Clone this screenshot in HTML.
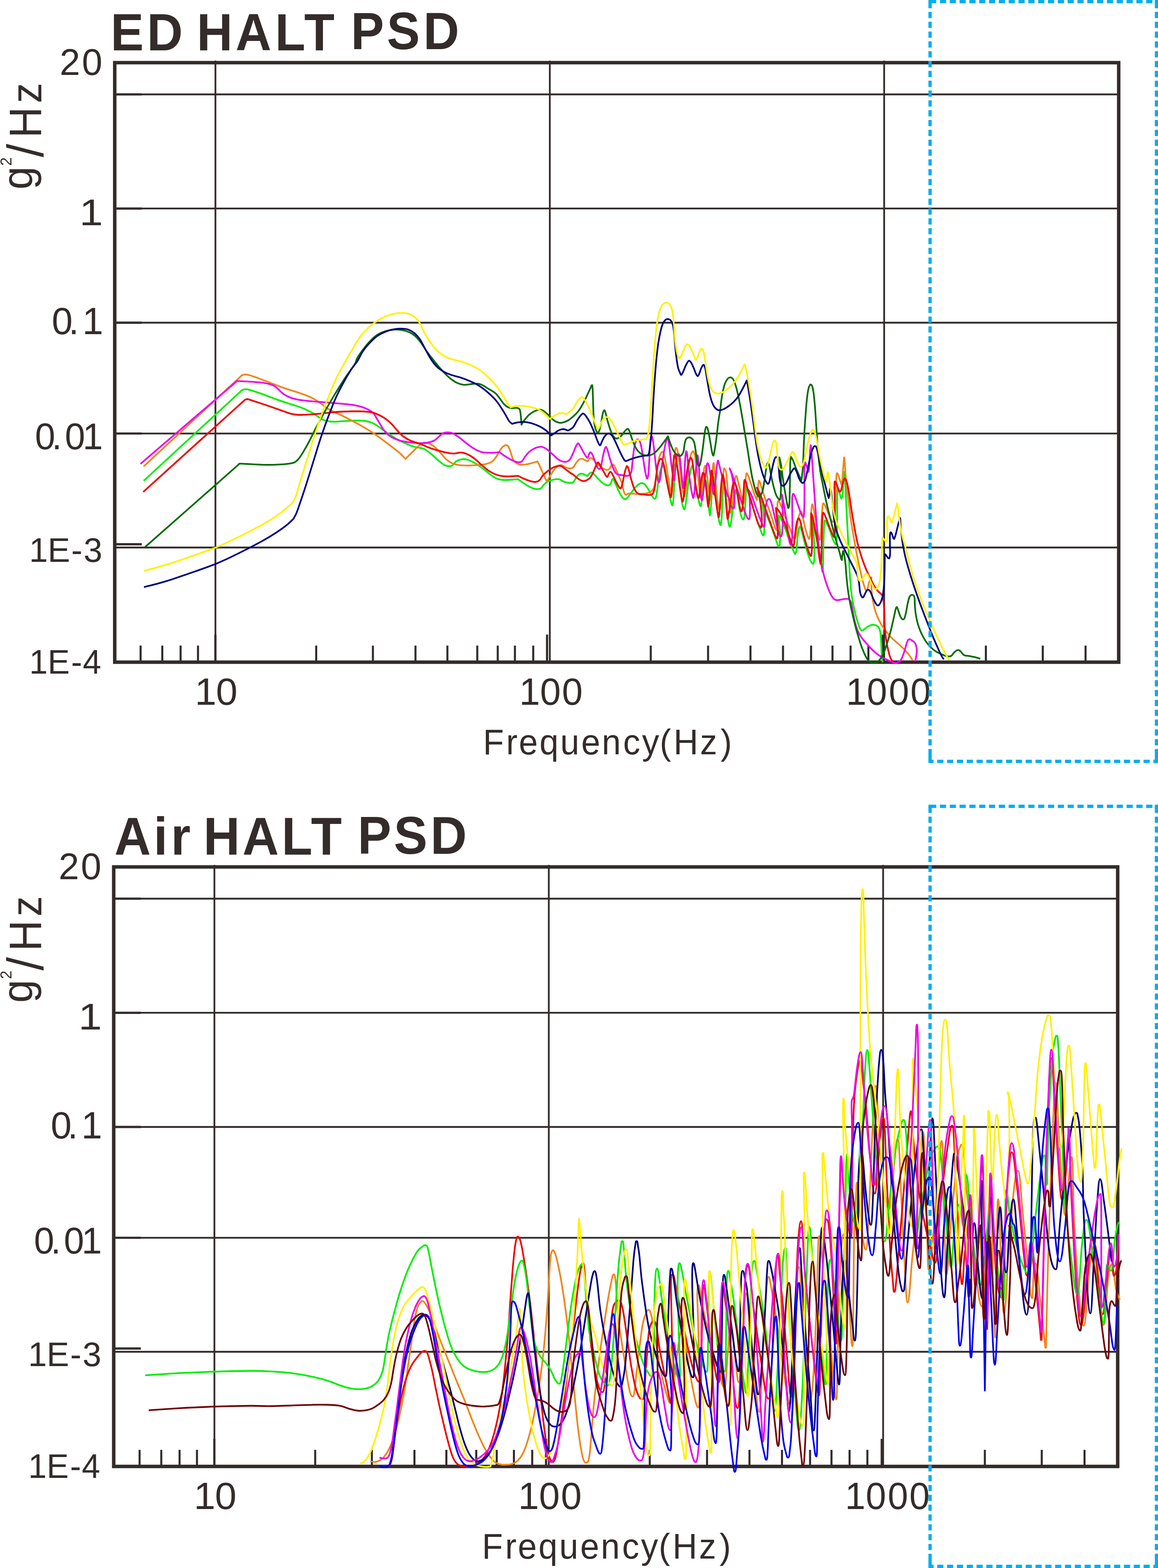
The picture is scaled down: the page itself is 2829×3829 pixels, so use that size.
<!DOCTYPE html>
<html lang="en">
<head>
<meta charset="utf-8">
<title>HALT PSD</title>
<style>
html,body{margin:0;padding:0;background:#fff;}
body{width:2829px;height:3829px;overflow:hidden;}
svg{display:block;}
text{font-family:"Liberation Sans",sans-serif;fill:#332c2b;}
.title{font-weight:bold;font-size:122px;letter-spacing:5px;}
.tk{font-size:86px;letter-spacing:2px;}
.xl{font-size:84px;letter-spacing:5px;}
.yl{font-size:106px;letter-spacing:3px;}
.sup{font-size:38px;}
.c{fill:none;stroke-width:4.1;stroke-linejoin:round;stroke-linecap:butt;}
</style>
</head>
<body>
<svg width="2829" height="3829" viewBox="0 0 2829 3829">
<rect width="2829" height="3829" fill="#fff"/>
<g id="chart-top">
<line x1="280" y1="230.5" x2="2733" y2="230.5" stroke="#332c2b" stroke-width="4.3" />
<line x1="280" y1="509.2" x2="2733" y2="509.2" stroke="#332c2b" stroke-width="4.3" />
<line x1="280" y1="788" x2="2733" y2="788" stroke="#332c2b" stroke-width="4.3" />
<line x1="280" y1="1058.6" x2="2733" y2="1058.6" stroke="#332c2b" stroke-width="4.3" />
<line x1="280" y1="1337" x2="2733" y2="1337" stroke="#332c2b" stroke-width="4.3" />
<line x1="282" y1="230.5" x2="346.5" y2="230.5" stroke="#332c2b" stroke-width="5.4" />
<line x1="282" y1="509.2" x2="346.5" y2="509.2" stroke="#332c2b" stroke-width="5.4" />
<line x1="282" y1="788" x2="346.5" y2="788" stroke="#332c2b" stroke-width="5.4" />
<line x1="282" y1="1058.6" x2="346.5" y2="1058.6" stroke="#332c2b" stroke-width="5.4" />
<line x1="282" y1="1329" x2="346.5" y2="1329" stroke="#332c2b" stroke-width="5.4" />
<line x1="526.3" y1="148" x2="526.3" y2="1617" stroke="#332c2b" stroke-width="4.3" />
<line x1="1343.2" y1="148" x2="1343.2" y2="1617" stroke="#332c2b" stroke-width="4.3" />
<line x1="2160" y1="148" x2="2160" y2="1617" stroke="#332c2b" stroke-width="4.3" />
<line x1="343.5" y1="1576.5" x2="343.5" y2="1617" stroke="#332c2b" stroke-width="5" />
<line x1="396.5" y1="1576.5" x2="396.5" y2="1617" stroke="#332c2b" stroke-width="5" />
<line x1="441.2" y1="1576.5" x2="441.2" y2="1617" stroke="#332c2b" stroke-width="5" />
<line x1="483.7" y1="1576.5" x2="483.7" y2="1617" stroke="#332c2b" stroke-width="5" />
<line x1="772.5" y1="1576.5" x2="772.5" y2="1617" stroke="#332c2b" stroke-width="5" />
<line x1="911" y1="1576.5" x2="911" y2="1617" stroke="#332c2b" stroke-width="5" />
<line x1="1015" y1="1576.5" x2="1015" y2="1617" stroke="#332c2b" stroke-width="5" />
<line x1="1093" y1="1576.5" x2="1093" y2="1617" stroke="#332c2b" stroke-width="5" />
<line x1="1166" y1="1576.5" x2="1166" y2="1617" stroke="#332c2b" stroke-width="5" />
<line x1="1216" y1="1576.5" x2="1216" y2="1617" stroke="#332c2b" stroke-width="5" />
<line x1="1258" y1="1576.5" x2="1258" y2="1617" stroke="#332c2b" stroke-width="5" />
<line x1="1302.7" y1="1576.5" x2="1302.7" y2="1617" stroke="#332c2b" stroke-width="5" />
<line x1="1589.8" y1="1576.5" x2="1589.8" y2="1617" stroke="#332c2b" stroke-width="5" />
<line x1="1729.8" y1="1576.5" x2="1729.8" y2="1617" stroke="#332c2b" stroke-width="5" />
<line x1="1833.4" y1="1576.5" x2="1833.4" y2="1617" stroke="#332c2b" stroke-width="5" />
<line x1="1912.9" y1="1576.5" x2="1912.9" y2="1617" stroke="#332c2b" stroke-width="5" />
<line x1="1981.5" y1="1576.5" x2="1981.5" y2="1617" stroke="#332c2b" stroke-width="5" />
<line x1="2033.8" y1="1576.5" x2="2033.8" y2="1617" stroke="#332c2b" stroke-width="5" />
<line x1="2078" y1="1576.5" x2="2078" y2="1617" stroke="#332c2b" stroke-width="5" />
<line x1="2121.5" y1="1576.5" x2="2121.5" y2="1617" stroke="#332c2b" stroke-width="5" />
<line x1="2408.5" y1="1576.5" x2="2408.5" y2="1617" stroke="#332c2b" stroke-width="5" />
<line x1="2547.5" y1="1576.5" x2="2547.5" y2="1617" stroke="#332c2b" stroke-width="5" />
<line x1="2652" y1="1576.5" x2="2652" y2="1617" stroke="#332c2b" stroke-width="5" />
<line x1="526.2" y1="1549.6" x2="526.2" y2="1617" stroke="#332c2b" stroke-width="5.4" />
<line x1="1336.5" y1="1549.6" x2="1336.5" y2="1617" stroke="#332c2b" stroke-width="5.4" />
<line x1="2156.6" y1="1549.6" x2="2156.6" y2="1617" stroke="#332c2b" stroke-width="5.4" />
<rect x="280.3" y="153" width="2452.7" height="1464" fill="none" stroke="#332c2b" stroke-width="8.5"/>
<g class="c">
<path d="M351.1 1174.0L591.5 952.4C592.7 952.1 596.0 950.7 598.8 950.6C601.5 950.5 601.2 949.9 607.8 951.7C614.5 953.5 627.5 957.6 638.7 961.5C649.9 965.4 662.9 971.0 675.0 975.3C687.1 979.6 700.5 983.7 711.4 987.3C722.3 990.9 731.3 993.3 740.4 997.1C749.5 1000.8 758.6 1005.6 765.8 1009.8C773.1 1014.0 778.6 1019.5 784.0 1022.5C789.4 1025.5 793.1 1026.8 798.5 1028.0C804.0 1029.2 808.8 1029.8 816.7 1029.8C824.6 1029.8 836.1 1028.5 845.7 1028.0C855.4 1027.5 866.3 1026.8 874.8 1026.9C883.3 1027.0 889.9 1027.3 896.6 1028.7C903.3 1030.1 906.8 1030.7 914.8 1035.2C922.7 1039.8 935.9 1050.1 944.4 1055.9C953.0 1061.8 959.0 1066.2 966.2 1070.5C973.5 1074.7 980.8 1078.0 988.0 1081.4C995.3 1084.7 1003.1 1088.3 1009.8 1090.4C1016.5 1092.6 1023.1 1092.9 1028.0 1094.1C1032.8 1095.3 1034.6 1095.3 1038.9 1097.7C1043.1 1100.1 1047.9 1104.1 1053.4 1108.6C1058.8 1113.1 1066.1 1120.4 1071.6 1124.9C1077.0 1129.5 1081.2 1133.6 1086.1 1135.8C1090.9 1138.1 1097.0 1138.7 1100.6 1138.4C1104.2 1138.1 1105.5 1136.1 1107.9 1134.0C1110.3 1132.0 1111.5 1128.2 1115.1 1126.0C1118.8 1123.9 1124.8 1121.8 1129.7 1121.3C1134.5 1120.8 1138.7 1121.3 1144.2 1123.1C1149.6 1124.9 1156.3 1128.6 1162.4 1132.2C1168.4 1135.8 1174.5 1140.4 1180.5 1144.9C1186.6 1149.5 1193.2 1155.5 1198.7 1159.4C1204.1 1163.4 1207.8 1166.4 1213.2 1168.5C1218.6 1170.6 1225.3 1171.7 1231.4 1172.2C1237.4 1172.6 1243.8 1171.7 1249.5 1171.4C1255.3 1171.1 1263.1 1170.5 1265.9 1170.3C1268.0 1171.9 1274.0 1176.4 1278.6 1179.4C1283.1 1182.5 1288.3 1186.1 1293.1 1188.5C1297.9 1190.9 1303.1 1193.2 1307.6 1194.0C1312.2 1194.7 1317.0 1194.7 1320.3 1193.2C1323.7 1191.7 1324.9 1187.7 1327.6 1184.9C1330.3 1182.1 1332.8 1178.8 1336.7 1176.5C1340.6 1174.3 1346.4 1172.5 1351.2 1171.4C1356.1 1170.4 1361.5 1169.6 1365.7 1170.3C1370.0 1171.1 1372.4 1174.3 1376.6 1175.8C1380.9 1177.3 1387.3 1179.1 1391.2 1179.4C1395.1 1179.8 1397.3 1180.0 1400.0 1178.0C1402.7 1175.9 1404.8 1170.3 1407.3 1167.1C1409.7 1163.8 1412.1 1160.3 1414.5 1158.6C1416.9 1156.9 1419.4 1156.5 1421.8 1156.7C1424.2 1156.8 1426.8 1158.3 1429.1 1159.3C1431.3 1160.3 1434.1 1162.1 1435.1 1162.7C1435.9 1161.6 1438.3 1157.7 1440.0 1156.2C1441.6 1154.7 1443.0 1153.6 1444.8 1153.8C1446.6 1154.0 1448.2 1155.0 1450.8 1157.4C1453.5 1159.8 1457.3 1164.9 1460.5 1168.3C1463.8 1171.7 1467.0 1175.3 1470.2 1178.0C1473.4 1180.6 1477.1 1182.8 1479.9 1184.0C1482.7 1185.2 1485.1 1185.8 1487.2 1185.2C1489.2 1184.6 1490.6 1182.8 1492.0 1180.4C1493.4 1178.0 1494.6 1172.4 1495.6 1170.7C1496.7 1169.0 1497.1 1169.2 1498.1 1170.2C1499.1 1171.2 1499.9 1172.8 1501.7 1176.8C1503.5 1180.7 1506.5 1188.5 1509.0 1193.7C1511.4 1199.0 1514.0 1204.4 1516.2 1208.2C1518.4 1212.1 1520.5 1214.9 1522.3 1216.7C1524.1 1218.5 1525.5 1219.2 1527.1 1219.1C1528.7 1219.0 1529.7 1218.4 1532.0 1216.2C1534.2 1214.0 1537.4 1209.8 1540.4 1205.8C1543.5 1201.9 1546.9 1196.3 1550.1 1192.5C1553.3 1188.7 1557.0 1184.9 1559.8 1182.8C1562.6 1180.7 1564.6 1179.8 1567.1 1179.7C1569.5 1179.5 1571.9 1180.1 1574.3 1182.1C1576.8 1184.0 1579.2 1187.7 1581.6 1191.3C1584.0 1194.8 1586.6 1199.6 1588.9 1203.4C1591.1 1207.2 1593.1 1211.9 1594.9 1214.3C1596.7 1216.7 1598.3 1218.5 1599.8 1217.9C1601.2 1217.3 1602.2 1215.9 1603.4 1210.7C1604.6 1205.4 1605.6 1195.7 1607.0 1186.4C1608.4 1177.2 1610.3 1162.8 1611.9 1155.0C1613.5 1147.1 1615.5 1142.1 1616.7 1139.2C1617.9 1136.4 1618.1 1137.0 1619.1 1138.0C1620.1 1139.0 1621.1 1139.2 1622.8 1145.3C1624.4 1151.3 1626.6 1163.4 1628.8 1174.3C1631.0 1185.2 1634.3 1201.8 1636.1 1210.7C1637.9 1219.5 1638.6 1223.8 1639.7 1227.6C1640.8 1231.4 1641.9 1235.3 1642.9 1233.7C1643.8 1232.0 1644.5 1227.8 1645.3 1217.9C1646.0 1208.0 1646.7 1187.7 1647.5 1174.3C1648.2 1161.0 1649.2 1145.3 1649.9 1138.0C1650.6 1130.8 1651.0 1130.3 1651.8 1130.8C1652.6 1131.2 1653.3 1132.4 1654.7 1140.4C1656.1 1148.5 1658.4 1164.6 1660.3 1179.2C1662.2 1193.7 1664.7 1217.3 1666.3 1227.6C1668.0 1237.9 1669.0 1238.3 1670.0 1240.9C1671.0 1243.5 1671.6 1244.8 1672.4 1243.3C1673.2 1241.9 1673.8 1238.7 1674.8 1232.4C1675.8 1226.2 1677.0 1216.3 1678.5 1205.8C1679.9 1195.3 1681.7 1179.6 1683.3 1169.5C1684.9 1159.4 1686.9 1150.5 1688.1 1145.3C1689.3 1140.0 1689.7 1138.0 1690.6 1138.0C1691.4 1138.0 1692.1 1138.0 1693.5 1145.3C1694.9 1152.5 1697.1 1170.3 1699.0 1181.6C1701.0 1192.9 1703.3 1204.6 1705.1 1213.1C1706.8 1221.5 1708.2 1228.8 1709.4 1232.4C1710.7 1236.1 1711.5 1237.3 1712.3 1234.9C1713.2 1232.4 1713.8 1226.4 1714.8 1217.9C1715.8 1209.4 1717.4 1191.5 1718.4 1184.0C1719.4 1176.6 1719.8 1174.7 1720.8 1173.1C1721.8 1171.5 1723.4 1171.7 1724.5 1174.3C1725.5 1177.0 1725.9 1179.6 1726.9 1188.9C1727.9 1198.1 1729.4 1219.1 1730.5 1230.0C1731.6 1240.9 1732.9 1249.9 1733.7 1254.2C1734.4 1258.6 1734.3 1260.2 1734.9 1256.2C1735.5 1252.1 1736.4 1242.5 1737.3 1230.0C1738.2 1217.6 1739.3 1192.1 1740.2 1181.6C1741.1 1171.1 1742.0 1169.1 1742.6 1167.1C1743.2 1165.1 1743.0 1163.0 1743.8 1169.5C1744.6 1175.9 1745.8 1191.7 1747.5 1205.8C1749.1 1219.9 1751.7 1242.1 1753.5 1254.2C1755.3 1266.3 1757.1 1274.0 1758.4 1278.5C1759.6 1282.9 1760.0 1283.7 1760.8 1280.9C1761.6 1278.0 1762.4 1273.6 1763.2 1261.5C1764.0 1249.4 1764.8 1221.8 1765.6 1208.2C1766.4 1194.7 1767.2 1184.4 1768.0 1180.4C1768.8 1176.4 1769.5 1177.8 1770.5 1184.0C1771.5 1190.3 1772.7 1203.4 1774.1 1217.9C1775.5 1232.4 1777.5 1259.8 1778.9 1271.2C1780.3 1282.6 1781.4 1286.0 1782.6 1286.4C1783.8 1286.8 1784.8 1281.8 1786.2 1273.6C1787.6 1265.4 1789.4 1248.6 1791.0 1237.3C1792.7 1226.0 1794.9 1212.6 1795.9 1205.8C1796.9 1199.1 1796.2 1196.7 1796.9 1196.9C1797.7 1197.0 1799.2 1200.1 1800.6 1206.5C1802.0 1213.0 1803.6 1226.3 1805.4 1235.6C1807.2 1244.9 1809.8 1256.8 1811.5 1262.2C1813.2 1267.7 1814.4 1268.7 1815.6 1268.3C1816.8 1267.9 1817.8 1266.9 1818.7 1259.8C1819.7 1252.7 1820.4 1237.6 1821.2 1225.9C1821.9 1214.2 1822.3 1194.7 1823.1 1189.8C1823.9 1185.0 1824.5 1192.5 1826.0 1196.9C1827.5 1201.3 1829.6 1208.6 1832.1 1216.2C1834.5 1223.9 1837.5 1233.6 1840.5 1242.9C1843.6 1252.1 1847.2 1263.0 1850.2 1271.9C1853.2 1280.8 1856.5 1290.3 1858.7 1296.1C1860.9 1302.0 1862.2 1305.8 1863.5 1307.0C1864.8 1308.2 1865.8 1307.2 1866.4 1303.4C1867.0 1299.6 1867.4 1293.7 1867.2 1284.0C1866.9 1274.3 1866.0 1256.6 1864.7 1245.3C1863.5 1234.0 1861.3 1222.7 1859.9 1216.2C1858.5 1209.8 1856.9 1208.2 1856.3 1206.5C1857.3 1209.8 1859.7 1217.8 1862.3 1225.9C1864.9 1234.0 1868.8 1246.1 1872.0 1255.0C1875.2 1263.8 1878.5 1270.7 1881.7 1279.2C1884.9 1287.7 1888.4 1297.3 1891.4 1305.8C1894.4 1314.3 1897.8 1325.3 1899.9 1330.0C1901.9 1334.8 1902.6 1335.2 1903.5 1334.4C1904.4 1333.6 1905.1 1332.0 1905.4 1325.2C1905.7 1318.4 1905.9 1303.8 1905.4 1293.7C1904.9 1283.6 1903.0 1270.5 1902.3 1264.6C1901.5 1258.8 1901.3 1259.6 1901.1 1258.6C1901.9 1259.2 1903.5 1258.0 1905.9 1262.2C1908.3 1266.5 1912.4 1275.9 1915.6 1284.0C1918.8 1292.1 1922.1 1301.8 1925.3 1310.7C1928.5 1319.5 1932.3 1330.6 1935.0 1337.3C1937.6 1343.9 1939.6 1348.2 1941.0 1350.6C1942.4 1353.0 1942.6 1353.2 1943.4 1351.8C1944.2 1350.4 1945.1 1348.6 1945.9 1342.1C1946.7 1335.7 1947.3 1321.5 1948.3 1313.1C1949.3 1304.6 1950.9 1295.8 1951.9 1291.3C1952.9 1286.8 1953.3 1285.6 1954.3 1286.0C1955.3 1286.4 1956.4 1288.4 1958.0 1293.7C1959.6 1299.0 1961.8 1309.4 1964.0 1317.9C1966.2 1326.4 1968.9 1336.5 1971.3 1344.6C1973.7 1352.6 1976.3 1361.1 1978.5 1366.3C1980.8 1371.6 1983.2 1374.4 1984.6 1376.0C1986.0 1377.6 1986.2 1378.0 1987.0 1376.0C1987.8 1374.0 1989.2 1373.6 1989.4 1363.9C1989.7 1354.2 1989.3 1332.0 1988.7 1317.9C1988.1 1303.8 1986.5 1287.2 1985.8 1279.2C1985.1 1271.1 1984.8 1271.1 1984.6 1269.5C1986.0 1275.5 1990.5 1293.7 1993.1 1305.8C1995.7 1317.9 1998.1 1330.0 2000.3 1342.1C2002.6 1354.2 2005.0 1369.6 2006.4 1378.5C2007.8 1387.3 2008.1 1394.2 2008.8 1395.4C2009.5 1396.6 2010.0 1398.6 2010.5 1385.7C2011.0 1372.8 2011.4 1336.1 2012.0 1317.9C2012.5 1299.8 2013.0 1284.5 2013.7 1276.8C2014.3 1269.0 2015.1 1271.2 2016.1 1271.2C2017.1 1271.2 2017.9 1273.0 2019.7 1276.8C2021.5 1280.5 2024.6 1287.2 2027.0 1293.7C2029.4 1300.2 2032.0 1309.8 2034.2 1315.5C2036.5 1321.1 2038.7 1326.4 2040.3 1327.6C2041.9 1328.8 2043.1 1332.4 2043.9 1322.8C2044.7 1313.1 2044.9 1286.4 2045.1 1269.5C2045.3 1252.5 2044.9 1233.2 2045.1 1221.1C2045.3 1209.0 2045.7 1201.3 2046.3 1196.9C2046.9 1192.5 2047.8 1192.7 2048.8 1194.7C2049.8 1196.7 2051.3 1205.2 2052.4 1209.0C2053.5 1212.8 2054.5 1217.8 2055.5 1217.4C2056.6 1217.0 2057.6 1214.8 2058.5 1206.5C2059.3 1198.3 2059.8 1177.1 2060.4 1168.0C2061.0 1159.0 2061.5 1153.6 2062.1 1152.3C2062.6 1151.0 2063.2 1153.1 2063.8 1160.5C2064.4 1168.0 2065.0 1182.7 2065.7 1196.9C2066.4 1211.0 2067.3 1229.1 2068.1 1245.3C2068.9 1261.4 2069.7 1277.6 2070.6 1293.7C2071.4 1309.8 2072.2 1326.0 2073.0 1342.1C2073.8 1358.3 2074.4 1374.4 2075.4 1390.6C2076.4 1406.7 2078.0 1427.4 2079.0 1439.0C2080.1 1450.6 2080.3 1451.3 2081.7 1460.0C2083.2 1468.8 2085.6 1481.8 2087.8 1491.5C2090.0 1501.2 2092.8 1510.9 2095.1 1518.1C2097.3 1525.4 2099.3 1531.5 2101.1 1535.1C2102.9 1538.7 2104.1 1539.7 2106.0 1539.9C2107.8 1540.1 2109.4 1538.1 2112.0 1536.3C2114.6 1534.5 2118.5 1530.8 2121.7 1529.0C2124.9 1527.3 2128.2 1526.2 2131.4 1525.9C2134.6 1525.6 2138.4 1526.2 2141.1 1527.3C2143.7 1528.5 2145.5 1529.8 2147.1 1532.7C2148.7 1535.6 2149.8 1538.7 2150.8 1544.8C2151.7 1550.8 2152.2 1560.9 2152.7 1569.0C2153.2 1577.1 2153.3 1585.9 2153.7 1593.2C2154.1 1600.5 2154.6 1608.5 2155.1 1612.6C2155.6 1616.6 2156.5 1616.6 2156.8 1617.4" stroke="#00ee00"/>
<path d="M351.1 1138.7L591.5 916.1C592.4 915.9 594.5 914.8 597.0 914.6C599.4 914.5 602.1 914.5 606.0 915.4C610.0 916.2 612.1 916.7 620.6 919.7C629.0 922.8 644.8 928.9 656.9 933.5C669.0 938.1 681.1 943.1 693.2 947.3C705.3 951.6 718.6 955.2 729.5 959.0C740.4 962.7 750.1 965.9 758.6 969.9C767.1 973.8 773.1 977.7 780.4 982.6C787.6 987.4 792.5 993.3 802.2 998.9C811.8 1004.5 826.4 1010.3 838.5 1016.3C850.6 1022.4 862.7 1028.5 874.8 1035.2C886.9 1042.0 900.7 1050.2 911.1 1057.0C921.5 1063.8 929.2 1070.0 937.2 1075.9C945.1 1081.8 952.3 1087.1 959.0 1092.3C965.6 1097.4 971.9 1102.1 977.1 1106.8C982.4 1111.5 988.3 1118.3 990.6 1120.6C993.2 1118.0 1000.5 1110.5 1006.2 1105.0C1011.8 1099.5 1019.5 1091.5 1024.3 1087.5C1029.2 1083.6 1031.3 1082.1 1035.2 1081.4C1039.2 1080.6 1043.7 1081.7 1047.9 1083.2C1052.2 1084.7 1056.1 1086.8 1060.7 1090.4C1065.2 1094.1 1070.3 1099.8 1075.2 1105.0C1080.0 1110.1 1084.9 1117.0 1089.7 1121.3C1094.6 1125.7 1098.8 1128.7 1104.2 1131.1C1109.7 1133.5 1115.7 1134.9 1122.4 1135.8C1129.1 1136.8 1136.9 1136.9 1144.2 1136.9C1151.5 1136.9 1158.7 1136.5 1166.0 1135.8C1173.2 1135.2 1181.7 1134.4 1187.8 1132.9C1193.8 1131.4 1198.1 1129.9 1202.3 1126.8C1206.5 1123.6 1209.6 1119.2 1213.2 1114.0C1216.8 1108.9 1220.8 1100.2 1224.1 1095.9C1227.4 1091.5 1230.5 1089.1 1233.2 1087.9C1235.9 1086.7 1238.3 1086.7 1240.4 1088.6C1242.6 1090.6 1243.8 1094.1 1245.9 1099.5C1248.0 1105.0 1250.7 1116.2 1253.2 1121.3C1255.6 1126.5 1257.4 1128.2 1260.4 1130.4C1263.4 1132.6 1267.1 1134.1 1271.3 1134.8C1275.5 1135.4 1281.0 1134.8 1285.8 1134.0C1290.7 1133.3 1295.8 1131.6 1300.4 1130.4C1304.9 1129.2 1311.0 1127.4 1313.1 1126.8C1314.0 1128.6 1316.4 1133.1 1318.5 1137.7C1320.6 1142.2 1323.4 1148.6 1325.8 1154.0C1328.2 1159.4 1331.2 1167.0 1333.1 1170.3C1334.9 1173.7 1335.2 1174.9 1336.7 1174.0C1338.2 1173.1 1339.7 1168.8 1342.1 1164.9C1344.6 1161.0 1347.9 1154.8 1351.2 1150.4C1354.5 1145.9 1358.8 1140.8 1362.1 1138.4C1365.4 1136.0 1368.2 1135.5 1371.2 1135.8C1374.2 1136.2 1376.9 1139.2 1380.3 1140.6C1383.6 1141.9 1387.9 1143.7 1391.2 1143.8C1394.5 1144.0 1397.3 1143.8 1400.0 1141.6C1402.7 1139.5 1404.8 1134.0 1407.3 1130.8C1409.7 1127.5 1412.1 1124.0 1414.5 1122.3C1416.9 1120.5 1419.4 1120.1 1421.8 1120.3C1424.2 1120.5 1426.8 1122.4 1429.1 1123.5C1431.3 1124.6 1434.1 1126.5 1435.1 1127.1C1435.9 1126.0 1438.3 1121.8 1440.0 1120.3C1441.6 1118.9 1443.0 1118.1 1444.8 1118.6C1446.6 1119.2 1448.6 1121.3 1450.8 1123.5C1453.1 1125.7 1455.3 1129.1 1458.1 1132.0C1460.9 1134.8 1464.6 1138.1 1467.8 1140.4C1471.0 1142.8 1474.7 1144.8 1477.5 1146.0C1480.3 1147.2 1482.7 1148.0 1484.7 1147.7C1486.8 1147.4 1488.2 1145.9 1489.6 1144.1C1491.0 1142.3 1492.0 1138.5 1493.2 1136.8C1494.4 1135.1 1495.6 1133.9 1496.9 1133.9C1498.1 1133.9 1498.9 1134.1 1500.5 1136.8C1502.1 1139.5 1504.3 1145.1 1506.5 1150.1C1508.8 1155.2 1511.6 1161.8 1513.8 1167.1C1516.0 1172.3 1518.2 1176.4 1519.9 1181.6C1521.5 1186.8 1522.3 1194.3 1523.5 1198.5C1524.7 1202.8 1525.9 1205.4 1527.1 1207.0C1528.3 1208.6 1529.3 1208.5 1530.8 1208.2C1532.2 1207.9 1533.2 1205.7 1535.6 1205.3C1538.0 1204.9 1541.6 1205.6 1545.3 1205.8C1548.9 1206.0 1553.3 1206.5 1557.4 1206.5C1561.4 1206.5 1565.5 1206.3 1569.5 1205.8C1573.5 1205.4 1578.0 1204.9 1581.6 1203.9C1585.2 1202.9 1588.7 1201.9 1591.3 1199.8C1593.9 1197.7 1595.5 1196.3 1597.3 1191.3C1599.2 1186.2 1600.8 1178.0 1602.2 1169.5C1603.6 1161.0 1604.4 1149.3 1605.8 1140.4C1607.2 1131.6 1609.0 1122.1 1610.7 1116.2C1612.3 1110.4 1614.1 1107.4 1615.5 1105.3C1616.9 1103.2 1617.9 1102.6 1619.1 1103.6C1620.3 1104.6 1621.3 1106.1 1622.8 1111.4C1624.2 1116.7 1625.8 1125.1 1627.6 1135.6C1629.4 1146.1 1631.8 1163.4 1633.7 1174.3C1635.5 1185.2 1637.3 1195.7 1638.5 1201.0C1639.7 1206.2 1640.2 1208.6 1640.9 1205.8C1641.6 1203.0 1642.1 1195.7 1642.9 1184.0C1643.7 1172.3 1644.7 1149.7 1645.8 1135.6C1646.9 1121.5 1648.3 1106.2 1649.4 1099.3C1650.5 1092.3 1651.3 1093.5 1652.3 1093.9C1653.3 1094.4 1654.1 1094.8 1655.4 1101.7C1656.8 1108.6 1658.7 1122.7 1660.3 1135.6C1661.9 1148.5 1663.5 1167.1 1665.1 1179.2C1666.7 1191.3 1668.8 1202.8 1670.0 1208.2C1671.2 1213.7 1671.4 1214.7 1672.4 1211.9C1673.4 1209.0 1674.6 1201.6 1676.0 1191.3C1677.4 1181.0 1679.1 1163.0 1680.9 1150.1C1682.7 1137.2 1685.1 1121.7 1686.9 1113.8C1688.7 1105.9 1690.6 1104.7 1691.8 1102.9C1693.0 1101.1 1693.2 1101.1 1694.2 1102.9C1695.2 1104.7 1696.4 1106.7 1697.8 1113.8C1699.2 1120.9 1701.0 1133.6 1702.7 1145.3C1704.3 1157.0 1706.1 1173.1 1707.5 1184.0C1708.9 1194.9 1710.3 1205.8 1711.1 1210.7C1711.9 1215.5 1711.7 1215.9 1712.3 1213.1C1713.0 1210.3 1713.8 1203.0 1714.8 1193.7C1715.8 1184.4 1717.3 1166.5 1718.4 1157.4C1719.5 1148.3 1720.5 1142.1 1721.5 1139.2C1722.6 1136.4 1723.4 1136.2 1724.5 1140.4C1725.5 1144.7 1726.7 1153.8 1728.1 1164.6C1729.5 1175.5 1731.7 1196.5 1732.9 1205.8C1734.1 1215.1 1734.5 1221.5 1735.4 1220.3C1736.2 1219.1 1737.0 1209.4 1737.8 1198.5C1738.6 1187.7 1739.4 1165.9 1740.2 1155.0C1741.0 1144.0 1741.9 1135.9 1742.6 1132.7C1743.3 1129.5 1743.5 1129.5 1744.3 1135.6C1745.1 1141.7 1746.1 1155.8 1747.5 1169.5C1748.8 1183.2 1750.7 1205.4 1752.3 1217.9C1753.9 1230.4 1755.7 1242.1 1757.1 1244.6C1758.6 1247.0 1759.6 1242.5 1760.8 1232.4C1762.0 1222.4 1763.2 1198.1 1764.4 1184.0C1765.6 1169.9 1767.0 1154.2 1768.0 1147.7C1769.0 1141.2 1769.5 1144.1 1770.5 1145.3C1771.5 1146.5 1772.9 1146.9 1774.1 1155.0C1775.3 1163.0 1776.3 1179.2 1777.7 1193.7C1779.1 1208.2 1781.4 1232.4 1782.6 1242.1C1783.8 1251.8 1784.0 1253.8 1785.0 1251.8C1786.0 1249.8 1787.2 1241.3 1788.6 1230.0C1790.0 1218.7 1791.8 1195.3 1793.5 1184.0C1795.1 1172.7 1796.5 1162.9 1798.3 1162.2C1800.1 1161.5 1802.0 1171.7 1804.2 1179.9C1806.4 1188.1 1809.5 1202.9 1811.5 1211.4C1813.5 1219.9 1815.5 1227.5 1816.3 1230.8C1816.7 1227.9 1818.0 1222.3 1818.7 1213.8C1819.5 1205.3 1820.1 1188.4 1820.7 1179.9C1821.3 1171.4 1821.8 1167.1 1822.4 1163.0C1823.0 1158.8 1823.3 1155.2 1824.3 1155.2C1825.3 1155.2 1826.5 1158.0 1828.4 1163.0C1830.3 1167.9 1833.3 1177.5 1835.7 1184.7C1838.1 1192.0 1840.7 1200.5 1843.0 1206.5C1845.2 1212.6 1848.0 1218.6 1849.0 1221.1C1849.4 1217.0 1850.6 1204.7 1851.4 1196.9C1852.2 1189.0 1852.6 1175.9 1853.8 1173.8C1855.1 1171.8 1856.9 1179.7 1858.7 1184.7C1860.5 1189.8 1862.5 1197.3 1864.7 1204.1C1867.0 1211.0 1869.6 1219.0 1872.0 1225.9C1874.4 1232.8 1876.9 1238.4 1879.3 1245.3C1881.7 1252.1 1884.1 1259.8 1886.5 1267.1C1889.0 1274.3 1892.0 1284.4 1893.8 1288.9C1895.6 1293.3 1896.6 1296.9 1897.4 1293.7C1898.2 1290.5 1898.4 1279.2 1898.6 1269.5C1898.9 1259.8 1898.8 1243.1 1899.1 1235.6C1899.4 1228.1 1899.6 1226.5 1900.3 1224.7C1901.1 1222.9 1902.2 1222.9 1903.5 1224.7C1904.8 1226.5 1906.3 1230.5 1908.3 1235.6C1910.3 1240.6 1913.2 1248.5 1915.6 1255.0C1918.0 1261.4 1920.4 1268.3 1922.9 1274.3C1925.3 1280.4 1927.7 1285.2 1930.1 1291.3C1932.5 1297.3 1935.4 1306.6 1937.4 1310.7C1939.4 1314.7 1940.8 1317.5 1942.2 1315.5C1943.6 1313.5 1944.6 1306.2 1945.9 1298.5C1947.1 1290.9 1948.1 1277.2 1949.5 1269.5C1950.9 1261.8 1952.9 1255.8 1954.3 1252.5C1955.7 1249.3 1956.8 1248.1 1958.0 1250.1C1959.2 1252.1 1960.0 1257.8 1961.6 1264.6C1963.2 1271.5 1965.6 1283.6 1967.7 1291.3C1969.7 1299.0 1972.1 1306.6 1973.7 1310.7C1975.3 1314.7 1976.3 1317.5 1977.3 1315.5C1978.3 1313.5 1979.1 1308.6 1979.8 1298.5C1980.4 1288.5 1980.8 1265.7 1981.5 1255.0C1982.1 1244.3 1982.7 1238.1 1983.4 1234.4C1984.0 1230.7 1984.5 1230.9 1985.3 1232.7C1986.1 1234.5 1986.9 1238.3 1988.2 1245.3C1989.5 1252.2 1991.3 1263.8 1993.1 1274.3C1994.9 1284.8 1997.5 1301.0 1999.1 1308.2C2000.7 1315.5 2001.8 1318.3 2002.8 1317.9C2003.8 1317.5 2004.4 1315.9 2005.2 1305.8C2006.0 1295.7 2006.8 1269.5 2007.6 1257.4C2008.4 1245.3 2009.3 1237.8 2010.0 1233.2C2010.8 1228.5 2011.0 1229.1 2012.0 1229.5C2013.0 1229.9 2014.4 1232.2 2016.1 1235.6C2017.8 1239.0 2019.9 1244.9 2022.1 1250.1C2024.4 1255.4 2027.2 1263.0 2029.4 1267.1C2031.6 1271.1 2033.8 1274.3 2035.4 1274.3C2037.1 1274.3 2038.2 1275.9 2039.1 1267.1C2040.0 1258.2 2040.4 1236.8 2041.0 1221.1C2041.6 1205.3 2042.2 1183.1 2042.7 1172.6C2043.2 1162.1 2043.4 1160.9 2043.9 1158.1C2044.4 1155.3 2044.8 1155.1 2045.6 1155.9C2046.4 1156.7 2047.4 1159.3 2048.8 1163.0C2050.1 1166.6 2052.4 1174.7 2053.6 1177.7C2054.8 1180.8 2055.2 1183.8 2056.0 1181.4C2056.8 1178.9 2057.6 1171.9 2058.5 1163.2C2059.3 1154.5 2060.2 1137.0 2060.9 1129.3C2061.5 1121.5 2061.8 1116.7 2062.3 1116.7C2062.8 1116.7 2063.2 1122.4 2063.8 1129.3C2064.3 1136.2 2064.8 1147.1 2065.7 1158.4C2066.6 1169.6 2067.9 1184.0 2069.3 1196.9C2070.8 1209.7 2072.4 1221.9 2074.2 1235.6C2076.0 1249.3 2078.0 1264.6 2080.2 1279.2C2082.5 1293.7 2085.1 1309.0 2087.5 1322.8C2089.9 1336.5 2092.3 1349.4 2094.8 1361.5C2097.2 1373.6 2099.6 1384.9 2102.0 1395.4C2104.5 1405.9 2107.1 1416.8 2109.3 1424.5C2111.5 1432.1 2113.7 1439.0 2115.4 1441.4C2117.0 1443.8 2117.8 1441.8 2119.0 1439.0C2120.2 1436.2 2121.4 1428.9 2122.6 1424.5C2123.8 1420.0 2125.2 1414.8 2126.2 1412.3C2127.3 1409.9 2128.3 1410.3 2128.7 1409.9C2128.7 1414.8 2128.7 1430.9 2129.2 1439.0C2129.6 1447.1 2129.9 1450.8 2131.1 1458.4C2132.3 1465.9 2134.2 1476.3 2136.2 1484.2C2138.3 1492.2 2140.7 1499.2 2143.5 1506.0C2146.3 1512.9 2149.5 1519.3 2153.2 1525.4C2156.8 1531.5 2161.2 1537.1 2165.3 1542.3C2169.3 1547.6 2173.3 1552.6 2177.4 1556.9C2181.4 1561.1 2185.5 1564.1 2189.5 1567.8C2193.5 1571.4 2197.6 1574.8 2201.6 1578.7C2205.6 1582.5 2210.1 1586.7 2213.7 1590.8C2217.3 1594.8 2220.8 1599.2 2223.4 1602.9C2226.0 1606.5 2228.4 1611.0 2229.4 1612.6" stroke="#f08519"/>
<path d="M343.4 1132.6L578.8 930.6C583.3 930.8 596.0 931.1 606.0 931.7C616.0 932.3 629.0 932.9 638.7 934.3C648.4 935.6 658.1 937.7 664.1 939.7C670.2 941.7 670.2 942.4 675.0 946.2C679.9 950.1 687.1 958.4 693.2 962.6C699.3 966.8 703.5 969.1 711.4 971.7C719.2 974.2 728.3 976.2 740.4 977.8C752.5 979.5 767.7 980.4 784.0 981.8C800.3 983.2 824.6 984.9 838.5 986.2C852.4 987.5 858.5 988.0 867.5 989.8C876.6 991.6 885.7 994.1 893.0 997.1C900.2 1000.1 906.8 1004.2 911.1 1008.0C915.5 1011.7 915.9 1014.7 919.0 1019.6C922.1 1024.6 926.3 1032.0 929.9 1037.8C933.5 1043.5 936.6 1049.3 940.8 1054.1C945.0 1059.0 949.9 1063.4 955.3 1066.8C960.8 1070.3 966.8 1072.7 973.5 1074.8C980.1 1076.9 987.4 1078.3 995.3 1079.5C1003.1 1080.8 1012.8 1081.8 1020.7 1082.1C1028.6 1082.4 1035.8 1082.4 1042.5 1081.4C1049.2 1080.3 1055.8 1078.3 1060.7 1075.9C1065.5 1073.5 1067.9 1069.9 1071.6 1066.8C1075.2 1063.8 1078.5 1059.6 1082.4 1057.8C1086.4 1055.9 1090.9 1055.8 1095.2 1055.9C1099.4 1056.1 1103.3 1056.7 1107.9 1058.8C1112.4 1061.0 1117.0 1064.6 1122.4 1068.6C1127.8 1072.7 1134.5 1078.6 1140.6 1083.2C1146.6 1087.7 1152.7 1092.4 1158.7 1095.9C1164.8 1099.3 1170.2 1102.2 1176.9 1103.9C1183.5 1105.5 1191.4 1105.6 1198.7 1105.7C1205.9 1105.8 1216.8 1104.5 1220.5 1104.2C1222.3 1105.6 1226.5 1109.1 1231.4 1112.2C1236.2 1115.4 1244.1 1120.4 1249.5 1123.1C1255.0 1125.9 1259.8 1128.0 1264.0 1128.6C1268.3 1129.2 1271.9 1128.9 1274.9 1126.8C1278.0 1124.6 1279.2 1119.8 1282.2 1115.9C1285.2 1111.9 1288.9 1106.8 1293.1 1103.2C1297.3 1099.5 1302.5 1096.1 1307.6 1094.1C1312.8 1092.1 1319.1 1090.6 1324.0 1091.2C1328.8 1091.8 1332.1 1094.5 1336.7 1097.7C1341.2 1100.9 1346.4 1106.2 1351.2 1110.4C1356.1 1114.7 1360.9 1120.2 1365.7 1123.1C1370.6 1126.0 1376.0 1127.9 1380.3 1127.9C1384.5 1127.9 1387.9 1126.7 1391.2 1123.1C1394.5 1119.6 1397.5 1111.7 1400.0 1106.5C1402.5 1101.4 1404.2 1095.8 1406.1 1092.0C1407.9 1088.2 1409.7 1085.0 1410.9 1083.5C1412.1 1082.0 1412.1 1081.8 1413.3 1083.1C1414.5 1084.3 1415.9 1086.9 1418.2 1090.8C1420.4 1094.7 1424.0 1102.1 1426.6 1106.5C1429.3 1111.0 1432.3 1115.8 1433.9 1117.4C1435.5 1119.0 1435.3 1118.0 1436.3 1116.2C1437.3 1114.4 1438.8 1108.5 1440.0 1106.5C1441.1 1104.6 1441.9 1104.0 1443.1 1104.6C1444.3 1105.2 1445.5 1106.6 1447.2 1110.2C1448.9 1113.7 1451.3 1120.9 1453.3 1125.9C1455.3 1131.0 1457.5 1137.2 1459.3 1140.4C1461.1 1143.7 1462.8 1145.3 1464.2 1145.3C1465.6 1145.3 1466.4 1145.3 1467.8 1140.4C1469.2 1135.6 1471.0 1123.7 1472.6 1116.2C1474.3 1108.8 1476.2 1099.8 1477.5 1095.6C1478.8 1091.5 1479.6 1091.3 1480.6 1091.5C1481.6 1091.7 1482.0 1092.3 1483.5 1096.9C1485.0 1101.4 1487.4 1111.4 1489.6 1118.6C1491.8 1125.9 1494.4 1134.4 1496.9 1140.4C1499.3 1146.5 1501.7 1151.8 1504.1 1155.0C1506.5 1158.1 1508.6 1158.4 1511.4 1159.3C1514.2 1160.3 1517.8 1160.0 1521.1 1160.5C1524.3 1161.0 1527.9 1162.3 1530.8 1162.2C1533.6 1162.1 1536.0 1161.8 1538.0 1159.8C1540.0 1157.8 1541.6 1155.8 1542.9 1150.1C1544.1 1144.5 1544.3 1134.8 1545.3 1125.9C1546.3 1117.0 1547.5 1104.9 1548.9 1096.9C1550.3 1088.8 1552.1 1081.4 1553.8 1077.5C1555.4 1073.5 1556.8 1072.3 1558.6 1073.1C1560.4 1073.9 1562.8 1076.8 1564.6 1082.3C1566.5 1087.9 1567.9 1096.9 1569.5 1106.5C1571.1 1116.2 1572.7 1130.8 1574.3 1140.4C1575.9 1150.1 1578.0 1160.1 1579.2 1164.6C1580.4 1169.2 1580.8 1169.0 1581.6 1167.8C1582.4 1166.6 1583.2 1165.2 1584.0 1157.4C1584.8 1149.6 1585.7 1134.0 1586.4 1121.1C1587.2 1108.2 1587.7 1089.2 1588.4 1079.9C1589.1 1070.6 1589.9 1067.2 1590.8 1065.4C1591.7 1063.6 1592.6 1064.6 1593.7 1069.0C1594.8 1073.4 1595.9 1080.9 1597.3 1092.0C1598.7 1103.1 1600.6 1122.3 1602.2 1135.6C1603.8 1148.9 1605.8 1164.9 1607.0 1171.9C1608.3 1179.0 1608.7 1178.8 1609.7 1178.0C1610.7 1177.2 1611.7 1174.9 1613.1 1167.1C1614.4 1159.2 1616.1 1143.3 1617.9 1130.8C1619.7 1118.2 1622.2 1101.7 1624.0 1092.0C1625.8 1082.3 1627.6 1076.4 1628.8 1072.6C1630.0 1068.9 1630.4 1068.5 1631.2 1069.7C1632.0 1070.9 1632.6 1073.4 1633.7 1079.9C1634.7 1086.4 1635.9 1097.3 1637.3 1109.0C1638.7 1120.7 1640.7 1140.0 1642.1 1150.1C1643.5 1160.2 1644.9 1166.1 1645.8 1169.5C1646.7 1172.9 1646.9 1173.9 1647.5 1170.7C1648.1 1167.5 1648.5 1159.2 1649.4 1150.1C1650.3 1141.0 1651.8 1123.1 1653.0 1116.2C1654.2 1109.4 1655.4 1109.4 1656.7 1109.0C1657.9 1108.6 1659.1 1107.7 1660.3 1113.8C1661.5 1119.9 1662.7 1133.6 1663.9 1145.3C1665.1 1157.0 1666.7 1176.4 1667.6 1184.0C1668.4 1191.7 1668.6 1192.9 1669.2 1191.3C1669.9 1189.7 1670.5 1185.2 1671.2 1174.3C1671.9 1163.4 1672.8 1137.8 1673.6 1125.9C1674.4 1114.0 1675.2 1105.7 1676.0 1102.9C1676.8 1100.1 1677.4 1101.9 1678.5 1109.0C1679.5 1116.0 1680.7 1132.8 1682.1 1145.3C1683.5 1157.8 1685.3 1173.1 1686.9 1184.0C1688.5 1194.9 1690.6 1205.5 1691.8 1210.7C1693.0 1215.8 1693.4 1217.0 1694.2 1215.0C1695.0 1213.0 1695.6 1210.2 1696.6 1198.5C1697.6 1186.9 1699.2 1159.2 1700.2 1145.3C1701.3 1131.4 1702.3 1119.9 1703.1 1115.0C1704.0 1110.2 1704.3 1111.2 1705.1 1116.2C1705.9 1121.3 1707.0 1132.4 1708.0 1145.3C1709.0 1158.2 1710.1 1181.1 1711.1 1193.7C1712.1 1206.3 1713.0 1218.0 1714.0 1220.8C1715.1 1223.6 1715.9 1219.2 1717.2 1210.7C1718.5 1202.1 1720.4 1182.0 1722.0 1169.5C1723.6 1157.0 1725.6 1141.8 1726.9 1135.6C1728.2 1129.3 1728.8 1130.8 1729.8 1132.0C1730.8 1133.2 1731.6 1135.8 1732.9 1142.9C1734.3 1149.9 1736.2 1164.2 1737.8 1174.3C1739.4 1184.4 1741.4 1198.1 1742.6 1203.4C1743.8 1208.6 1744.2 1209.0 1745.0 1205.8C1745.8 1202.6 1746.4 1194.9 1747.5 1184.0C1748.5 1173.1 1750.0 1150.3 1751.1 1140.4C1752.2 1130.5 1753.0 1125.5 1754.0 1124.7C1755.0 1123.9 1755.6 1129.7 1757.1 1135.6C1758.7 1141.4 1761.0 1151.3 1763.2 1159.8C1765.4 1168.3 1768.0 1178.0 1770.5 1186.4C1772.9 1194.9 1776.1 1206.1 1777.7 1210.7C1779.3 1215.2 1778.6 1209.6 1780.0 1213.8C1781.4 1218.0 1784.2 1231.1 1786.1 1235.6C1787.9 1240.1 1789.6 1240.5 1790.9 1240.9C1792.2 1241.3 1793.2 1242.1 1793.8 1238.0C1794.4 1233.9 1794.8 1225.1 1794.5 1216.2C1794.2 1207.3 1793.3 1194.4 1792.1 1184.7C1790.9 1175.1 1788.9 1165.0 1787.3 1158.1C1785.6 1151.3 1783.2 1146.0 1782.4 1143.6C1783.2 1145.4 1784.8 1148.0 1787.3 1154.5C1789.7 1160.9 1793.7 1172.8 1796.9 1182.3C1800.2 1191.8 1803.4 1201.7 1806.6 1211.4C1809.9 1221.1 1813.5 1232.4 1816.3 1240.4C1819.1 1248.5 1821.6 1255.3 1823.6 1259.8C1825.6 1264.3 1827.1 1266.7 1828.4 1267.6C1829.7 1268.4 1830.7 1268.4 1831.3 1264.6C1832.0 1260.9 1832.3 1253.3 1832.3 1245.3C1832.3 1237.2 1832.0 1223.9 1831.3 1216.2C1830.7 1208.6 1829.2 1203.0 1828.4 1199.3C1827.7 1195.6 1827.0 1194.8 1826.7 1193.9C1828.2 1196.4 1832.6 1202.0 1835.7 1209.0C1838.8 1215.9 1842.1 1226.7 1845.4 1235.6C1848.6 1244.5 1852.2 1254.8 1855.1 1262.2C1857.9 1269.7 1860.5 1276.4 1862.3 1280.4C1864.1 1284.4 1864.9 1286.6 1866.0 1286.4C1867.0 1286.2 1867.9 1284.4 1868.4 1279.2C1868.9 1273.9 1868.7 1262.2 1869.1 1255.0C1869.5 1247.7 1869.9 1241.0 1870.8 1235.6C1871.7 1230.1 1873.0 1225.1 1874.4 1222.3C1875.8 1219.5 1877.9 1218.4 1879.3 1218.6C1880.7 1218.8 1881.7 1220.7 1882.9 1223.5C1884.1 1226.3 1884.7 1228.3 1886.5 1235.6C1888.4 1242.9 1891.4 1257.0 1893.8 1267.1C1896.2 1277.2 1899.0 1289.1 1901.1 1296.1C1903.1 1303.2 1904.5 1307.4 1905.9 1309.4C1907.3 1311.5 1908.6 1310.9 1909.5 1308.2C1910.5 1305.6 1911.0 1302.2 1911.5 1293.7C1911.9 1285.2 1912.2 1269.5 1912.2 1257.4C1912.2 1245.3 1911.6 1229.3 1911.2 1221.1C1910.9 1212.8 1910.4 1210.0 1910.3 1207.7C1911.2 1212.4 1913.5 1223.3 1915.6 1235.6C1917.7 1247.9 1920.8 1267.9 1922.9 1281.6C1924.9 1295.3 1926.3 1309.8 1927.7 1317.9C1929.1 1326.0 1930.2 1329.2 1931.3 1330.0C1932.5 1330.8 1933.8 1328.8 1934.5 1322.8C1935.2 1316.7 1935.5 1306.6 1935.7 1293.7C1935.9 1280.8 1935.5 1258.2 1935.4 1245.3C1935.4 1232.4 1935.1 1222.8 1935.4 1216.2C1935.8 1209.6 1936.3 1206.4 1937.4 1205.8C1938.5 1205.2 1940.2 1208.0 1942.2 1212.6C1944.2 1217.2 1947.1 1226.3 1949.5 1233.2C1951.9 1240.0 1954.7 1248.9 1956.8 1253.8C1958.8 1258.6 1960.4 1261.6 1961.6 1262.2C1962.8 1262.8 1963.4 1264.2 1964.0 1257.4C1964.6 1250.5 1965.0 1235.2 1965.2 1221.1C1965.4 1206.9 1965.2 1186.4 1965.2 1172.6C1965.3 1158.9 1965.2 1146.0 1965.5 1138.7C1965.8 1131.5 1966.2 1129.5 1966.9 1129.1C1967.7 1128.7 1968.9 1133.1 1970.1 1136.3C1971.2 1139.5 1972.8 1145.9 1973.7 1148.4C1974.6 1150.9 1975.0 1153.8 1975.6 1151.3C1976.2 1148.9 1976.8 1142.1 1977.3 1133.9C1977.9 1125.7 1978.5 1110.3 1979.0 1102.4C1979.6 1094.6 1980.0 1087.3 1980.5 1086.9C1981.0 1086.5 1981.5 1092.1 1982.2 1100.0C1982.9 1107.9 1983.8 1122.8 1984.6 1134.1C1985.4 1145.5 1986.0 1153.6 1987.0 1168.0C1988.0 1182.5 1989.4 1204.2 1990.7 1221.1C1991.9 1238.0 1993.1 1254.2 1994.3 1269.5C1995.5 1284.8 1996.7 1300.2 1997.9 1313.1C1999.1 1326.0 2000.3 1337.3 2001.5 1347.0C2002.8 1356.7 2003.8 1363.5 2005.2 1371.2C2006.6 1378.9 2008.4 1386.1 2010.0 1393.0C2011.6 1399.8 2012.8 1405.5 2014.9 1412.3C2016.9 1419.2 2019.7 1427.7 2022.1 1434.1C2024.6 1440.6 2027.0 1446.4 2029.4 1451.1C2031.8 1455.7 2034.2 1459.6 2036.7 1462.0C2039.1 1464.4 2041.1 1465.2 2043.9 1465.6C2046.7 1466.0 2050.4 1464.9 2053.6 1464.4C2056.8 1463.9 2059.9 1462.9 2063.3 1462.7C2066.7 1462.5 2071.5 1461.6 2074.2 1463.2C2076.9 1464.8 2077.9 1467.4 2079.3 1472.1C2080.8 1476.8 2081.5 1484.2 2083.0 1491.5C2084.4 1498.8 2085.8 1507.6 2087.8 1515.7C2089.8 1523.8 2092.2 1533.1 2095.1 1539.9C2097.9 1546.8 2101.1 1551.6 2104.7 1556.9C2108.4 1562.1 2112.8 1566.8 2116.9 1571.4C2120.9 1576.0 2124.9 1580.7 2129.0 1584.7C2133.0 1588.8 2137.0 1592.4 2141.1 1595.6C2145.1 1598.8 2149.1 1601.7 2153.2 1604.1C2157.2 1606.5 2161.6 1608.3 2165.3 1610.1C2168.9 1612.0 2171.3 1613.6 2175.0 1615.0C2178.6 1616.4 2183.2 1618.6 2187.1 1618.6C2190.9 1618.6 2195.1 1617.2 2198.0 1615.0C2200.8 1612.8 2202.0 1609.7 2204.0 1605.3C2206.0 1600.9 2208.3 1594.0 2210.1 1588.4C2211.9 1582.7 2213.5 1575.6 2214.9 1571.4C2216.3 1567.2 2217.3 1564.7 2218.5 1562.9C2219.8 1561.2 2220.6 1560.8 2222.2 1561.0C2223.8 1561.2 2226.2 1562.8 2228.2 1564.1C2230.3 1565.5 2232.7 1567.0 2234.3 1569.0C2235.9 1571.0 2237.0 1573.0 2237.9 1576.2C2238.8 1579.5 2239.9 1583.5 2239.9 1588.4C2239.9 1593.2 2238.6 1600.9 2237.9 1605.3C2237.2 1609.7 2235.9 1613.4 2235.5 1615.0" stroke="#ee00ee"/>
<path d="M350.0 1201.2L598.8 976.0C599.5 975.8 601.3 974.9 603.1 974.9C604.9 974.9 600.7 973.2 609.7 976.0C618.6 978.8 643.0 986.9 656.9 991.6C670.8 996.4 684.1 1001.2 693.2 1004.4C702.3 1007.5 705.3 1009.1 711.4 1010.5C717.4 1012.0 720.4 1012.9 729.5 1013.1C738.6 1013.3 753.7 1012.5 765.8 1011.6C777.9 1010.8 790.1 1009.1 802.2 1008.0C814.3 1006.9 826.4 1005.7 838.5 1005.1C850.6 1004.5 865.1 1004.3 874.8 1004.4C884.5 1004.4 889.9 1004.7 896.6 1005.4C903.3 1006.2 908.0 1006.4 914.8 1008.7C921.5 1011.1 930.4 1015.4 937.2 1019.6C943.9 1023.9 949.9 1029.0 955.3 1034.1C960.8 1039.3 965.0 1045.3 969.9 1050.5C974.7 1055.6 978.9 1060.8 984.4 1065.0C989.8 1069.3 995.9 1072.9 1002.5 1075.9C1009.2 1078.9 1017.1 1080.5 1024.3 1083.2C1031.6 1085.9 1038.9 1089.5 1046.1 1092.3C1053.4 1095.0 1061.3 1097.5 1067.9 1099.5C1074.6 1101.5 1079.4 1102.9 1086.1 1104.2C1092.7 1105.6 1101.2 1107.4 1107.9 1107.5C1114.5 1107.6 1120.6 1104.8 1126.0 1105.0C1131.5 1105.2 1135.1 1106.2 1140.6 1108.6C1146.0 1111.0 1152.7 1115.0 1158.7 1119.5C1164.8 1124.0 1170.8 1130.7 1176.9 1135.8C1182.9 1141.0 1189.0 1146.4 1195.0 1150.4C1201.1 1154.3 1207.1 1157.3 1213.2 1159.4C1219.3 1161.6 1225.3 1162.5 1231.4 1163.1C1237.4 1163.7 1243.8 1163.3 1249.5 1163.1C1255.3 1162.9 1263.1 1162.2 1265.9 1162.0C1268.0 1163.1 1274.0 1166.5 1278.6 1168.5C1283.1 1170.5 1288.3 1172.6 1293.1 1174.0C1297.9 1175.4 1303.4 1177.2 1307.6 1176.9C1311.9 1176.6 1315.5 1174.8 1318.5 1172.2C1321.6 1169.6 1322.2 1165.2 1325.8 1161.3C1329.4 1157.3 1335.5 1152.1 1340.3 1148.6C1345.2 1145.0 1350.0 1142.0 1354.8 1140.2C1359.7 1138.4 1365.1 1136.9 1369.4 1137.7C1373.6 1138.4 1376.0 1141.9 1380.3 1144.9C1384.5 1147.9 1391.5 1153.5 1394.8 1155.8C1398.1 1158.1 1397.5 1156.7 1400.0 1158.6C1402.5 1160.5 1406.5 1164.6 1409.7 1167.1C1412.9 1169.5 1416.5 1171.8 1419.4 1173.1C1422.2 1174.4 1424.2 1174.9 1426.6 1174.8C1429.1 1174.7 1431.5 1173.7 1433.9 1172.4C1436.3 1171.1 1438.7 1170.0 1441.2 1167.1C1443.6 1164.2 1446.2 1159.4 1448.4 1155.0C1450.6 1150.5 1452.7 1144.5 1454.5 1140.4C1456.3 1136.4 1458.1 1132.6 1459.3 1130.8C1460.5 1128.9 1460.5 1128.5 1461.7 1129.5C1463.0 1130.5 1464.6 1133.4 1466.6 1136.8C1468.6 1140.2 1471.4 1145.8 1473.8 1150.1C1476.3 1154.4 1479.4 1160.4 1481.1 1162.7C1482.8 1165.1 1483.0 1165.1 1484.0 1164.2C1485.0 1163.3 1486.0 1159.4 1487.2 1157.4C1488.3 1155.4 1489.6 1152.5 1490.8 1152.1C1492.0 1151.7 1492.8 1152.5 1494.4 1155.0C1496.0 1157.5 1498.1 1162.2 1500.5 1167.1C1502.9 1171.9 1506.5 1179.8 1509.0 1184.0C1511.4 1188.3 1513.6 1191.3 1515.0 1192.5C1516.4 1193.7 1516.4 1193.5 1517.4 1191.3C1518.4 1189.1 1519.7 1185.2 1521.1 1179.2C1522.5 1173.1 1524.4 1161.4 1525.9 1155.0C1527.4 1148.5 1529.2 1143.2 1530.3 1140.4C1531.4 1137.7 1531.6 1137.7 1532.4 1138.5C1533.3 1139.3 1534.3 1140.9 1535.6 1145.3C1536.9 1149.6 1538.4 1157.4 1540.4 1164.6C1542.5 1171.9 1545.3 1182.6 1547.7 1188.9C1550.1 1195.1 1552.5 1199.2 1555.0 1202.2C1557.4 1205.1 1559.0 1205.6 1562.2 1206.5C1565.5 1207.5 1570.7 1207.4 1574.3 1207.7C1578.0 1208.1 1581.2 1208.6 1584.0 1208.7C1586.8 1208.8 1589.3 1209.1 1591.3 1208.2C1593.3 1207.3 1594.7 1206.6 1596.1 1203.4C1597.5 1200.2 1598.5 1196.1 1599.8 1188.9C1601.0 1181.6 1602.2 1168.7 1603.4 1159.8C1604.6 1150.9 1605.6 1141.8 1607.0 1135.6C1608.4 1129.3 1610.5 1124.8 1611.9 1122.3C1613.3 1119.8 1614.3 1120.0 1615.5 1120.6C1616.7 1121.2 1617.7 1121.8 1619.1 1125.9C1620.5 1130.0 1622.2 1136.4 1624.0 1145.3C1625.8 1154.2 1628.0 1168.7 1630.0 1179.2C1632.0 1189.7 1634.6 1202.4 1636.1 1208.2C1637.6 1214.1 1638.2 1215.5 1639.0 1214.3C1639.8 1213.1 1640.2 1210.5 1640.9 1201.0C1641.6 1191.5 1642.5 1170.7 1643.3 1157.4C1644.1 1144.1 1645.1 1128.7 1645.8 1121.1C1646.4 1113.4 1646.7 1112.2 1647.5 1111.4C1648.3 1110.6 1649.3 1110.6 1650.6 1116.2C1651.9 1121.9 1653.6 1132.4 1655.4 1145.3C1657.3 1158.2 1659.7 1181.0 1661.5 1193.7C1663.3 1206.4 1665.2 1216.5 1666.3 1221.5C1667.5 1226.6 1667.6 1225.8 1668.3 1224.0C1669.0 1222.2 1669.6 1218.9 1670.7 1210.7C1671.8 1202.4 1673.1 1186.8 1674.8 1174.3C1676.5 1161.8 1679.1 1144.7 1680.9 1135.6C1682.7 1126.5 1684.4 1122.7 1685.7 1119.9C1687.0 1117.0 1687.6 1117.2 1688.6 1118.6C1689.6 1120.1 1690.4 1120.7 1691.8 1128.3C1693.1 1136.0 1694.8 1151.7 1696.6 1164.6C1698.4 1177.6 1701.0 1197.2 1702.7 1205.8C1704.3 1214.4 1705.3 1215.8 1706.3 1216.2C1707.3 1216.6 1707.7 1214.4 1708.7 1208.2C1709.7 1202.1 1711.1 1187.7 1712.3 1179.2C1713.6 1170.7 1714.9 1161.3 1716.0 1157.4C1717.1 1153.5 1718.1 1154.1 1719.1 1155.7C1720.1 1157.3 1720.9 1159.9 1722.0 1167.1C1723.1 1174.2 1724.5 1187.7 1725.7 1198.5C1726.9 1209.4 1728.4 1226.2 1729.3 1232.4C1730.2 1238.7 1730.4 1238.5 1731.0 1236.1C1731.6 1233.7 1732.1 1229.0 1732.9 1217.9C1733.7 1206.8 1734.9 1180.8 1735.8 1169.5C1736.7 1158.2 1737.5 1152.5 1738.3 1150.1C1739.0 1147.7 1739.3 1149.3 1740.2 1155.0C1741.1 1160.6 1742.2 1171.5 1743.8 1184.0C1745.4 1196.5 1748.1 1217.5 1749.9 1230.0C1751.7 1242.5 1753.6 1253.8 1754.7 1259.1C1755.8 1264.3 1755.8 1264.3 1756.4 1261.5C1757.0 1258.7 1757.5 1253.8 1758.4 1242.1C1759.2 1230.4 1760.3 1204.6 1761.3 1191.3C1762.3 1178.0 1763.5 1167.2 1764.4 1162.2C1765.3 1157.3 1766.0 1159.7 1766.8 1161.7C1767.6 1163.8 1768.2 1165.0 1769.2 1174.3C1770.3 1183.7 1771.7 1203.4 1772.9 1217.9C1774.1 1232.4 1775.6 1253.4 1776.5 1261.5C1777.4 1269.6 1777.5 1268.0 1778.2 1266.3C1778.9 1264.7 1779.7 1256.9 1780.6 1251.8C1781.5 1246.7 1782.5 1243.9 1783.6 1235.6C1784.7 1227.2 1786.1 1210.6 1787.3 1201.7C1788.5 1192.8 1789.7 1186.2 1790.9 1182.3C1792.1 1178.5 1793.3 1177.9 1794.5 1178.7C1795.7 1179.5 1796.7 1181.7 1798.2 1187.2C1799.6 1192.6 1801.4 1202.5 1803.0 1211.4C1804.6 1220.3 1806.5 1234.2 1807.8 1240.4C1809.2 1246.7 1810.0 1248.9 1811.0 1248.9C1812.0 1248.9 1813.0 1247.5 1813.9 1240.4C1814.8 1233.4 1815.6 1217.0 1816.3 1206.5C1817.0 1196.0 1817.5 1183.3 1818.0 1177.5C1818.5 1171.7 1818.7 1171.9 1819.5 1171.9C1820.2 1171.9 1821.1 1173.3 1822.4 1177.5C1823.7 1181.6 1825.2 1189.6 1827.2 1196.9C1829.2 1204.1 1831.9 1212.2 1834.5 1221.1C1837.1 1229.9 1840.1 1240.8 1843.0 1250.1C1845.8 1259.4 1849.0 1270.5 1851.4 1276.8C1853.8 1283.0 1856.1 1286.0 1857.5 1287.7C1858.9 1289.3 1859.3 1289.5 1859.9 1286.4C1860.5 1283.4 1861.3 1278.0 1861.1 1269.5C1860.9 1261.0 1860.1 1246.9 1858.7 1235.6C1857.3 1224.3 1854.3 1209.2 1852.6 1201.7C1851.0 1194.2 1849.6 1192.6 1849.0 1190.8C1849.6 1191.8 1850.8 1193.0 1852.6 1196.9C1854.5 1200.7 1857.3 1206.9 1859.9 1213.8C1862.5 1220.7 1865.6 1229.9 1868.4 1238.0C1871.2 1246.1 1873.8 1253.8 1876.9 1262.2C1879.9 1270.7 1883.7 1281.2 1886.5 1288.9C1889.4 1296.5 1891.9 1303.9 1893.8 1308.2C1895.7 1312.6 1896.9 1315.0 1897.9 1315.0C1898.9 1315.0 1899.5 1314.2 1899.9 1308.2C1900.2 1302.3 1900.5 1288.9 1899.9 1279.2C1899.2 1269.5 1896.9 1256.6 1896.2 1250.1C1895.5 1243.7 1895.8 1242.1 1895.7 1240.4C1896.6 1241.2 1899.0 1242.5 1901.1 1245.3C1903.2 1248.1 1905.7 1252.1 1908.3 1257.4C1911.0 1262.6 1914.0 1269.5 1916.8 1276.8C1919.6 1284.0 1922.7 1293.3 1925.3 1301.0C1927.9 1308.6 1930.5 1317.3 1932.5 1322.8C1934.6 1328.2 1936.2 1332.8 1937.4 1333.7C1938.6 1334.5 1939.0 1332.2 1939.8 1327.6C1940.6 1323.0 1941.2 1313.9 1942.2 1305.8C1943.2 1297.7 1944.6 1285.6 1945.9 1279.2C1947.1 1272.7 1948.5 1269.3 1949.5 1267.1C1950.5 1264.9 1950.9 1264.6 1951.9 1265.9C1952.9 1267.1 1954.1 1269.3 1955.5 1274.3C1957.0 1279.4 1958.6 1288.9 1960.4 1296.1C1962.2 1303.4 1964.2 1310.3 1966.4 1317.9C1968.7 1325.6 1971.7 1336.1 1973.7 1342.1C1975.7 1348.2 1977.3 1351.7 1978.5 1354.2C1979.8 1356.7 1980.6 1359.2 1981.5 1357.1C1982.3 1355.1 1983.1 1352.7 1983.4 1342.1C1983.7 1331.6 1983.7 1307.8 1983.4 1293.7C1983.1 1279.6 1981.7 1264.0 1981.5 1257.4C1981.3 1250.7 1982.1 1254.4 1982.2 1253.8C1982.8 1255.6 1984.4 1258.8 1985.8 1264.6C1987.2 1270.5 1988.8 1279.2 1990.7 1288.9C1992.5 1298.5 1994.9 1310.7 1996.7 1322.8C1998.5 1334.9 2000.2 1352.4 2001.5 1361.5C2002.9 1370.6 2003.9 1376.4 2004.7 1377.2C2005.5 1378.0 2005.9 1376.2 2006.4 1366.3C2006.9 1356.5 2007.2 1334.1 2007.6 1317.9C2008.0 1301.8 2008.3 1280.3 2008.8 1269.5C2009.3 1258.7 2009.7 1255.4 2010.5 1253.0C2011.3 1250.6 2012.1 1252.2 2013.7 1255.0C2015.2 1257.7 2017.5 1263.8 2019.7 1269.5C2021.9 1275.1 2024.6 1282.8 2027.0 1288.9C2029.4 1294.9 2032.4 1302.2 2034.2 1305.8C2036.1 1309.4 2037.0 1312.7 2037.9 1310.7C2038.8 1308.6 2039.4 1308.6 2039.6 1293.7C2039.8 1278.8 2039.2 1239.6 2039.1 1221.1C2038.9 1202.5 2038.4 1189.9 2038.6 1182.3C2038.8 1174.7 2039.4 1175.5 2040.3 1175.5C2041.2 1175.5 2042.5 1178.8 2043.9 1182.3C2045.3 1185.9 2047.4 1193.7 2048.8 1196.9C2050.1 1200.0 2050.9 1201.2 2051.9 1201.2C2052.9 1201.2 2053.7 1200.0 2054.8 1196.9C2055.9 1193.7 2057.2 1186.7 2058.5 1182.3C2059.7 1178.0 2061.0 1172.9 2062.1 1170.7C2063.2 1168.5 2063.8 1167.5 2065.0 1169.0C2066.2 1170.5 2067.8 1174.1 2069.3 1179.9C2070.9 1185.8 2072.4 1193.2 2074.2 1204.1C2076.0 1215.0 2078.0 1231.2 2080.2 1245.3C2082.5 1259.4 2085.1 1275.5 2087.5 1288.9C2089.9 1302.2 2091.9 1313.5 2094.8 1325.2C2097.6 1336.9 2101.2 1349.0 2104.5 1359.1C2107.7 1369.2 2110.9 1377.6 2114.1 1385.7C2117.4 1393.8 2120.6 1400.6 2123.8 1407.5C2127.1 1414.4 2130.3 1421.2 2133.5 1426.9C2136.7 1432.5 2140.4 1437.8 2143.2 1441.4C2146.0 1445.0 2148.4 1446.7 2150.5 1448.7C2152.5 1450.7 2154.5 1452.7 2155.3 1453.5C2155.7 1455.1 2156.9 1457.5 2157.7 1463.2C2158.5 1468.8 2159.5 1475.8 2160.1 1487.4C2160.8 1499.0 2160.8 1519.9 2161.6 1532.7C2162.5 1545.5 2163.9 1554.9 2165.3 1564.1C2166.7 1573.4 2168.5 1581.5 2170.1 1588.4C2171.7 1595.2 2173.3 1600.9 2175.0 1605.3C2176.6 1609.7 2179.0 1613.4 2179.8 1615.0" stroke="#f00000"/>
<path d="M354.7 1335.6L584.2 1133.3C584.8 1133.1 581.8 1132.1 587.9 1132.2C593.9 1132.3 609.1 1133.5 620.6 1134.0C632.1 1134.5 644.8 1135.2 656.9 1135.1C669.0 1135.1 684.1 1134.3 693.2 1133.7C702.3 1133.1 706.8 1132.3 711.4 1131.5C715.9 1130.6 717.4 1130.4 720.4 1128.6C723.5 1126.8 726.2 1124.6 729.5 1120.6C732.8 1116.5 736.2 1111.2 740.4 1104.2C744.7 1097.3 749.5 1089.1 754.9 1078.8C760.4 1068.5 766.4 1055.2 773.1 1042.5C779.8 1029.8 787.0 1016.5 794.9 1002.5C802.8 988.6 811.8 972.9 820.3 959.0C828.8 945.0 837.9 930.8 845.7 919.0C853.6 907.2 863.2 895.3 867.5 888.1C871.9 881.0 868.7 881.8 871.8 876.2C874.9 870.5 880.9 861.6 886.3 854.4C891.8 847.1 898.4 838.8 904.5 832.6C910.5 826.3 916.0 821.1 922.6 817.0C929.3 812.8 937.2 809.9 944.4 807.9C951.7 805.8 959.6 804.8 966.2 804.6C972.9 804.4 978.9 805.4 984.4 806.4C989.8 807.4 994.1 808.5 998.9 810.8C1003.8 813.0 1008.6 815.6 1013.4 819.9C1018.3 824.1 1023.1 829.8 1028.0 836.2C1032.8 842.6 1037.0 850.4 1042.5 858.0C1047.9 865.6 1054.6 874.0 1060.7 881.6C1066.7 889.2 1072.8 896.7 1078.8 903.4C1084.9 910.1 1090.9 916.4 1097.0 921.6C1103.0 926.7 1109.1 931.2 1115.1 934.3C1121.2 937.3 1127.2 939.1 1133.3 939.7C1139.3 940.3 1146.0 938.4 1151.5 937.9C1156.9 937.4 1161.7 936.5 1166.0 936.8C1170.2 937.1 1172.0 937.4 1176.9 939.7C1181.7 942.0 1189.6 947.3 1195.0 950.6C1200.5 953.9 1205.3 956.1 1209.6 959.7C1213.8 963.3 1216.8 967.9 1220.5 972.4C1224.1 976.9 1228.0 983.3 1231.4 986.9C1234.7 990.6 1237.4 992.6 1240.4 994.2C1243.5 995.8 1245.9 996.4 1249.5 996.7C1253.2 997.0 1258.9 995.5 1262.2 996.0C1265.6 996.5 1267.8 996.3 1269.5 999.6C1271.2 1003.0 1271.7 1009.7 1272.4 1016.0C1273.1 1022.2 1273.6 1033.5 1273.9 1037.1C1274.9 1035.4 1277.2 1031.0 1280.4 1026.9C1283.6 1022.8 1288.6 1016.3 1293.1 1012.4C1297.6 1008.4 1302.8 1005.2 1307.6 1003.3C1312.5 1001.3 1317.3 999.5 1322.2 1000.7C1327.0 1001.9 1331.8 1006.5 1336.7 1010.5C1341.5 1014.6 1347.0 1021.6 1351.2 1025.1C1355.5 1028.5 1358.5 1030.0 1362.1 1031.2C1365.7 1032.4 1368.8 1033.1 1373.0 1032.3C1377.2 1031.6 1383.0 1029.4 1387.5 1026.9C1392.0 1024.4 1395.9 1020.8 1400.0 1017.2C1404.1 1013.6 1408.1 1010.3 1412.1 1005.1C1416.1 999.8 1420.6 992.2 1424.2 985.7C1427.8 979.3 1431.1 972.2 1433.9 966.3C1436.7 960.5 1439.3 954.7 1441.2 950.6C1443.0 946.5 1443.9 943.3 1444.8 941.6C1445.7 940.0 1446.4 940.6 1446.7 940.4C1446.9 942.3 1447.5 943.5 1447.9 951.8C1448.3 960.2 1448.7 978.5 1449.2 990.6C1449.6 1002.7 1450.0 1015.2 1450.8 1024.5C1451.7 1033.7 1453.1 1041.0 1454.5 1046.2C1455.9 1051.5 1457.9 1054.6 1459.3 1055.9C1460.7 1057.2 1461.5 1057.2 1463.0 1054.0C1464.4 1050.8 1466.2 1043.9 1467.8 1036.6C1469.4 1029.2 1471.2 1015.8 1472.6 1009.9C1474.1 1004.1 1475.1 1001.5 1476.3 1001.5C1477.5 1001.5 1478.5 1005.3 1479.9 1009.9C1481.3 1014.6 1482.9 1022.8 1484.7 1029.3C1486.6 1035.8 1488.8 1043.0 1490.8 1048.7C1492.8 1054.3 1494.6 1059.6 1496.9 1063.2C1499.1 1066.8 1501.7 1069.5 1504.1 1070.5C1506.5 1071.5 1509.0 1070.5 1511.4 1069.2C1513.8 1068.0 1516.2 1065.8 1518.6 1063.2C1521.1 1060.6 1523.7 1056.1 1525.9 1053.5C1528.1 1050.9 1530.3 1048.3 1532.0 1047.5C1533.6 1046.7 1534.4 1047.1 1535.6 1048.7C1536.8 1050.3 1537.6 1052.7 1539.2 1057.1C1540.8 1061.6 1543.1 1069.5 1545.3 1075.3C1547.5 1081.2 1550.1 1087.7 1552.5 1092.3C1555.0 1096.9 1557.0 1099.9 1559.8 1102.9C1562.6 1105.9 1566.3 1108.6 1569.5 1110.2C1572.7 1111.8 1575.9 1112.4 1579.2 1112.6C1582.4 1112.8 1585.6 1112.4 1588.9 1111.4C1592.1 1110.4 1595.3 1109.0 1598.5 1106.5C1601.8 1104.1 1605.0 1100.5 1608.2 1096.9C1611.5 1093.2 1614.7 1089.0 1617.9 1084.7C1621.1 1080.5 1625.3 1074.7 1627.6 1071.4C1629.9 1068.2 1631.2 1066.4 1632.0 1065.4C1632.4 1067.0 1633.6 1071.2 1634.9 1075.1C1636.2 1078.9 1638.1 1084.3 1639.7 1088.4C1641.3 1092.4 1642.5 1095.8 1644.6 1099.3C1646.6 1102.7 1649.4 1106.6 1651.8 1109.0C1654.2 1111.3 1656.9 1112.9 1659.1 1113.3C1661.3 1113.7 1663.3 1113.3 1665.1 1111.4C1666.9 1109.4 1668.8 1106.1 1670.0 1101.7C1671.2 1097.3 1671.4 1089.6 1672.4 1084.7C1673.4 1079.9 1674.4 1075.4 1676.0 1072.6C1677.6 1069.9 1679.9 1068.7 1682.1 1068.3C1684.3 1067.9 1687.1 1068.5 1689.3 1070.2C1691.6 1072.0 1693.8 1074.3 1695.4 1078.7C1697.0 1083.1 1697.8 1089.0 1699.0 1096.9C1700.2 1104.7 1701.3 1119.0 1702.7 1125.9C1704.0 1132.8 1705.6 1137.2 1707.0 1138.0C1708.4 1138.8 1709.6 1136.8 1711.1 1130.8C1712.6 1124.7 1714.4 1113.0 1716.0 1101.7C1717.6 1090.4 1719.5 1072.2 1720.8 1063.0C1722.1 1053.7 1722.8 1049.4 1723.7 1046.0C1724.6 1042.6 1725.2 1042.0 1726.2 1042.4C1727.1 1042.8 1728.0 1043.4 1729.3 1048.4C1730.6 1053.5 1732.5 1063.8 1734.1 1072.6C1735.8 1081.5 1737.7 1095.0 1739.0 1101.7C1740.3 1108.4 1741.1 1112.2 1742.1 1112.6C1743.1 1113.0 1743.7 1110.8 1745.0 1104.1C1746.3 1097.5 1748.3 1084.7 1749.9 1072.6C1751.5 1060.5 1753.1 1043.6 1754.7 1031.5C1756.3 1019.4 1758.2 1010.0 1759.6 1000.0C1761.0 990.0 1761.6 980.8 1763.2 971.2C1764.8 961.5 1767.0 949.6 1769.2 942.1C1771.5 934.7 1774.1 929.8 1776.5 926.4C1778.9 923.0 1781.4 921.6 1783.8 921.5C1786.2 921.5 1788.7 922.8 1790.9 925.9C1793.1 929.1 1794.7 933.2 1796.9 940.4C1799.2 947.7 1801.8 958.2 1804.2 969.5C1806.6 980.8 1809.1 994.5 1811.5 1008.2C1813.9 1022.0 1816.3 1037.3 1818.7 1051.8C1821.2 1066.3 1823.8 1081.7 1826.0 1095.4C1828.2 1109.1 1830.0 1122.0 1832.1 1134.1C1834.1 1146.2 1836.1 1158.4 1838.1 1168.0C1840.1 1177.7 1842.3 1185.8 1844.2 1192.3C1846.0 1198.7 1847.4 1203.1 1849.0 1206.5C1850.6 1209.9 1852.2 1212.2 1853.8 1212.6C1855.5 1213.0 1857.1 1211.6 1858.7 1209.0C1860.3 1206.3 1861.9 1203.7 1863.5 1196.9C1865.1 1190.0 1866.8 1177.9 1868.4 1167.8C1870.0 1157.7 1871.8 1142.6 1873.2 1136.3C1874.6 1130.1 1875.8 1129.9 1876.9 1130.3C1877.9 1130.7 1878.5 1133.3 1879.8 1138.7C1881.0 1144.2 1882.4 1154.5 1884.1 1163.0C1885.9 1171.4 1888.2 1181.9 1890.2 1189.6C1892.2 1197.3 1894.2 1204.1 1896.2 1209.0C1898.2 1213.8 1900.7 1216.8 1902.3 1218.6C1903.8 1220.5 1904.6 1221.9 1905.4 1219.9C1906.3 1217.8 1907.0 1214.4 1907.4 1206.5C1907.8 1198.7 1908.0 1184.3 1907.8 1172.6C1907.7 1160.9 1907.0 1145.6 1906.4 1136.3C1905.8 1127.0 1904.6 1120.2 1904.2 1116.9C1904.9 1120.2 1906.8 1127.0 1908.3 1136.3C1909.8 1145.6 1911.4 1160.5 1913.2 1172.6C1915.0 1184.7 1917.4 1198.5 1919.2 1209.0C1921.0 1219.5 1922.9 1230.4 1924.1 1235.6C1925.3 1240.8 1925.7 1241.6 1926.5 1240.0C1927.3 1238.3 1928.1 1237.1 1928.7 1225.9C1929.2 1214.7 1929.6 1188.8 1929.9 1172.6C1930.2 1156.5 1930.2 1138.5 1930.6 1129.1C1931.0 1119.6 1932.2 1118.0 1932.5 1115.7C1933.3 1117.2 1935.4 1119.6 1937.4 1124.2C1939.4 1128.9 1942.2 1137.5 1944.6 1143.6C1947.1 1149.6 1949.7 1155.7 1951.9 1160.5C1954.1 1165.4 1957.0 1170.6 1958.0 1172.6C1958.6 1167.0 1960.6 1154.7 1961.6 1139.0C1962.6 1123.3 1963.0 1098.6 1964.0 1078.5C1965.0 1058.3 1966.4 1035.3 1967.7 1017.9C1968.9 1000.6 1970.1 985.6 1971.3 974.3C1972.5 963.0 1973.7 955.8 1974.9 950.1C1976.1 944.5 1977.5 942.3 1978.5 940.4C1979.6 938.6 1980.0 938.6 1981.0 939.2C1982.0 939.8 1983.4 939.8 1984.6 944.1C1985.8 948.3 1987.0 954.4 1988.2 964.6C1989.4 974.9 1990.7 989.7 1991.9 1005.8C1993.1 1022.0 1994.3 1044.1 1995.5 1061.5C1996.7 1078.9 1997.7 1095.0 1999.1 1109.9C2000.5 1124.9 2002.2 1139.0 2004.0 1151.1C2005.8 1163.2 2008.0 1172.1 2010.0 1182.6C2012.0 1193.0 2014.1 1204.2 2016.1 1213.8C2018.1 1223.4 2019.9 1231.2 2022.1 1240.4C2024.4 1249.7 2027.0 1259.8 2029.4 1269.5C2031.8 1279.2 2034.2 1289.3 2036.7 1298.5C2039.1 1307.8 2041.5 1316.7 2043.9 1325.2C2046.3 1333.7 2049.4 1342.9 2051.2 1349.4C2053.0 1355.9 2053.9 1360.9 2054.8 1363.9C2055.7 1366.9 2056.4 1366.9 2056.8 1367.6C2057.0 1364.9 2057.9 1355.4 2058.5 1351.8C2059.0 1348.2 2059.4 1345.0 2060.1 1345.8C2060.9 1346.6 2061.9 1351.2 2062.8 1356.7C2063.7 1362.1 2065.0 1371.3 2065.7 1378.5C2066.4 1385.6 2066.4 1389.9 2067.2 1399.5C2068.1 1409.1 2069.4 1424.5 2070.8 1435.8C2072.3 1447.1 2073.7 1456.4 2075.7 1467.3C2077.7 1478.2 2080.1 1489.1 2083.0 1501.2C2085.8 1513.3 2089.0 1527.0 2092.6 1539.9C2096.3 1552.8 2100.7 1567.6 2104.7 1578.7C2108.8 1589.8 2113.6 1600.4 2116.9 1606.5C2120.1 1612.6 2121.7 1613.4 2124.1 1615.5C2126.5 1617.5 2129.0 1618.4 2131.4 1618.9C2133.8 1619.3 2136.2 1619.1 2138.6 1618.4C2141.1 1617.7 2143.5 1616.7 2145.9 1614.5C2148.3 1612.3 2150.8 1609.3 2153.2 1605.3C2155.6 1601.3 2157.6 1598.0 2160.4 1590.8C2163.3 1583.5 2167.3 1571.0 2170.1 1561.7C2172.9 1552.4 2175.0 1544.8 2177.4 1535.1C2179.8 1525.4 2182.8 1511.7 2184.6 1503.6C2186.5 1495.5 2187.3 1490.2 2188.3 1486.7C2189.3 1483.1 2189.9 1482.3 2190.7 1482.3C2191.5 1482.3 2191.9 1483.5 2193.1 1486.7C2194.3 1489.8 2196.4 1497.2 2198.0 1501.2C2199.6 1505.2 2201.4 1509.0 2202.8 1510.9C2204.2 1512.8 2205.2 1513.0 2206.4 1512.6C2207.7 1512.2 2208.9 1511.6 2210.1 1508.5C2211.3 1505.3 2212.5 1499.6 2213.7 1493.9C2214.9 1488.3 2216.1 1480.2 2217.3 1474.6C2218.5 1468.9 2219.8 1463.5 2221.0 1460.0C2222.2 1456.6 2223.4 1455.2 2224.6 1454.0C2225.8 1452.8 2227.0 1452.8 2228.2 1452.8C2229.4 1452.8 2230.9 1452.8 2231.9 1454.0C2232.9 1455.2 2233.8 1456.2 2234.3 1460.0C2234.8 1463.9 2234.6 1470.9 2235.0 1477.0C2235.4 1483.0 2235.8 1489.9 2236.7 1496.3C2237.6 1502.8 2238.9 1509.7 2240.3 1515.7C2241.8 1521.8 2243.2 1527.0 2245.2 1532.7C2247.2 1538.3 2249.6 1544.0 2252.4 1549.6C2255.3 1555.3 2258.5 1561.3 2262.1 1566.6C2265.8 1571.8 2270.2 1577.1 2274.2 1581.1C2278.3 1585.1 2282.3 1588.2 2286.3 1590.8C2290.4 1593.4 2294.4 1595.0 2298.5 1596.8C2302.5 1598.6 2306.9 1600.7 2310.6 1601.7C2314.2 1602.7 2317.8 1603.1 2320.2 1602.9C2322.7 1602.7 2323.3 1602.1 2325.1 1600.5C2326.9 1598.8 2329.1 1595.2 2331.1 1593.2C2333.2 1591.2 2335.4 1589.3 2337.2 1588.4C2339.0 1587.4 2340.4 1587.2 2342.0 1587.6C2343.6 1588.0 2345.1 1589.0 2346.9 1590.8C2348.7 1592.5 2351.1 1596.3 2352.9 1598.0C2354.7 1599.7 2355.6 1600.3 2357.8 1600.9C2360.0 1601.5 2362.8 1601.1 2366.2 1601.7C2369.7 1602.2 2374.7 1603.3 2378.4 1604.1C2382.0 1604.9 2385.3 1605.7 2388.0 1606.5C2390.8 1607.3 2393.7 1608.5 2394.8 1608.9" stroke="#006c00"/>
<path d="M351.8 1433.7C360.3 1431.4 385.1 1425.5 402.6 1420.2C420.2 1415.0 436.2 1409.3 457.1 1402.1C478.0 1394.8 506.8 1385.2 527.9 1376.6C549.1 1368.0 565.8 1359.6 584.2 1350.5C602.7 1341.4 623.6 1330.5 638.7 1322.2C653.9 1313.8 664.7 1307.0 675.0 1300.4C685.3 1293.7 693.5 1287.8 700.5 1282.2C707.4 1276.6 714.1 1269.5 716.8 1267.0C718.0 1264.7 721.3 1259.7 724.1 1253.2C726.8 1246.6 729.2 1239.2 733.2 1227.7C737.1 1216.2 742.2 1201.1 747.7 1184.1C753.1 1167.2 759.8 1145.4 765.8 1126.0C771.9 1106.7 777.9 1086.1 784.0 1067.9C790.1 1049.8 796.1 1033.1 802.2 1017.1C808.2 1001.0 814.3 985.3 820.3 971.7C826.4 958.1 832.4 946.6 838.5 935.4C844.5 924.2 850.6 913.9 856.6 904.5C862.7 895.1 869.9 886.8 874.8 879.1C879.7 871.3 881.4 865.1 886.3 858.0C891.3 850.8 898.4 842.6 904.5 836.2C910.5 829.8 916.0 824.4 922.6 819.9C929.3 815.3 937.2 811.7 944.4 809.0C951.7 806.2 959.6 804.5 966.2 803.5C972.9 802.5 978.9 802.5 984.4 802.8C989.8 803.1 994.1 803.4 998.9 805.3C1003.8 807.3 1008.9 810.5 1013.4 814.4C1018.0 818.3 1021.9 822.6 1026.2 828.9C1030.4 835.3 1034.3 844.4 1038.9 852.5C1043.4 860.7 1048.5 870.7 1053.4 878.0C1058.2 885.2 1062.5 891.0 1067.9 896.1C1073.4 901.3 1080.0 905.5 1086.1 908.8C1092.1 912.2 1097.6 913.9 1104.2 916.1C1110.9 918.3 1118.8 919.9 1126.0 922.3C1133.3 924.7 1140.6 927.4 1147.8 930.6C1155.1 933.8 1162.4 937.0 1169.6 941.5C1176.9 946.1 1184.1 951.5 1191.4 957.9C1198.7 964.2 1206.5 971.5 1213.2 979.7C1219.9 987.8 1226.2 998.7 1231.4 1006.9C1236.5 1015.1 1240.7 1024.0 1244.1 1028.7C1247.4 1033.4 1250.1 1033.8 1251.3 1034.9C1253.5 1034.3 1258.9 1032.3 1264.0 1031.6C1269.2 1030.9 1276.2 1030.1 1282.2 1030.5C1288.3 1030.9 1294.3 1032.3 1300.4 1034.1C1306.4 1036.0 1313.1 1038.7 1318.5 1041.4C1324.0 1044.1 1328.4 1046.9 1333.1 1050.5C1337.7 1054.1 1344.3 1061.1 1346.5 1063.2C1347.9 1062.3 1351.6 1059.9 1354.8 1057.8C1358.1 1055.6 1362.1 1052.1 1365.7 1050.5C1369.4 1048.9 1373.0 1047.8 1376.6 1047.9C1380.3 1048.1 1385.7 1051.0 1387.5 1051.6C1389.6 1050.2 1396.3 1047.5 1400.0 1043.3C1403.7 1039.2 1406.5 1031.8 1409.7 1026.9C1412.9 1021.9 1416.7 1016.4 1419.4 1013.6C1422.0 1010.7 1423.4 1009.5 1425.4 1009.9C1427.4 1010.3 1428.9 1012.3 1431.5 1016.0C1434.1 1019.6 1437.9 1025.5 1441.2 1031.7C1444.4 1038.0 1448.0 1046.7 1450.8 1053.5C1453.7 1060.4 1456.0 1067.6 1458.1 1072.9C1460.2 1078.1 1462.0 1082.6 1463.4 1085.0C1464.9 1087.3 1465.5 1087.9 1466.6 1086.9C1467.7 1085.9 1468.6 1082.3 1470.2 1078.9C1471.8 1075.6 1474.1 1070.1 1476.3 1066.8C1478.5 1063.6 1481.3 1060.9 1483.5 1059.6C1485.8 1058.3 1487.6 1058.3 1489.6 1059.1C1491.6 1059.9 1493.2 1060.9 1495.6 1064.4C1498.1 1067.9 1501.1 1073.9 1504.1 1080.1C1507.1 1086.4 1511.0 1095.7 1513.8 1101.7C1516.6 1107.7 1519.0 1112.5 1521.1 1116.2C1523.1 1120.0 1524.5 1122.6 1525.9 1124.2C1527.3 1125.8 1527.5 1126.2 1529.5 1125.9C1531.6 1125.6 1534.6 1123.6 1538.0 1122.3C1541.4 1121.0 1545.7 1119.5 1550.1 1118.2C1554.6 1116.9 1559.8 1115.5 1564.6 1114.5C1569.5 1113.5 1576.0 1112.6 1579.2 1112.1C1582.3 1111.6 1582.8 1111.5 1583.5 1111.4C1584.0 1109.8 1585.4 1108.2 1586.4 1101.7C1587.5 1095.2 1588.9 1085.6 1590.1 1072.6C1591.3 1059.7 1592.7 1039.9 1593.7 1024.2C1594.7 1008.5 1595.1 995.4 1596.1 978.5C1597.1 961.5 1598.5 939.3 1599.8 922.8C1601.0 906.2 1602.0 893.3 1603.4 879.2C1604.8 865.1 1606.4 850.1 1608.2 838.0C1610.0 825.9 1612.3 814.8 1614.3 806.5C1616.3 798.3 1618.3 792.7 1620.3 788.4C1622.4 784.1 1624.4 782.2 1626.4 780.6C1628.4 779.1 1630.4 778.9 1632.4 779.2C1634.5 779.5 1636.7 780.2 1638.5 782.3C1640.3 784.5 1641.9 786.8 1643.3 792.0C1644.8 797.3 1646.0 804.9 1647.0 813.8C1648.0 822.7 1648.4 834.8 1649.4 845.3C1650.4 855.8 1651.8 867.9 1653.0 876.8C1654.2 885.6 1655.2 892.9 1656.7 898.5C1658.1 904.2 1660.2 907.8 1661.5 910.7C1662.8 913.5 1663.2 915.9 1664.4 915.5C1665.6 915.1 1667.0 911.9 1668.8 908.2C1670.5 904.6 1672.8 897.9 1674.8 893.7C1676.8 889.5 1679.3 884.9 1680.9 882.8C1682.4 880.7 1682.8 880.5 1684.0 880.9C1685.2 881.3 1686.4 882.5 1688.1 885.2C1689.8 888.0 1692.2 892.8 1694.2 897.3C1696.2 901.9 1698.5 909.0 1700.2 912.6C1701.9 916.1 1703.1 918.6 1704.4 918.6C1705.6 918.7 1706.6 916.2 1708.0 913.1C1709.4 909.9 1711.3 903.3 1712.8 899.8C1714.4 896.2 1716.0 893.3 1717.2 892.0C1718.4 890.7 1719.1 890.3 1720.1 891.8C1721.1 893.3 1722.2 896.2 1723.2 901.0C1724.3 905.7 1725.2 913.1 1726.4 920.3C1727.6 927.6 1729.0 936.5 1730.5 944.6C1732.0 952.6 1733.5 961.7 1735.4 968.8C1737.2 975.8 1739.2 982.1 1741.4 986.9C1743.6 991.8 1746.0 995.3 1748.7 997.8C1751.3 1000.3 1753.9 1001.7 1757.1 1001.9C1760.4 1002.1 1764.4 1000.6 1768.0 999.0C1771.7 997.5 1774.9 995.4 1778.9 992.5C1782.9 989.6 1787.9 985.8 1792.1 981.6C1796.3 977.4 1800.2 973.1 1804.2 967.1C1808.2 961.0 1813.0 951.6 1816.3 945.3C1819.7 938.9 1823.0 931.8 1824.3 929.1C1825.0 932.6 1826.7 940.2 1828.4 950.1C1830.1 960.1 1832.5 975.1 1834.5 988.9C1836.5 1002.6 1838.5 1017.5 1840.5 1032.4C1842.6 1047.4 1844.6 1064.7 1846.6 1078.5C1848.6 1092.2 1850.4 1103.5 1852.6 1114.8C1854.9 1126.1 1857.5 1137.4 1859.9 1146.2C1862.3 1155.1 1864.9 1162.6 1867.2 1168.0C1869.4 1173.5 1871.6 1176.7 1873.2 1178.9C1874.8 1181.2 1875.6 1182.4 1876.9 1181.4C1878.1 1180.3 1878.9 1179.1 1880.5 1172.9C1882.1 1166.6 1884.6 1152.3 1886.5 1143.8C1888.4 1135.4 1890.3 1126.7 1891.9 1122.0C1893.5 1117.4 1894.9 1116.4 1896.2 1116.0C1897.6 1115.6 1898.8 1115.8 1899.9 1119.6C1900.9 1123.4 1901.5 1130.9 1902.3 1139.0C1903.1 1147.1 1903.7 1160.8 1904.7 1168.0C1905.7 1175.3 1906.7 1179.5 1908.3 1182.6C1909.9 1185.6 1912.2 1187.0 1914.4 1186.2C1916.6 1185.4 1919.0 1182.4 1921.6 1177.7C1924.3 1173.1 1927.5 1163.6 1930.1 1158.4C1932.7 1153.1 1935.6 1148.7 1937.4 1146.2C1939.2 1143.8 1939.6 1143.0 1941.0 1143.8C1942.4 1144.6 1944.0 1147.1 1945.9 1151.1C1947.7 1155.1 1949.9 1163.6 1951.9 1168.0C1953.9 1172.5 1956.2 1175.9 1958.0 1177.7C1959.8 1179.5 1961.2 1180.1 1962.8 1178.9C1964.4 1177.7 1965.8 1176.3 1967.7 1170.5C1969.5 1164.6 1971.5 1153.9 1973.7 1143.8C1975.9 1133.7 1978.7 1118.4 1981.0 1109.9C1983.2 1101.5 1985.3 1096.4 1987.0 1093.0C1988.7 1089.5 1989.7 1088.9 1991.1 1089.3C1992.6 1089.7 1993.8 1090.0 1995.5 1095.4C1997.2 1100.8 1999.3 1111.9 2001.5 1122.0C2003.8 1132.1 2006.4 1145.4 2008.8 1155.9C2011.2 1166.4 2014.1 1177.0 2016.1 1185.0C2018.1 1193.0 2019.5 1198.9 2020.9 1204.1C2022.3 1209.3 2023.9 1214.2 2024.6 1216.2C2024.9 1214.6 2026.0 1210.4 2026.5 1206.5C2027.0 1202.7 2027.3 1195.4 2027.5 1193.2C2028.0 1194.6 2029.5 1194.6 2030.6 1201.7C2031.7 1208.8 2033.0 1224.3 2034.2 1235.6C2035.4 1246.9 2036.5 1259.8 2037.9 1269.5C2039.3 1279.2 2040.9 1286.8 2042.7 1293.7C2044.5 1300.6 2046.5 1305.0 2048.8 1310.7C2051.0 1316.3 2053.6 1322.4 2056.0 1327.6C2058.5 1332.8 2060.9 1337.3 2063.3 1342.1C2065.7 1347.0 2067.7 1351.0 2070.6 1356.7C2073.4 1362.3 2077.0 1369.6 2080.2 1376.0C2083.5 1382.5 2087.3 1389.7 2089.9 1395.4C2092.6 1401.0 2094.5 1405.2 2096.0 1409.9C2097.4 1414.6 2097.8 1417.8 2098.7 1423.7C2099.5 1429.6 2100.1 1440.0 2101.1 1445.5C2102.1 1450.9 2103.5 1454.2 2104.7 1456.4C2106.0 1458.6 2107.2 1459.4 2108.4 1458.8C2109.6 1458.2 2110.6 1455.4 2112.0 1452.8C2113.4 1450.1 2115.2 1445.2 2116.9 1443.1C2118.5 1441.0 2120.1 1439.8 2121.7 1440.2C2123.3 1440.6 2124.7 1442.2 2126.5 1445.5C2128.4 1448.8 2130.6 1455.6 2132.6 1460.0C2134.6 1464.5 2136.8 1469.1 2138.6 1472.1C2140.5 1475.2 2142.1 1477.3 2143.5 1478.2C2144.9 1479.1 2145.7 1478.9 2147.1 1477.5C2148.5 1476.0 2150.3 1473.8 2152.0 1469.7C2153.6 1465.6 2155.5 1460.4 2156.8 1452.8C2158.1 1445.1 2159.2 1434.6 2160.0 1423.7C2160.7 1412.8 2160.9 1399.1 2161.2 1387.4C2161.4 1375.7 2161.6 1359.1 2161.6 1353.5C2162.1 1353.7 2162.9 1353.3 2164.1 1354.7C2165.3 1356.1 2167.5 1360.5 2168.9 1362.0C2170.3 1363.5 2171.9 1363.4 2172.5 1363.7C2172.9 1362.0 2174.2 1360.4 2174.5 1353.5C2174.7 1346.5 2174.0 1330.5 2174.0 1322.0C2174.0 1313.5 2174.0 1306.3 2174.5 1302.6C2175.0 1299.0 2176.0 1299.6 2176.9 1300.2C2177.8 1300.8 2178.8 1303.8 2179.8 1306.3C2180.8 1308.7 2181.9 1313.1 2182.7 1314.7C2183.5 1316.4 2184.3 1315.8 2184.6 1316.0C2185.1 1314.5 2186.3 1311.7 2187.6 1307.5C2188.8 1303.2 2190.6 1295.8 2191.9 1290.5C2193.2 1285.3 2194.3 1280.2 2195.5 1276.0C2196.8 1271.8 2198.6 1266.9 2199.2 1265.1C2199.4 1268.1 2199.9 1277.0 2200.4 1283.3C2200.9 1289.5 2201.3 1295.4 2202.1 1302.6C2202.9 1309.9 2203.8 1318.0 2205.2 1326.9C2206.7 1335.7 2208.4 1345.4 2210.8 1355.9C2213.2 1366.4 2216.4 1378.1 2219.8 1389.8C2223.1 1401.5 2227.3 1414.4 2231.1 1426.1C2235.0 1437.8 2238.9 1449.1 2242.8 1460.0C2246.6 1470.9 2250.4 1481.0 2254.4 1491.5C2258.3 1502.0 2262.4 1512.5 2266.5 1523.0C2270.6 1533.5 2274.9 1544.4 2279.1 1554.5C2283.3 1564.5 2288.0 1575.4 2291.7 1583.5C2295.3 1591.6 2298.5 1598.4 2300.9 1602.9C2303.2 1607.3 2304.9 1608.9 2305.7 1610.1" stroke="#000080"/>
<path d="M351.8 1393.7C360.3 1391.5 385.1 1385.5 402.6 1380.3C420.2 1375.0 436.2 1369.4 457.1 1362.1C478.0 1354.8 506.8 1345.3 527.9 1336.7C549.1 1328.1 565.8 1319.6 584.2 1310.5C602.7 1301.5 623.6 1290.6 638.7 1282.2C653.9 1273.9 664.7 1267.4 675.0 1260.4C685.3 1253.5 693.8 1245.9 700.5 1240.4C707.1 1235.0 712.6 1229.8 715.0 1227.7C716.2 1225.3 719.2 1221.7 722.3 1213.2C725.3 1204.7 728.9 1190.8 733.2 1176.9C737.4 1163.0 742.2 1147.2 747.7 1129.7C753.1 1112.1 759.8 1090.3 765.8 1071.6C771.9 1052.8 777.9 1034.0 784.0 1017.1C790.1 1000.1 796.1 985.0 802.2 969.9C808.2 954.7 814.3 939.3 820.3 926.3C826.4 913.3 833.0 901.8 838.5 891.8C843.9 881.8 848.9 873.3 853.0 866.3C857.1 859.4 860.7 854.4 863.2 850.0C865.7 845.6 864.3 845.8 868.2 839.8C872.0 833.9 880.3 821.7 886.3 814.4C892.4 807.1 898.4 801.5 904.5 796.2C910.5 791.0 916.0 786.9 922.6 782.8C929.3 778.7 937.2 774.5 944.4 771.6C951.7 768.6 959.6 766.6 966.2 765.4C972.9 764.2 978.9 764.1 984.4 764.3C989.8 764.5 994.1 764.8 998.9 766.5C1003.8 768.2 1009.2 771.0 1013.4 774.5C1017.7 777.9 1020.7 781.4 1024.3 787.2C1028.0 792.9 1031.0 801.1 1035.2 809.0C1039.5 816.8 1044.3 826.5 1049.8 834.4C1055.2 842.3 1061.9 850.2 1067.9 856.2C1074.0 862.1 1080.0 866.5 1086.1 870.0C1092.1 873.5 1097.6 875.1 1104.2 877.2C1110.9 879.4 1118.8 880.5 1126.0 882.7C1133.3 884.9 1140.6 887.5 1147.8 890.7C1155.1 893.8 1162.4 896.7 1169.6 901.6C1176.9 906.4 1184.1 912.8 1191.4 919.7C1198.7 926.7 1206.5 934.9 1213.2 943.3C1219.9 951.8 1226.5 963.0 1231.4 970.6C1236.2 978.2 1239.5 984.7 1242.3 988.7C1245.0 992.8 1246.8 993.9 1247.7 994.9C1249.8 994.4 1255.3 992.3 1260.4 991.7C1265.6 991.0 1271.9 990.7 1278.6 991.3C1285.2 991.8 1293.7 993.2 1300.4 994.9C1307.0 996.6 1313.1 998.6 1318.5 1001.5C1324.0 1004.4 1329.0 1008.7 1333.1 1012.4C1337.1 1016.0 1341.2 1021.4 1342.9 1023.2C1344.6 1022.0 1349.2 1018.3 1353.0 1016.0C1356.8 1013.7 1362.1 1010.7 1365.7 1009.4C1369.4 1008.2 1371.8 1008.4 1374.8 1008.7C1377.9 1009.1 1382.4 1011.1 1383.9 1011.6C1386.6 1009.3 1395.7 1002.9 1400.0 997.8C1404.3 992.7 1406.9 985.1 1409.7 980.9C1412.5 976.6 1414.9 974.3 1416.9 972.4C1419.0 970.5 1420.2 969.3 1421.8 969.5C1423.4 969.7 1424.2 970.1 1426.6 973.6C1429.1 977.1 1433.1 984.1 1436.3 990.6C1439.5 997.0 1443.2 1005.5 1446.0 1012.3C1448.8 1019.2 1451.0 1026.3 1453.3 1031.7C1455.5 1037.2 1457.8 1042.5 1459.3 1045.0C1460.8 1047.5 1461.2 1047.3 1462.2 1046.7C1463.2 1046.1 1464.0 1044.3 1465.4 1041.4C1466.7 1038.5 1468.4 1032.7 1470.2 1029.3C1472.0 1025.9 1474.1 1022.6 1476.3 1020.8C1478.5 1019.0 1481.1 1018.0 1483.5 1018.4C1486.0 1018.8 1488.2 1020.0 1490.8 1023.2C1493.4 1026.5 1496.2 1031.9 1499.3 1037.8C1502.3 1043.6 1505.9 1052.1 1509.0 1058.4C1512.0 1064.6 1515.2 1071.1 1517.4 1075.3C1519.7 1079.5 1520.9 1082.0 1522.3 1083.8C1523.7 1085.6 1523.7 1086.5 1525.9 1086.2C1528.1 1085.9 1531.6 1083.7 1535.6 1082.1C1539.6 1080.5 1544.9 1077.9 1550.1 1076.5C1555.4 1075.1 1562.2 1074.3 1567.1 1073.6C1571.9 1072.9 1577.2 1072.4 1579.2 1072.2C1579.8 1070.7 1581.6 1068.7 1582.8 1063.2C1584.0 1057.7 1585.2 1051.1 1586.4 1039.0C1587.7 1026.9 1588.9 1008.7 1590.1 990.6C1591.3 972.4 1592.5 949.4 1593.7 930.0C1594.9 910.7 1596.1 891.7 1597.3 874.3C1598.5 857.0 1599.6 840.8 1601.0 825.9C1602.4 811.0 1604.0 796.0 1605.8 784.7C1607.6 773.4 1609.8 764.8 1611.9 758.1C1613.9 751.5 1615.9 747.8 1617.9 744.8C1619.9 741.8 1622.0 740.8 1624.0 740.0C1626.0 739.1 1628.0 738.9 1630.0 739.5C1632.0 740.1 1634.3 741.3 1636.1 743.6C1637.9 745.9 1639.5 748.4 1640.9 753.3C1642.3 758.1 1643.5 764.6 1644.6 772.6C1645.6 780.7 1646.2 791.6 1647.0 801.7C1647.8 811.8 1648.4 823.9 1649.4 833.2C1650.4 842.5 1651.8 851.1 1653.0 857.4C1654.2 863.6 1655.5 867.7 1656.7 870.7C1657.8 873.7 1658.6 875.7 1659.8 875.5C1661.0 875.3 1662.2 872.9 1663.9 869.5C1665.6 866.1 1668.0 859.4 1670.0 855.0C1672.0 850.5 1674.4 845.2 1676.0 842.9C1677.6 840.5 1678.2 840.5 1679.7 840.9C1681.1 841.3 1682.7 842.5 1684.5 845.3C1686.3 848.0 1688.5 852.9 1690.6 857.4C1692.6 861.8 1695.0 868.4 1696.6 871.9C1698.2 875.5 1699.0 878.5 1700.2 878.7C1701.5 878.9 1702.5 876.3 1703.9 873.1C1705.3 870.0 1707.3 863.2 1708.7 859.8C1710.1 856.4 1711.3 853.9 1712.3 852.5C1713.4 851.2 1713.8 850.8 1714.8 851.6C1715.8 852.4 1717.2 853.6 1718.4 857.4C1719.6 861.2 1720.8 867.1 1722.0 874.3C1723.2 881.6 1724.3 892.1 1725.7 901.0C1727.1 909.8 1728.9 920.3 1730.5 927.6C1732.1 934.9 1733.5 939.9 1735.4 944.6C1737.2 949.2 1739.2 952.8 1741.4 955.4C1743.6 958.1 1746.2 959.4 1748.7 960.3C1751.1 961.2 1753.1 961.4 1755.9 961.0C1758.8 960.6 1762.0 959.8 1765.6 957.9C1769.2 955.9 1775.3 951.1 1777.7 949.4C1780.1 947.7 1777.6 950.0 1780.0 947.7C1782.4 945.4 1788.1 940.4 1792.1 935.6C1796.1 930.8 1800.6 924.7 1804.2 918.6C1807.8 912.6 1811.4 904.1 1813.9 899.3C1816.4 894.4 1818.3 891.2 1819.2 889.6C1820.0 892.4 1821.6 897.3 1823.6 906.5C1825.5 915.8 1828.4 930.8 1830.8 945.3C1833.3 959.8 1835.9 977.6 1838.1 993.7C1840.3 1009.8 1842.3 1028.0 1844.2 1042.1C1846.0 1056.3 1847.2 1067.6 1849.0 1078.5C1850.8 1089.3 1852.8 1099.0 1855.1 1107.5C1857.3 1116.0 1860.1 1123.8 1862.3 1129.3C1864.5 1134.7 1866.8 1138.1 1868.4 1140.2C1869.9 1142.3 1870.3 1142.9 1871.5 1141.9C1872.7 1140.9 1873.9 1139.5 1875.6 1134.1C1877.3 1128.8 1879.7 1118.4 1881.7 1109.9C1883.7 1101.5 1886.1 1088.9 1887.7 1083.3C1889.4 1077.6 1890.5 1076.4 1891.9 1076.0C1893.2 1075.6 1894.6 1076.0 1895.7 1080.9C1896.9 1085.7 1897.8 1097.0 1898.6 1105.1C1899.5 1113.2 1900.1 1122.8 1901.1 1129.3C1902.1 1135.8 1903.3 1140.9 1904.7 1143.8C1906.1 1146.8 1907.7 1147.4 1909.5 1147.0C1911.4 1146.6 1913.0 1145.6 1915.6 1141.4C1918.2 1137.2 1922.5 1127.7 1925.3 1122.0C1928.1 1116.4 1930.6 1110.6 1932.5 1107.5C1934.4 1104.4 1935.2 1103.0 1936.7 1103.4C1938.1 1103.8 1939.3 1106.0 1941.0 1109.9C1942.8 1113.8 1945.1 1122.2 1947.1 1126.9C1949.1 1131.5 1951.3 1135.8 1953.1 1137.8C1954.9 1139.8 1956.4 1140.0 1958.0 1139.0C1959.6 1138.0 1961.0 1137.4 1962.8 1131.7C1964.6 1126.1 1966.6 1115.2 1968.9 1105.1C1971.1 1095.0 1973.9 1079.9 1976.1 1071.2C1978.3 1062.5 1980.6 1056.7 1982.2 1053.0C1983.8 1049.4 1984.5 1049.2 1985.8 1049.4C1987.1 1049.6 1988.6 1049.8 1990.2 1054.2C1991.8 1058.7 1993.6 1066.7 1995.5 1076.0C1997.4 1085.3 1999.3 1098.6 2001.5 1109.9C2003.8 1121.2 2006.6 1134.1 2008.8 1143.8C2011.0 1153.5 2013.3 1162.6 2014.9 1168.0C2016.5 1173.5 2017.9 1175.1 2018.5 1176.5C2018.8 1175.5 2019.7 1173.9 2020.2 1170.5C2020.7 1167.0 2021.2 1158.8 2021.6 1155.9C2022.1 1153.0 2022.3 1151.8 2022.9 1153.0C2023.4 1154.2 2024.1 1157.5 2025.0 1163.2C2025.9 1168.9 2027.1 1177.8 2028.2 1187.4C2029.3 1197.1 2030.4 1210.6 2031.8 1221.1C2033.2 1231.5 2035.0 1242.1 2036.7 1250.1C2038.3 1258.2 2039.5 1263.4 2041.5 1269.5C2043.5 1275.5 2046.3 1280.8 2048.8 1286.4C2051.2 1292.1 2053.6 1298.1 2056.0 1303.4C2058.5 1308.6 2060.9 1313.1 2063.3 1317.9C2065.7 1322.8 2067.7 1327.2 2070.6 1332.4C2073.4 1337.7 2077.4 1344.1 2080.2 1349.4C2083.1 1354.6 2085.5 1359.9 2087.5 1363.9C2089.5 1368.0 2091.3 1370.9 2092.3 1373.6C2093.4 1376.3 2093.3 1375.0 2093.8 1380.1C2094.4 1385.2 2094.7 1398.3 2095.5 1404.3C2096.4 1410.4 2097.5 1413.9 2098.7 1416.4C2099.9 1419.0 2101.4 1420.0 2102.8 1419.6C2104.2 1419.2 2105.6 1416.6 2107.2 1414.0C2108.7 1411.5 2110.5 1406.6 2112.0 1404.3C2113.5 1402.1 2114.7 1400.7 2116.1 1400.7C2117.5 1400.7 2118.7 1401.3 2120.5 1404.3C2122.2 1407.4 2124.5 1414.4 2126.5 1418.9C2128.6 1423.3 2130.8 1427.7 2132.6 1431.0C2134.4 1434.2 2135.8 1437.2 2137.4 1438.2C2139.0 1439.2 2140.7 1438.6 2142.3 1437.0C2143.9 1435.4 2145.7 1433.2 2147.1 1428.5C2148.5 1423.9 2149.7 1418.1 2150.8 1409.2C2151.8 1400.3 2152.6 1387.0 2153.2 1375.3C2153.8 1363.6 2154.1 1349.2 2154.4 1339.0C2154.7 1328.7 2155.0 1317.8 2155.1 1313.5C2155.6 1313.7 2156.7 1313.4 2158.0 1314.7C2159.3 1316.1 2161.4 1320.1 2162.9 1321.5C2164.3 1322.9 2165.9 1322.9 2166.5 1323.2C2166.7 1321.0 2167.6 1317.4 2167.7 1309.9C2167.8 1302.4 2166.9 1286.3 2167.0 1278.4C2167.1 1270.6 2167.6 1265.6 2168.2 1262.7C2168.8 1259.7 2169.7 1260.1 2170.6 1260.8C2171.5 1261.4 2172.7 1264.0 2173.8 1266.3C2174.8 1268.7 2176.0 1273.2 2176.9 1274.8C2177.8 1276.4 2178.7 1275.8 2179.1 1276.0C2179.5 1274.8 2180.6 1272.8 2181.7 1268.7C2182.9 1264.7 2184.6 1257.0 2185.9 1251.8C2187.2 1246.5 2188.5 1241.1 2189.5 1237.3C2190.5 1233.4 2191.5 1230.2 2191.9 1228.8C2192.2 1230.6 2192.8 1233.4 2193.6 1239.7C2194.4 1245.9 2195.2 1255.8 2196.8 1266.3C2198.3 1276.8 2200.2 1290.5 2202.8 1302.6C2205.4 1314.7 2209.1 1326.0 2212.5 1339.0C2215.8 1351.9 2219.6 1367.6 2222.9 1380.1C2226.3 1392.6 2229.3 1403.5 2232.6 1414.0C2235.9 1424.5 2239.1 1433.0 2242.8 1443.1C2246.4 1453.2 2250.4 1464.5 2254.4 1474.6C2258.3 1484.6 2262.6 1494.3 2266.5 1503.6C2270.4 1512.9 2274.1 1521.8 2277.9 1530.2C2281.7 1538.7 2285.5 1546.4 2289.2 1554.5C2293.0 1562.5 2296.6 1571.0 2300.4 1578.7C2304.1 1586.3 2308.8 1595.1 2311.8 1600.5C2314.8 1605.8 2317.2 1609.1 2318.3 1610.9" stroke="#fff100"/>
</g>
<text font-weight="bold" font-size="128.63" transform="translate(0,122.5) scale(0.9422,1)" x="286.71 381.15 474.05 510.14 610.82 713.15 788.73 867.30 909.82 1002.85 1097.81" y="0.00 0.00 0.00 0.00 0.00 0.00 0.00 0.00 -2.30 -2.30 -2.30">ED HALT PSD</text>
<text font-size="90.70" transform="translate(0,182.7) scale(0.9932,1)" x="146.80 201.32">20</text>
<text font-size="91.57" transform="translate(0,550) scale(1.1295,1)" x="171.81">1</text>
<text font-size="92.15" transform="translate(0,816.3) scale(0.9950,1)" x="127.14 168.41 202.38">0.1</text>
<text font-size="91.57" transform="translate(0,1097.2) scale(0.9707,1)" x="88.01 130.27 163.22 208.07">0.01</text>
<text font-size="83.72" transform="translate(0,1372) scale(0.9825,1)" x="72.54 118.64 177.21 207.86">1E-3</text>
<text font-size="83.72" transform="translate(0,1645) scale(0.9665,1)" x="74.04 120.57 179.85 209.32">1E-4</text>
<text font-size="92.30" transform="translate(0,1721.1) scale(1.0284,1)" x="462.86 512.99">10</text>
<text font-size="92.30" transform="translate(0,1721.1) scale(0.9898,1)" x="1281.55 1332.93 1386.99">100</text>
<text font-size="92.30" transform="translate(0,1721.1) scale(0.9700,1)" x="2131.06 2182.94 2238.36 2292.89">1000</text>
<text font-size="86.63" transform="translate(0,1841.9) scale(0.9639,1)" x="1224.18 1282.83 1314.88 1367.25 1420.00 1473.19 1525.28 1579.36 1627.25 1672.11 1707.10 1774.42 1826.06">Frequency(Hz)</text>
<text font-size="111.0" transform="translate(101,0) rotate(-90) scale(0.95,1)"><tspan x="-487.13" y="-21.6" font-size="106.6">g</tspan><tspan x="-426.35" y="-73" font-size="39.5">2</tspan><tspan x="-404.33" y="3.5" font-size="124">/</tspan><tspan x="-354.63" y="0">H</tspan><tspan x="-265.39" y="0" font-size="105.0">z</tspan></text>
</g>
<g id="chart-bottom" transform="translate(-2.5,1964)">
<line x1="280" y1="230.5" x2="2733" y2="230.5" stroke="#332c2b" stroke-width="4.3" />
<line x1="280" y1="509.2" x2="2733" y2="509.2" stroke="#332c2b" stroke-width="4.3" />
<line x1="280" y1="788" x2="2733" y2="788" stroke="#332c2b" stroke-width="4.3" />
<line x1="280" y1="1058.6" x2="2733" y2="1058.6" stroke="#332c2b" stroke-width="4.3" />
<line x1="280" y1="1337" x2="2733" y2="1337" stroke="#332c2b" stroke-width="4.3" />
<line x1="282" y1="230.5" x2="346.5" y2="230.5" stroke="#332c2b" stroke-width="5.4" />
<line x1="282" y1="509.2" x2="346.5" y2="509.2" stroke="#332c2b" stroke-width="5.4" />
<line x1="282" y1="788" x2="346.5" y2="788" stroke="#332c2b" stroke-width="5.4" />
<line x1="282" y1="1058.6" x2="346.5" y2="1058.6" stroke="#332c2b" stroke-width="5.4" />
<line x1="282" y1="1329" x2="346.5" y2="1329" stroke="#332c2b" stroke-width="5.4" />
<line x1="526.3" y1="148" x2="526.3" y2="1617" stroke="#332c2b" stroke-width="4.3" />
<line x1="1343.2" y1="148" x2="1343.2" y2="1617" stroke="#332c2b" stroke-width="4.3" />
<line x1="2160" y1="148" x2="2160" y2="1617" stroke="#332c2b" stroke-width="4.3" />
<line x1="343.5" y1="1576.5" x2="343.5" y2="1617" stroke="#332c2b" stroke-width="5" />
<line x1="396.5" y1="1576.5" x2="396.5" y2="1617" stroke="#332c2b" stroke-width="5" />
<line x1="441.2" y1="1576.5" x2="441.2" y2="1617" stroke="#332c2b" stroke-width="5" />
<line x1="483.7" y1="1576.5" x2="483.7" y2="1617" stroke="#332c2b" stroke-width="5" />
<line x1="772.5" y1="1576.5" x2="772.5" y2="1617" stroke="#332c2b" stroke-width="5" />
<line x1="911" y1="1576.5" x2="911" y2="1617" stroke="#332c2b" stroke-width="5" />
<line x1="1015" y1="1576.5" x2="1015" y2="1617" stroke="#332c2b" stroke-width="5" />
<line x1="1093" y1="1576.5" x2="1093" y2="1617" stroke="#332c2b" stroke-width="5" />
<line x1="1166" y1="1576.5" x2="1166" y2="1617" stroke="#332c2b" stroke-width="5" />
<line x1="1216" y1="1576.5" x2="1216" y2="1617" stroke="#332c2b" stroke-width="5" />
<line x1="1258" y1="1576.5" x2="1258" y2="1617" stroke="#332c2b" stroke-width="5" />
<line x1="1302.7" y1="1576.5" x2="1302.7" y2="1617" stroke="#332c2b" stroke-width="5" />
<line x1="1589.8" y1="1576.5" x2="1589.8" y2="1617" stroke="#332c2b" stroke-width="5" />
<line x1="1729.8" y1="1576.5" x2="1729.8" y2="1617" stroke="#332c2b" stroke-width="5" />
<line x1="1833.4" y1="1576.5" x2="1833.4" y2="1617" stroke="#332c2b" stroke-width="5" />
<line x1="1912.9" y1="1576.5" x2="1912.9" y2="1617" stroke="#332c2b" stroke-width="5" />
<line x1="1981.5" y1="1576.5" x2="1981.5" y2="1617" stroke="#332c2b" stroke-width="5" />
<line x1="2033.8" y1="1576.5" x2="2033.8" y2="1617" stroke="#332c2b" stroke-width="5" />
<line x1="2078" y1="1576.5" x2="2078" y2="1617" stroke="#332c2b" stroke-width="5" />
<line x1="2121.5" y1="1576.5" x2="2121.5" y2="1617" stroke="#332c2b" stroke-width="5" />
<line x1="2408.5" y1="1576.5" x2="2408.5" y2="1617" stroke="#332c2b" stroke-width="5" />
<line x1="2547.5" y1="1576.5" x2="2547.5" y2="1617" stroke="#332c2b" stroke-width="5" />
<line x1="2652" y1="1576.5" x2="2652" y2="1617" stroke="#332c2b" stroke-width="5" />
<line x1="526.2" y1="1549.6" x2="526.2" y2="1617" stroke="#332c2b" stroke-width="5.4" />
<line x1="1336.5" y1="1549.6" x2="1336.5" y2="1617" stroke="#332c2b" stroke-width="5.4" />
<line x1="2156.6" y1="1549.6" x2="2156.6" y2="1617" stroke="#332c2b" stroke-width="5.4" />
<rect x="280.3" y="153" width="2452.7" height="1464" fill="none" stroke="#332c2b" stroke-width="8.5"/>
</g>
<g class="c">
<path d="M904.7 3568.4C906.6 3568.7 912.6 3570.5 916.3 3570.2C920.1 3569.9 923.6 3568.7 927.2 3566.6C930.8 3564.5 934.5 3561.8 938.1 3557.5C941.7 3553.3 945.4 3548.1 949.0 3541.2C952.6 3534.2 956.3 3526.0 959.9 3515.7C963.5 3505.5 967.2 3494.0 970.8 3479.4C974.4 3464.9 978.4 3445.5 981.7 3428.6C985.0 3411.6 988.1 3394.7 990.8 3377.7C993.5 3360.8 995.6 3343.8 998.0 3326.9C1000.5 3309.9 1002.9 3293.0 1005.3 3276.0C1007.7 3259.1 1010.1 3239.1 1012.6 3225.2C1015.0 3211.3 1017.4 3200.1 1019.8 3192.5C1022.3 3184.9 1025.0 3182.3 1027.1 3179.8C1029.2 3177.2 1030.7 3176.9 1032.5 3177.2C1034.4 3177.5 1035.6 3178.1 1038.0 3181.6C1040.4 3185.1 1043.7 3190.7 1047.1 3197.9C1050.4 3205.2 1053.7 3214.0 1058.0 3225.2C1062.2 3236.4 1067.7 3252.4 1072.5 3265.1C1077.3 3277.8 1082.2 3289.3 1087.0 3301.5C1091.9 3313.6 1096.7 3325.7 1101.6 3337.8C1106.4 3349.9 1110.6 3360.8 1116.1 3374.1C1121.5 3387.4 1128.2 3402.5 1134.2 3417.7C1140.3 3432.8 1146.3 3449.8 1152.4 3464.9C1158.5 3480.0 1164.5 3495.2 1170.6 3508.5C1176.6 3521.8 1182.7 3534.8 1188.7 3544.8C1194.8 3554.8 1201.4 3563.3 1206.9 3568.4C1212.3 3573.6 1216.6 3574.3 1221.4 3575.7C1226.3 3577.1 1231.1 3576.9 1235.9 3576.8C1240.8 3576.6 1245.6 3576.6 1250.5 3574.9C1255.3 3573.3 1260.1 3571.6 1265.0 3566.6C1269.8 3561.6 1274.7 3555.7 1279.5 3544.8C1284.4 3533.9 1289.8 3516.4 1294.0 3501.2C1298.3 3486.1 1301.3 3472.2 1304.9 3454.0C1308.6 3435.8 1312.5 3413.4 1315.8 3392.3C1319.2 3371.1 1322.2 3349.9 1324.9 3326.9C1327.6 3303.9 1330.1 3278.5 1332.2 3254.2C1334.3 3230.0 1336.0 3205.8 1337.6 3181.6C1339.3 3157.4 1340.7 3128.3 1342.0 3109.0C1343.3 3089.6 1344.4 3074.5 1345.6 3065.4C1346.8 3056.3 1348.2 3056.4 1349.3 3054.5C1350.3 3052.5 1351.0 3052.5 1352.2 3053.8C1353.4 3055.0 1354.7 3056.2 1356.5 3061.7C1358.3 3067.3 1360.8 3076.9 1363.1 3087.2C1365.4 3097.5 1367.6 3107.7 1370.3 3123.5C1373.0 3139.2 1376.4 3159.8 1379.4 3181.6C1382.4 3203.4 1385.8 3230.0 1388.5 3254.2C1391.2 3278.5 1393.3 3302.7 1395.7 3326.9C1398.2 3351.1 1400.6 3375.3 1403.0 3399.5C1405.4 3423.7 1407.9 3451.0 1410.3 3472.2C1412.7 3493.3 1415.1 3511.5 1417.5 3526.6C1420.0 3541.8 1422.4 3555.4 1424.8 3563.0C1427.2 3570.5 1429.6 3572.6 1432.1 3572.0C1434.5 3571.4 1437.1 3572.0 1439.3 3559.3C1441.5 3546.7 1443.5 3518.0 1445.4 3496.3C1447.3 3474.6 1447.2 3462.8 1450.7 3429.2C1454.3 3395.7 1461.5 3335.3 1466.8 3295.1C1472.2 3254.9 1478.5 3215.5 1482.9 3187.8C1487.4 3160.1 1490.9 3141.4 1493.7 3128.8C1496.4 3116.2 1496.9 3112.1 1499.6 3112.1C1502.2 3112.1 1502.7 3117.1 1504.4 3134.1C1506.1 3151.2 1506.2 3183.3 1509.8 3214.6C1513.3 3245.9 1521.4 3292.9 1525.8 3321.9C1530.3 3351.0 1533.2 3374.2 1536.6 3389.0C1539.9 3403.8 1541.7 3410.5 1546.0 3410.5C1550.2 3410.5 1551.6 3376.9 1555.4 3348.8C1559.2 3320.6 1565.0 3265.1 1568.8 3241.4C1572.6 3217.8 1575.5 3213.7 1578.2 3206.6C1580.8 3199.4 1581.9 3198.5 1584.9 3198.5C1587.9 3198.5 1589.3 3205.2 1591.6 3214.6C1593.8 3224.0 1594.9 3234.7 1598.3 3254.9C1601.6 3275.0 1606.8 3310.8 1611.7 3335.3C1616.6 3359.9 1623.3 3387.2 1627.8 3402.4C1632.3 3417.6 1633.7 3426.6 1638.5 3426.6C1643.4 3426.6 1645.7 3375.1 1649.3 3348.8C1652.8 3322.4 1656.9 3285.5 1660.0 3268.3C1663.0 3251.1 1664.1 3245.5 1667.5 3245.5C1670.2 3245.5 1671.5 3257.8 1673.4 3268.3C1675.3 3278.8 1675.6 3288.4 1678.8 3308.5C1681.9 3328.6 1687.5 3367.5 1692.2 3389.0C1696.9 3410.5 1700.3 3437.3 1706.9 3437.3C1709.5 3437.3 1708.6 3385.9 1708.3 3348.8C1708.0 3311.6 1705.9 3245.9 1705.1 3214.6C1704.3 3183.3 1703.1 3173.7 1703.4 3161.0C1703.8 3148.2 1704.3 3138.2 1706.9 3138.2C1710.0 3138.2 1711.2 3161.6 1713.6 3174.4C1716.1 3187.1 1717.2 3194.5 1721.7 3214.6C1726.2 3234.7 1734.7 3272.7 1740.5 3295.1C1746.3 3317.5 1751.6 3333.1 1756.6 3348.8C1761.5 3364.4 1763.9 3389.0 1770.0 3389.0C1773.0 3389.0 1774.7 3344.3 1776.7 3321.9C1778.7 3299.6 1780.5 3268.3 1782.1 3254.9C1783.6 3241.4 1783.5 3241.4 1786.1 3241.4C1788.7 3241.4 1789.4 3252.6 1791.4 3268.3C1793.5 3283.9 1795.9 3317.5 1798.1 3335.3C1800.4 3353.2 1801.8 3375.6 1804.9 3375.6C1807.9 3375.6 1809.3 3326.4 1811.6 3295.1C1813.8 3263.8 1816.3 3210.6 1818.3 3187.8C1820.3 3165.0 1821.0 3158.3 1823.6 3158.3C1826.2 3158.3 1826.7 3182.9 1828.2 3201.2C1829.6 3219.5 1829.3 3237.0 1832.2 3268.3C1835.1 3299.6 1841.8 3359.0 1845.6 3389.0C1849.4 3419.0 1850.8 3448.0 1855.0 3448.0C1858.0 3448.0 1859.2 3392.1 1861.7 3348.8C1864.2 3305.4 1867.7 3223.6 1869.8 3187.8C1871.8 3152.0 1872.4 3145.8 1873.8 3134.1C1875.1 3122.5 1875.2 3118.0 1877.8 3118.0C1880.4 3118.0 1880.9 3127.9 1883.2 3139.5C1885.4 3151.1 1887.2 3161.9 1891.2 3187.8C1895.2 3213.7 1902.4 3261.6 1907.3 3295.1C1912.2 3328.6 1916.9 3366.6 1920.7 3389.0C1924.5 3411.4 1925.9 3429.2 1930.1 3429.2C1933.1 3429.2 1934.4 3366.6 1936.8 3321.9C1939.3 3277.2 1942.4 3199.0 1944.9 3161.0C1947.3 3123.0 1948.6 3093.9 1951.6 3093.9C1955.8 3093.9 1957.6 3169.9 1961.0 3214.6C1964.3 3259.3 1968.8 3328.0 1971.7 3362.2C1974.6 3396.4 1975.4 3419.9 1978.4 3419.9C1982.6 3419.9 1985.1 3387.4 1987.8 3348.8C1990.5 3310.1 1992.7 3237.0 1994.5 3187.8C1996.3 3138.6 1997.3 3081.9 1998.5 3053.7C1999.7 3025.4 1999.1 3018.2 2001.7 3018.2C2004.3 3018.2 2004.9 3038.8 2006.6 3053.7C2008.3 3068.5 2008.8 3076.0 2011.9 3107.3C2015.1 3138.6 2021.3 3199.0 2025.4 3241.4C2029.4 3283.9 2033.2 3332.9 2036.1 3362.2C2039.0 3391.5 2039.8 3417.2 2042.8 3417.2C2045.4 3417.2 2044.4 3387.0 2045.5 3348.8C2046.6 3310.5 2047.9 3237.0 2049.5 3187.8C2051.1 3138.6 2052.9 3082.7 2054.9 3053.7C2056.9 3024.6 2058.6 3013.4 2061.6 3013.4C2064.6 3013.4 2065.8 3046.9 2068.3 3080.5C2070.7 3114.0 2074.0 3180.2 2076.3 3214.6C2078.6 3249.0 2079.6 3287.1 2082.2 3287.1C2084.8 3287.1 2083.8 3249.0 2084.4 3214.6C2085.0 3180.2 2085.3 3116.3 2085.7 3080.5C2086.2 3044.7 2086.1 3027.6 2087.1 3000.0C2088.0 2972.4 2090.3 2933.3 2091.5 2914.6C2092.6 2895.9 2091.5 2887.8 2094.1 2887.8C2096.7 2887.8 2097.3 2919.1 2099.5 2941.4C2101.7 2963.8 2104.9 3003.6 2107.6 3021.9C2110.2 3040.3 2112.0 3051.4 2115.6 3051.4C2119.2 3051.4 2121.0 2991.1 2123.6 2941.4C2126.3 2891.8 2129.1 2801.9 2131.7 2753.7C2134.3 2705.4 2136.0 2651.7 2139.5 2651.7C2143.2 2651.7 2144.6 2741.1 2147.8 2780.5C2151.0 2819.8 2154.5 2859.2 2158.5 2887.8C2162.5 2916.4 2165.9 2952.2 2171.9 2952.2C2175.6 2952.2 2177.3 2911.9 2180.0 2887.8C2182.7 2863.6 2185.8 2825.2 2188.0 2807.3C2190.3 2789.4 2190.8 2780.5 2193.4 2780.5C2197.0 2780.5 2198.8 2865.4 2201.4 2914.6C2204.1 2963.8 2206.9 3031.3 2209.5 3075.6C2212.1 3119.9 2213.6 3180.2 2217.0 3180.2C2222.1 3180.2 2224.2 3115.4 2228.3 3075.6C2232.4 3035.8 2237.9 2986.2 2241.7 2941.4C2245.5 2896.7 2248.8 2836.8 2251.1 2807.3C2253.3 2777.8 2252.5 2764.4 2255.1 2764.4C2257.7 2764.4 2257.8 2804.6 2259.1 2834.1C2260.5 2863.6 2261.6 2897.2 2263.2 2941.4C2264.7 2985.7 2265.9 3099.7 2268.5 3099.7C2273.3 3099.7 2275.2 3061.7 2279.2 3021.9C2283.3 2982.1 2289.1 2900.3 2292.7 2861.0C2296.2 2821.6 2297.1 2785.8 2300.7 2785.8C2303.3 2785.8 2303.4 2870.8 2304.7 2914.6C2306.1 2958.4 2307.6 3015.7 2308.8 3048.8C2309.9 3081.8 2308.8 3113.1 2311.4 3113.1C2316.3 3113.1 2317.7 3041.6 2322.2 2995.1C2326.6 2948.6 2334.2 2866.8 2338.3 2834.1C2342.3 2801.5 2344.2 2805.6 2346.3 2799.3C2348.4 2792.9 2348.1 2796.1 2350.7 2796.1C2355.6 2796.1 2356.5 2860.9 2361.5 2906.1C2366.4 2951.2 2374.0 3019.6 2380.2 3067.0C2386.5 3114.4 2390.6 3190.4 2399.0 3190.4C2403.8 3190.4 2406.8 3083.1 2409.8 3040.2C2412.7 2997.3 2414.8 2958.6 2416.5 2932.9C2418.1 2907.2 2417.1 2885.9 2419.7 2885.9C2422.5 2885.9 2424.0 3057.4 2425.8 3120.7C2427.7 3184.0 2429.9 3241.4 2430.7 3265.6C2431.4 3228.0 2433.9 3096.3 2435.2 3040.2C2436.5 2984.1 2435.9 2928.9 2438.5 2928.9C2441.8 2928.9 2443.6 3047.6 2446.0 3093.9C2448.3 3140.1 2449.7 3206.5 2452.7 3206.5C2457.5 3206.5 2459.4 3117.1 2463.4 3067.0C2467.4 3017.0 2472.9 2940.7 2476.8 2906.1C2480.8 2871.4 2482.4 2859.1 2487.0 2859.1C2492.1 2859.1 2494.2 2920.6 2498.3 2959.7C2502.4 2998.8 2507.9 3058.8 2511.7 3093.9C2515.5 3129.0 2516.9 3170.3 2521.1 3170.3C2523.7 3170.3 2523.8 3121.6 2525.1 3107.3C2526.5 3093.0 2526.5 3084.5 2529.1 3084.5C2534.6 3084.5 2537.1 3139.9 2541.2 3174.3C2545.3 3208.8 2551.7 3271.6 2553.8 3291.0L2555.4 3291.0C2556.2 3258.2 2557.9 3167.0 2560.0 3093.9C2562.1 3020.8 2565.6 2919.5 2568.0 2852.4C2570.5 2785.3 2573.0 2726.3 2574.7 2691.4C2576.5 2656.6 2576.2 2643.2 2578.8 2643.2C2582.4 2643.2 2583.7 2723.6 2586.8 2771.9C2589.9 2820.2 2594.9 2900.3 2597.5 2932.9C2600.2 2965.5 2600.3 2967.8 2602.9 2967.8C2606.5 2967.8 2608.4 2902.9 2611.0 2879.2C2613.6 2855.5 2615.1 2825.6 2618.5 2825.6C2621.1 2825.6 2621.6 2932.9 2624.4 2986.6C2627.1 3040.2 2631.3 3105.7 2635.1 3147.5C2638.9 3189.3 2641.7 3237.4 2647.2 3237.4C2653.8 3237.4 2657.2 3126.7 2661.9 3093.9C2666.6 3061.0 2669.3 3040.2 2675.3 3040.2C2680.2 3040.2 2682.7 3114.9 2686.1 3147.5C2689.4 3180.2 2691.2 3236.0 2695.5 3236.0C2700.9 3236.0 2704.2 3145.3 2707.5 3120.7C2710.9 3096.1 2712.0 3088.5 2715.6 3088.5C2720.4 3088.5 2723.0 3133.2 2726.3 3147.5C2729.7 3161.8 2734.1 3169.9 2735.7 3174.3" stroke="#f08519"/>
<path d="M947.2 3582.9C948.1 3582.0 950.8 3581.4 952.6 3577.5C954.5 3573.6 956.3 3569.6 958.1 3559.3C959.9 3549.0 961.4 3531.5 963.5 3515.7C965.7 3500.0 968.1 3481.8 970.8 3464.9C973.5 3447.9 976.6 3429.8 979.9 3414.0C983.2 3398.3 986.8 3383.2 990.8 3370.5C994.7 3357.8 998.9 3346.9 1003.5 3337.8C1008.0 3328.7 1013.5 3322.0 1018.0 3316.0C1022.6 3309.9 1027.4 3304.3 1030.7 3301.5C1034.1 3298.6 1035.9 3298.6 1038.0 3298.9C1040.1 3299.2 1041.6 3299.8 1043.4 3303.3C1045.3 3306.7 1046.8 3312.0 1048.9 3319.6C1051.0 3327.2 1053.7 3337.8 1056.2 3348.7C1058.6 3359.6 1060.7 3371.7 1063.4 3385.0C1066.1 3398.3 1069.2 3413.4 1072.5 3428.6C1075.8 3443.7 1079.8 3460.7 1083.4 3475.8C1087.0 3490.9 1090.7 3506.1 1094.3 3519.4C1097.9 3532.7 1101.6 3546.6 1105.2 3555.7C1108.8 3564.8 1111.8 3569.6 1116.1 3573.9C1120.3 3578.1 1125.8 3579.7 1130.6 3581.1C1135.5 3582.5 1140.3 3582.8 1145.1 3582.2C1150.0 3581.6 1154.8 3579.8 1159.7 3577.5C1164.5 3575.2 1170.0 3572.0 1174.2 3568.4C1178.4 3564.8 1181.5 3561.4 1185.1 3555.7C1188.7 3549.9 1192.4 3543.0 1196.0 3533.9C1199.6 3524.8 1203.2 3514.5 1206.9 3501.2C1210.5 3487.9 1214.4 3471.0 1217.8 3454.0C1221.1 3437.1 1224.1 3419.5 1226.9 3399.5C1229.6 3379.5 1231.7 3358.4 1234.1 3334.1C1236.5 3309.9 1239.3 3280.9 1241.4 3254.2C1243.5 3227.6 1245.0 3199.8 1246.8 3174.3C1248.6 3148.9 1250.5 3122.9 1252.3 3101.7C1254.1 3080.5 1256.1 3060.2 1257.7 3047.2C1259.4 3034.2 1260.8 3028.1 1262.1 3023.6C1263.4 3019.1 1264.3 3019.4 1265.7 3020.0C1267.1 3020.6 1268.7 3022.1 1270.4 3027.2C1272.1 3032.4 1273.8 3039.6 1275.9 3050.8C1278.0 3062.0 1280.7 3078.7 1283.2 3094.4C1285.6 3110.2 1288.0 3127.1 1290.4 3145.3C1292.8 3163.4 1295.3 3182.8 1297.7 3203.4C1300.1 3224.0 1302.5 3247.0 1304.9 3268.8C1307.4 3290.6 1309.8 3312.4 1312.2 3334.1C1314.6 3355.9 1317.1 3377.7 1319.5 3399.5C1321.9 3421.3 1324.3 3444.9 1326.7 3464.9C1329.2 3484.9 1331.6 3504.2 1334.0 3519.4C1336.4 3534.5 1339.1 3547.8 1341.3 3555.7C1343.4 3563.6 1345.1 3564.2 1346.7 3566.6C1348.3 3569.0 1349.7 3570.2 1351.1 3569.9C1352.5 3569.6 1353.7 3568.3 1355.1 3564.8C1356.5 3561.2 1357.5 3559.0 1359.4 3548.4C1361.4 3537.8 1364.0 3520.0 1366.7 3501.2C1369.4 3482.5 1372.7 3458.8 1375.8 3435.8C1378.8 3412.8 1381.8 3387.4 1384.8 3363.2C1387.9 3339.0 1390.9 3314.8 1393.9 3290.6C1397.0 3266.3 1400.3 3240.3 1403.0 3217.9C1405.7 3195.5 1407.9 3174.9 1410.3 3156.2C1412.7 3137.4 1415.4 3117.1 1417.5 3105.3C1419.7 3093.5 1421.6 3088.4 1423.0 3085.4C1424.4 3082.3 1425.0 3083.2 1425.9 3087.2C1426.8 3091.1 1427.4 3096.9 1428.4 3109.0C1429.5 3121.1 1430.6 3140.4 1432.1 3159.8C1433.6 3179.2 1435.4 3203.4 1437.5 3225.2C1439.6 3247.0 1441.7 3267.7 1444.8 3290.6C1447.9 3313.4 1451.5 3344.0 1456.1 3362.2C1460.7 3380.4 1464.9 3399.7 1472.2 3399.7C1478.2 3399.7 1481.6 3328.2 1485.6 3295.1C1489.6 3262.0 1493.2 3220.4 1496.3 3201.2C1499.5 3182.0 1501.7 3184.0 1504.4 3179.7C1507.1 3175.5 1508.8 3175.7 1512.4 3175.7C1516.1 3175.7 1517.8 3182.2 1520.5 3193.2C1523.2 3204.1 1525.0 3217.8 1528.5 3241.4C1532.1 3265.1 1537.5 3309.4 1541.9 3335.3C1546.4 3361.3 1550.7 3383.4 1555.4 3397.0C1560.1 3410.7 1563.5 3417.2 1570.1 3417.2C1574.3 3417.2 1577.0 3349.0 1579.5 3321.9C1582.0 3294.9 1582.9 3270.1 1584.9 3254.9C1586.9 3239.7 1589.3 3235.4 1591.6 3230.7C1593.8 3226.0 1595.3 3226.7 1598.3 3226.7C1601.3 3226.7 1602.8 3235.4 1605.0 3246.8C1607.2 3258.2 1607.9 3273.6 1611.7 3295.1C1615.5 3316.6 1622.7 3353.2 1627.8 3375.6C1632.9 3397.9 1635.9 3429.2 1642.5 3429.2C1645.1 3429.2 1642.3 3317.5 1641.7 3268.3C1641.2 3219.1 1638.7 3160.1 1639.1 3134.1C1639.4 3108.2 1641.3 3112.7 1643.9 3112.7C1646.9 3112.7 1647.9 3127.0 1650.6 3139.5C1653.3 3152.0 1654.8 3161.9 1660.0 3187.8C1665.1 3213.7 1675.2 3266.9 1681.4 3295.1C1687.7 3323.3 1692.6 3343.4 1697.5 3356.8C1702.5 3370.2 1704.9 3375.6 1711.0 3375.6C1713.6 3375.6 1714.1 3275.0 1715.0 3241.4C1715.9 3207.9 1715.7 3191.6 1716.3 3174.4C1717.0 3157.2 1716.4 3138.2 1719.0 3138.2C1721.6 3138.2 1721.2 3148.2 1723.0 3161.0C1724.8 3173.7 1726.4 3187.8 1729.7 3214.6C1733.1 3241.4 1738.7 3295.1 1743.2 3321.9C1747.6 3348.8 1750.5 3375.6 1756.6 3375.6C1759.2 3375.6 1759.5 3301.8 1760.6 3268.3C1761.7 3234.7 1762.4 3196.7 1763.3 3174.4C1764.2 3152.0 1763.4 3134.1 1766.0 3134.1C1768.6 3134.1 1768.4 3152.0 1771.3 3174.4C1774.2 3196.7 1779.6 3230.3 1783.4 3268.3C1787.2 3306.3 1791.0 3374.0 1794.1 3402.4C1797.3 3430.8 1798.6 3438.6 1802.2 3438.6C1807.0 3438.6 1809.8 3321.3 1812.9 3268.3C1816.0 3215.3 1818.7 3150.2 1821.0 3120.7C1823.2 3091.2 1823.7 3091.2 1826.3 3091.2C1832.6 3091.2 1834.8 3149.3 1840.2 3187.8C1845.7 3226.2 1852.8 3283.9 1859.0 3321.9C1865.3 3359.9 1869.3 3415.8 1877.8 3415.8C1881.4 3415.8 1883.4 3364.4 1885.8 3321.9C1888.3 3279.5 1890.3 3203.7 1892.6 3161.0C1894.8 3118.3 1896.2 3065.7 1899.3 3065.7C1902.3 3065.7 1903.7 3100.4 1906.0 3120.7C1908.2 3141.1 1909.8 3154.3 1912.7 3187.8C1915.6 3221.3 1920.0 3284.8 1923.4 3321.9C1926.8 3359.0 1928.9 3410.5 1933.3 3410.5C1936.1 3410.5 1937.4 3345.6 1939.5 3295.1C1941.6 3244.6 1944.4 3152.0 1946.2 3107.3C1948.0 3062.6 1948.4 3047.7 1950.2 3026.8C1952.0 3005.9 1953.9 2982.0 1956.9 2982.0C1961.2 2982.0 1962.1 3059.6 1966.3 3107.3C1970.6 3155.0 1978.0 3225.8 1982.4 3268.3C1986.9 3310.8 1990.0 3338.9 1993.2 3362.2C1996.3 3385.4 1997.6 3407.8 2001.2 3407.8C2003.8 3407.8 2003.7 3318.4 2005.2 3268.3C2006.8 3218.2 2009.0 3152.0 2010.6 3107.3C2012.2 3062.6 2013.1 3021.6 2014.6 3000.0C2016.1 2978.4 2016.9 2977.7 2019.5 2977.7C2023.3 2977.7 2025.3 2996.3 2028.0 3026.8C2030.8 3057.4 2033.6 3120.7 2036.1 3161.0C2038.5 3201.2 2039.8 3268.3 2042.8 3268.3C2045.4 3268.3 2042.2 3300.0 2043.2 3263.4C2044.1 3226.8 2047.0 3111.4 2048.5 3048.8C2050.1 2986.2 2051.5 2921.8 2052.6 2887.8C2053.6 2853.8 2052.1 2844.9 2054.7 2844.9C2058.0 2844.9 2058.9 2889.6 2061.9 2914.6C2064.9 2939.7 2069.8 2977.7 2072.7 2995.1C2075.6 3012.5 2076.4 3019.2 2079.4 3019.2C2082.0 3019.2 2080.9 2914.2 2082.1 2861.0C2083.2 2807.8 2084.1 2740.2 2086.1 2700.0C2088.1 2659.8 2091.5 2637.8 2094.1 2619.5C2096.8 2601.2 2098.4 2590.0 2101.9 2590.0C2105.1 2590.0 2106.6 2628.0 2108.9 2646.3C2111.2 2664.7 2112.7 2668.7 2115.6 2700.0C2118.5 2731.3 2122.8 2798.4 2126.3 2834.1C2129.9 2869.9 2132.2 2914.6 2137.1 2914.6C2141.9 2914.6 2144.2 2838.2 2147.8 2807.3C2151.4 2776.5 2153.7 2729.5 2158.5 2729.5C2162.1 2729.5 2163.9 2834.6 2166.6 2887.8C2169.3 2941.0 2172.2 3008.5 2174.6 3048.8C2177.1 3089.0 2179.6 3111.6 2181.3 3129.2C2183.0 3146.9 2182.2 3154.7 2184.8 3154.7C2187.4 3154.7 2187.5 3146.9 2189.4 3129.2C2191.3 3111.6 2192.7 3089.0 2196.1 3048.8C2199.4 3008.5 2205.5 2937.0 2209.5 2887.8C2213.5 2838.6 2217.5 2782.7 2220.2 2753.7C2222.9 2724.6 2223.0 2713.4 2225.6 2713.4C2228.2 2713.4 2228.3 2751.4 2231.0 2780.5C2233.6 2809.5 2236.8 2852.0 2241.7 2887.8C2246.6 2923.6 2255.1 2968.3 2260.5 2995.1C2265.8 3021.9 2269.9 3034.0 2273.9 3048.8C2277.9 3063.5 2279.8 3083.6 2284.6 3083.6C2290.7 3083.6 2293.1 2987.5 2298.0 2941.4C2302.9 2895.4 2309.4 2839.5 2314.1 2807.3C2318.8 2775.1 2320.8 2748.3 2326.2 2748.3C2330.4 2748.3 2332.7 2837.7 2335.6 2887.8C2338.5 2937.9 2341.2 3007.4 2343.6 3048.8C2346.1 3090.1 2347.3 3135.9 2350.3 3135.9C2352.9 3135.9 2354.0 3087.5 2356.1 3067.0C2358.2 3046.6 2361.0 3031.3 2362.8 3013.4C2364.6 2995.5 2365.6 2972.0 2366.8 2959.7C2368.1 2947.4 2367.7 2939.6 2370.3 2939.6C2372.9 2939.6 2372.8 2974.3 2374.9 3008.0C2377.0 3041.8 2379.3 3142.2 2382.9 3142.2C2386.5 3142.2 2388.7 3052.7 2391.0 3008.0C2393.2 2963.3 2394.9 2901.4 2396.3 2873.9C2397.8 2846.4 2397.0 2843.0 2399.6 2843.0C2402.2 2843.0 2402.8 2953.7 2404.4 3008.0C2406.0 3062.3 2408.0 3129.4 2409.2 3169.0C2410.5 3208.6 2411.5 3232.7 2411.9 3245.4C2412.7 3214.8 2415.4 3110.2 2416.5 3061.7C2417.5 3013.2 2417.8 2983.5 2418.3 2954.4C2418.9 2925.2 2417.1 2886.8 2419.7 2886.8C2422.5 2886.8 2423.5 2943.1 2425.8 2981.2C2428.2 3019.3 2430.3 3084.0 2433.9 3115.3C2437.5 3146.6 2441.3 3169.0 2447.3 3169.0C2450.9 3169.0 2452.7 3057.2 2455.4 3008.0C2458.0 2958.8 2460.7 2906.3 2463.4 2873.9C2466.1 2841.5 2467.8 2813.5 2471.5 2813.5C2477.5 2813.5 2480.0 2859.3 2484.9 2900.7C2489.8 2942.1 2496.9 3025.9 2501.0 3061.7C2505.0 3097.4 2505.4 3115.3 2509.0 3115.3C2513.2 3115.3 2514.2 3053.6 2518.4 3053.6C2522.6 3053.6 2524.4 3087.2 2527.8 3115.3C2531.1 3143.5 2536.0 3196.5 2538.5 3222.6C2541.1 3248.8 2542.3 3264.0 2543.1 3272.3L2544.7 3272.3C2545.5 3241.6 2547.6 3154.9 2549.3 3088.5C2550.9 3022.1 2552.4 2945.4 2554.6 2873.9C2556.9 2802.3 2560.4 2707.5 2562.7 2659.3C2564.9 2611.0 2565.4 2584.1 2568.0 2584.1C2571.7 2584.1 2573.4 2646.7 2576.1 2686.1C2578.8 2725.4 2581.0 2779.5 2584.1 2820.2C2587.3 2860.9 2590.0 2930.2 2594.9 2930.2C2598.5 2930.2 2600.5 2896.7 2602.9 2873.9C2605.4 2851.1 2608.3 2809.5 2609.6 2793.4C2611.0 2777.3 2608.4 2777.3 2611.0 2777.3C2613.6 2777.3 2614.1 2853.3 2616.3 2900.7C2618.6 2948.1 2621.7 3014.7 2624.4 3061.7C2627.1 3108.6 2629.7 3153.3 2632.4 3182.4C2635.1 3211.5 2636.8 3236.0 2640.5 3236.0C2647.7 3236.0 2652.1 3150.2 2656.6 3115.3C2661.0 3080.4 2662.5 3026.8 2667.3 3026.8C2672.1 3026.8 2673.6 3050.0 2678.0 3080.4C2682.5 3110.9 2686.9 3209.2 2694.1 3209.2C2697.7 3209.2 2698.8 3167.4 2702.2 3142.2C2705.5 3116.9 2708.8 3057.6 2714.2 3057.6C2717.3 3057.6 2717.9 3115.3 2721.0 3115.3C2724.6 3115.3 2727.1 3101.9 2729.0 3088.5C2730.9 3075.1 2731.7 3043.8 2732.2 3034.8" stroke="#f00000"/>
<path d="M354.7 3358.5C368.7 3357.6 410.4 3354.5 439.0 3353.0C467.5 3351.5 497.1 3350.3 526.1 3349.4C555.2 3348.5 591.5 3347.7 613.3 3347.6C635.1 3347.5 640.5 3347.8 656.9 3348.7C673.2 3349.6 693.2 3350.7 711.4 3353.0C729.5 3355.3 750.7 3359.3 765.8 3362.5C781.0 3365.7 791.3 3368.8 802.2 3372.3C813.1 3375.7 822.1 3380.1 831.2 3383.2C840.3 3386.2 848.8 3388.9 856.6 3390.4C864.5 3392.0 872.1 3392.3 878.4 3392.3C884.7 3392.3 889.4 3391.7 894.5 3390.4C899.6 3389.2 904.2 3388.0 909.1 3385.0C913.9 3382.0 919.3 3378.3 923.6 3372.3C927.8 3366.2 931.8 3357.4 934.5 3348.7C937.2 3339.9 938.1 3330.5 939.9 3319.6C941.7 3308.7 943.3 3295.4 945.4 3283.3C947.5 3271.2 949.6 3260.3 952.6 3247.0C955.7 3233.7 959.3 3219.1 963.5 3203.4C967.8 3187.7 972.6 3169.5 978.1 3152.5C983.5 3135.6 989.6 3117.4 996.2 3101.7C1002.9 3086.0 1012.0 3067.8 1018.0 3058.1C1024.1 3048.4 1028.9 3046.5 1032.5 3043.6C1036.2 3040.7 1037.9 3040.4 1039.8 3040.7C1041.7 3041.0 1042.7 3041.3 1044.2 3045.4C1045.7 3049.5 1047.2 3057.2 1048.9 3065.4C1050.6 3073.5 1052.2 3083.5 1054.3 3094.4C1056.5 3105.3 1058.6 3116.2 1061.6 3130.8C1064.6 3145.3 1068.3 3163.4 1072.5 3181.6C1076.7 3199.8 1082.2 3222.2 1087.0 3239.7C1091.9 3257.3 1096.7 3274.2 1101.6 3286.9C1106.4 3299.6 1111.2 3308.1 1116.1 3316.0C1120.9 3323.9 1125.8 3329.6 1130.6 3334.1C1135.5 3338.7 1139.7 3340.8 1145.1 3343.2C1150.6 3345.6 1157.2 3347.5 1163.3 3348.7C1169.3 3349.9 1176.0 3350.5 1181.5 3350.5C1186.9 3350.5 1191.7 3349.9 1196.0 3348.7C1200.2 3347.5 1203.2 3345.9 1206.9 3343.2C1210.5 3340.5 1214.1 3338.1 1217.8 3332.3C1221.4 3326.6 1225.3 3319.3 1228.7 3308.7C1232.0 3298.1 1235.0 3283.9 1237.8 3268.8C1240.5 3253.6 1242.6 3235.5 1245.0 3217.9C1247.4 3200.4 1249.9 3179.8 1252.3 3163.4C1254.7 3147.1 1257.1 3132.0 1259.5 3119.9C1262.0 3107.7 1264.7 3097.5 1266.8 3090.8C1268.9 3084.1 1270.7 3081.9 1272.3 3079.9C1273.8 3077.9 1274.7 3077.6 1275.9 3078.8C1277.1 3080.0 1278.0 3080.9 1279.5 3087.2C1281.0 3093.4 1283.2 3104.1 1285.0 3116.2C1286.8 3128.3 1288.6 3144.1 1290.4 3159.8C1292.2 3175.5 1294.0 3194.9 1295.9 3210.7C1297.7 3226.4 1299.2 3241.5 1301.3 3254.2C1303.4 3267.0 1305.9 3277.8 1308.6 3286.9C1311.3 3296.0 1314.3 3302.7 1317.7 3308.7C1321.0 3314.8 1324.9 3318.7 1328.6 3323.2C1332.2 3327.8 1336.1 3331.1 1339.4 3336.0C1342.8 3340.8 1345.8 3346.9 1348.5 3352.3C1351.3 3357.8 1353.4 3364.4 1355.8 3368.6C1358.2 3372.9 1360.9 3376.2 1363.1 3377.7C1365.2 3379.2 1367.0 3380.1 1368.5 3377.7C1370.0 3375.3 1370.6 3371.7 1372.1 3363.2C1373.7 3354.7 1375.5 3342.6 1377.6 3326.9C1379.7 3311.1 1382.4 3288.1 1384.8 3268.8C1387.3 3249.4 1389.4 3230.0 1392.1 3210.7C1394.8 3191.3 1398.2 3169.5 1401.2 3152.5C1404.2 3135.6 1407.5 3119.3 1410.3 3109.0C1413.0 3098.7 1415.6 3094.1 1417.5 3090.8C1419.5 3087.5 1420.7 3087.8 1421.9 3089.0C1423.1 3090.2 1423.7 3091.7 1424.8 3098.1C1425.9 3104.4 1427.2 3114.4 1428.4 3127.1C1429.6 3139.8 1430.6 3156.8 1432.1 3174.3C1433.6 3191.9 1436.2 3219.2 1437.5 3232.4C1438.8 3245.7 1436.0 3234.7 1440.0 3254.1C1444.0 3273.4 1455.6 3328.5 1461.5 3348.8C1467.3 3369.0 1471.1 3369.8 1474.9 3375.6C1478.7 3381.4 1480.0 3383.6 1484.3 3383.6C1487.9 3383.6 1489.9 3368.0 1492.3 3348.8C1494.8 3329.5 1496.1 3308.5 1499.0 3268.3C1501.9 3228.0 1506.8 3144.4 1509.8 3107.3C1512.7 3070.2 1514.7 3058.4 1516.5 3045.6C1518.2 3032.9 1517.9 3030.9 1520.5 3030.9C1523.1 3030.9 1522.7 3036.4 1524.5 3053.7C1526.3 3070.9 1527.4 3102.8 1531.2 3134.1C1535.0 3165.4 1541.1 3210.1 1547.3 3241.4C1553.6 3272.7 1562.5 3303.2 1568.8 3321.9C1575.0 3340.7 1580.8 3347.6 1584.9 3354.1C1588.9 3360.6 1589.3 3360.8 1592.9 3360.8C1595.5 3360.8 1595.3 3341.8 1596.1 3321.9C1596.9 3302.0 1597.1 3272.7 1597.7 3241.4C1598.4 3210.1 1599.0 3158.1 1600.2 3134.1C1601.4 3110.2 1602.4 3097.9 1605.0 3097.9C1607.6 3097.9 1608.3 3108.0 1610.4 3120.7C1612.4 3133.5 1613.3 3149.8 1617.1 3174.4C1620.9 3199.0 1627.8 3240.1 1633.2 3268.3C1638.5 3296.4 1644.8 3327.3 1649.3 3343.4C1653.7 3359.5 1655.2 3364.9 1660.0 3364.9C1662.6 3364.9 1660.9 3342.5 1660.5 3321.9C1660.2 3301.4 1658.7 3272.7 1657.8 3241.4C1657.0 3210.1 1655.2 3160.3 1655.4 3134.1C1655.7 3108.0 1656.9 3084.5 1659.5 3084.5C1662.7 3084.5 1663.9 3094.6 1666.7 3107.3C1669.5 3120.1 1671.4 3136.4 1676.1 3161.0C1680.8 3185.6 1688.6 3228.0 1694.9 3254.9C1701.1 3281.7 1708.3 3306.1 1713.6 3321.9C1719.0 3337.8 1721.0 3350.1 1727.1 3350.1C1729.7 3350.1 1729.5 3277.4 1730.3 3241.4C1731.0 3205.5 1730.9 3156.0 1731.6 3134.1C1732.3 3112.2 1731.7 3110.0 1734.3 3110.0C1736.9 3110.0 1736.8 3121.2 1738.3 3134.1C1739.8 3147.1 1740.6 3161.0 1743.2 3187.8C1745.7 3214.6 1750.3 3269.6 1753.9 3295.1C1757.5 3320.6 1761.7 3331.8 1764.6 3340.7C1767.5 3349.7 1768.3 3348.8 1771.3 3348.8C1773.9 3348.8 1773.3 3277.2 1774.0 3241.4C1774.7 3205.7 1774.5 3157.2 1775.3 3134.1C1776.2 3111.1 1776.8 3103.3 1779.4 3103.3C1782.0 3103.3 1782.3 3114.7 1784.7 3128.8C1787.2 3142.9 1789.9 3155.6 1794.1 3187.8C1798.4 3220.0 1806.2 3289.7 1810.2 3321.9C1814.2 3354.1 1816.0 3367.5 1818.3 3381.0C1820.5 3394.4 1821.0 3402.4 1823.6 3402.4C1826.2 3402.4 1825.8 3366.6 1826.8 3348.8C1827.8 3330.9 1828.2 3330.9 1829.5 3295.1C1830.9 3259.3 1833.3 3168.6 1834.9 3134.1C1836.4 3099.7 1837.6 3097.7 1838.9 3088.5C1840.2 3079.4 1840.3 3079.1 1842.9 3079.1C1845.5 3079.1 1846.0 3090.1 1847.8 3099.3C1849.5 3108.4 1850.0 3110.4 1853.7 3134.1C1857.3 3157.8 1864.8 3201.2 1869.8 3241.4C1874.7 3281.7 1879.4 3341.6 1883.2 3375.6C1887.0 3409.6 1888.3 3445.3 1892.6 3445.3C1895.6 3445.3 1896.8 3391.7 1899.3 3348.8C1901.7 3305.8 1905.1 3232.5 1907.3 3187.8C1909.5 3143.1 1910.8 3104.0 1912.7 3080.5C1914.6 3057.0 1916.1 3046.9 1918.8 3046.9C1921.4 3046.9 1921.3 3097.3 1923.4 3134.1C1925.5 3171.0 1928.3 3223.6 1931.5 3268.3C1934.6 3313.0 1938.7 3364.9 1942.2 3402.4C1945.6 3440.0 1947.6 3493.6 1952.1 3493.6C1955.5 3493.6 1957.3 3444.4 1959.6 3402.4C1962.0 3360.4 1964.3 3295.1 1966.3 3241.4C1968.3 3187.8 1969.9 3121.4 1971.7 3080.5C1973.5 3039.5 1974.5 2995.7 1977.1 2995.7C1979.7 2995.7 1980.6 3021.6 1982.4 3040.2C1984.2 3058.8 1984.7 3073.8 1987.8 3107.3C1990.9 3140.8 1997.2 3201.2 2001.2 3241.4C2005.2 3281.7 2009.3 3325.5 2011.9 3348.8C2014.6 3372.0 2014.7 3381.0 2017.3 3381.0C2019.9 3381.0 2019.1 3309.4 2020.0 3268.3C2020.9 3227.1 2021.3 3166.1 2022.7 3134.1C2024.0 3102.2 2025.4 3076.5 2028.0 3076.5C2031.7 3076.5 2033.0 3097.7 2036.1 3120.7C2039.2 3143.8 2043.7 3189.1 2046.8 3214.6C2049.9 3240.1 2051.2 3273.6 2054.9 3273.6C2057.5 3273.6 2057.8 3220.0 2058.9 3187.8C2060.0 3155.6 2060.7 3111.8 2061.6 3080.5C2062.5 3049.2 2063.5 3027.6 2064.3 3000.0C2065.0 2972.4 2065.1 2944.9 2066.0 2914.6C2066.8 2884.3 2066.9 2818.0 2069.5 2818.0C2072.1 2818.0 2072.1 2865.0 2074.0 2887.8C2075.9 2910.6 2077.8 2937.4 2080.7 2954.9C2083.6 2972.3 2086.6 2992.4 2091.5 2992.4C2094.1 2992.4 2095.3 2918.6 2096.8 2887.8C2098.4 2856.9 2099.1 2830.3 2100.8 2807.3C2102.6 2784.3 2105.3 2781.2 2107.3 2749.9C2109.3 2718.6 2111.0 2650.5 2112.9 2619.5C2114.8 2588.5 2116.2 2563.7 2118.8 2563.7C2121.6 2563.7 2122.4 2588.5 2125.0 2619.5C2127.5 2650.5 2130.3 2700.7 2134.1 2749.9C2137.9 2799.1 2143.3 2867.7 2147.8 2914.6C2152.3 2961.5 2155.2 3031.3 2161.2 3031.3C2166.0 3031.3 2167.5 2978.8 2171.9 2941.4C2176.4 2904.1 2183.1 2840.0 2188.0 2807.3C2193.0 2774.7 2198.1 2757.7 2201.4 2745.6C2204.8 2733.5 2205.1 2734.9 2208.2 2734.9C2210.8 2734.9 2212.0 2750.5 2213.5 2767.1C2215.1 2783.6 2215.1 2805.1 2217.5 2834.1C2220.0 2863.2 2224.7 2911.7 2228.3 2941.4C2231.9 2971.2 2234.2 3012.5 2239.0 3012.5C2243.8 3012.5 2244.4 2971.2 2249.7 2941.4C2255.1 2911.7 2265.4 2856.9 2271.2 2834.1C2277.0 2811.3 2281.0 2810.4 2284.6 2804.6C2288.2 2798.8 2289.0 2799.3 2292.7 2799.3C2295.7 2799.3 2297.1 2814.9 2299.4 2834.1C2301.6 2853.4 2303.2 2878.9 2306.1 2914.6C2309.0 2950.4 2313.9 3018.8 2316.8 3048.8C2319.7 3078.7 2320.5 3094.4 2323.5 3094.4C2326.5 3094.4 2326.9 3047.4 2330.2 3021.9C2333.6 2996.4 2337.6 2941.4 2343.6 2941.4C2348.5 2941.4 2349.5 2995.1 2354.4 2995.1C2357.0 2995.1 2357.5 2868.5 2360.1 2868.5C2365.6 2868.5 2367.9 2949.0 2372.2 2986.6C2376.4 3024.1 2381.8 3068.6 2385.6 3093.9C2389.4 3119.1 2390.8 3138.1 2395.0 3138.1C2400.4 3138.1 2402.8 3069.9 2407.1 3040.2C2411.3 3010.5 2414.4 2959.7 2420.5 2959.7C2426.5 2959.7 2428.8 3031.0 2433.9 3067.0C2439.0 3103.0 2443.5 3175.7 2451.3 3175.7C2453.9 3175.7 2454.2 3085.1 2455.4 3040.2C2456.5 2995.3 2455.4 2906.1 2458.0 2906.1C2461.7 2906.1 2462.5 2939.6 2466.1 2959.7C2469.7 2979.8 2474.1 3005.3 2479.5 3026.8C2484.9 3048.3 2492.7 3074.6 2498.3 3088.5C2503.9 3102.4 2506.4 3110.0 2513.0 3110.0C2519.7 3110.0 2522.7 3029.5 2527.8 2986.6C2532.9 2943.6 2539.9 2879.9 2543.9 2852.4C2547.9 2824.9 2548.3 2821.6 2551.9 2821.6C2554.5 2821.6 2553.8 2840.6 2554.6 2852.4C2555.4 2864.3 2554.2 2892.7 2556.8 2892.7C2559.4 2892.7 2557.7 2881.5 2558.6 2852.4C2559.6 2823.4 2560.7 2763.0 2562.7 2718.3C2564.7 2673.6 2568.3 2614.1 2570.7 2584.1C2573.2 2554.2 2575.5 2547.7 2577.4 2538.5C2579.3 2529.4 2579.4 2529.1 2582.0 2529.1C2584.6 2529.1 2584.4 2543.7 2585.5 2557.3C2586.5 2570.9 2586.8 2579.7 2588.2 2611.0C2589.5 2642.3 2591.3 2691.4 2593.5 2745.1C2595.8 2798.8 2597.8 2879.2 2601.6 2932.9C2605.4 2986.6 2611.2 3029.0 2616.3 3067.0C2621.5 3105.0 2625.2 3160.9 2632.4 3160.9C2637.3 3160.9 2639.6 3070.6 2643.2 3040.2C2646.7 3009.8 2649.1 2978.5 2653.9 2978.5C2661.1 2978.5 2664.6 3034.4 2670.0 3067.0C2675.3 3099.7 2681.6 3146.8 2686.1 3174.3C2690.5 3201.8 2692.0 3232.0 2696.8 3232.0C2699.4 3232.0 2699.7 3170.5 2700.8 3147.5C2701.9 3124.5 2702.6 3103.3 2703.5 3093.9C2704.4 3084.5 2703.6 3091.2 2706.2 3091.2C2709.8 3091.2 2710.6 3103.3 2714.2 3103.3C2718.5 3103.3 2721.0 3045.3 2723.6 3026.8C2726.3 3008.2 2728.6 2999.1 2730.3 2991.9C2732.1 2984.8 2733.7 2985.2 2734.4 2983.9" stroke="#00ee00"/>
<path d="M927.2 3581.1C929.6 3581.4 937.8 3583.5 941.7 3582.9C945.7 3582.3 948.4 3581.4 950.8 3577.5C953.2 3573.6 954.5 3568.4 956.3 3559.3C958.1 3550.2 959.6 3538.7 961.7 3523.0C963.8 3507.3 966.6 3484.3 969.0 3464.9C971.4 3445.5 973.8 3425.5 976.2 3406.8C978.7 3388.0 980.8 3369.9 983.5 3352.3C986.2 3334.7 989.3 3317.2 992.6 3301.5C995.9 3285.7 999.9 3269.4 1003.5 3257.9C1007.1 3246.4 1010.8 3239.4 1014.4 3232.4C1018.0 3225.5 1022.0 3219.7 1025.3 3216.1C1028.6 3212.5 1031.6 3211.3 1034.4 3210.7C1037.1 3210.1 1039.2 3210.7 1041.6 3212.5C1044.0 3214.3 1046.2 3216.4 1048.9 3221.6C1051.6 3226.7 1054.6 3233.7 1058.0 3243.3C1061.3 3253.0 1065.2 3267.0 1068.9 3279.7C1072.5 3292.4 1076.1 3306.3 1079.8 3319.6C1083.4 3332.9 1087.0 3346.3 1090.7 3359.6C1094.3 3372.9 1097.9 3385.6 1101.6 3399.5C1105.2 3413.4 1108.8 3428.6 1112.4 3443.1C1116.1 3457.6 1119.7 3473.4 1123.3 3486.7C1127.0 3500.0 1130.6 3512.7 1134.2 3523.0C1137.9 3533.3 1141.5 3541.8 1145.1 3548.4C1148.8 3555.1 1152.4 3559.6 1156.0 3563.0C1159.7 3566.3 1163.3 3568.1 1166.9 3568.4C1170.6 3568.7 1174.2 3566.9 1177.8 3564.8C1181.5 3562.7 1185.1 3559.6 1188.7 3555.7C1192.4 3551.8 1196.0 3547.2 1199.6 3541.2C1203.2 3535.1 1206.9 3527.9 1210.5 3519.4C1214.1 3510.9 1217.8 3501.2 1221.4 3490.3C1225.0 3479.4 1228.7 3467.3 1232.3 3454.0C1235.9 3440.7 1239.6 3425.5 1243.2 3410.4C1246.8 3395.3 1250.5 3380.1 1254.1 3363.2C1257.7 3346.3 1261.7 3326.9 1265.0 3308.7C1268.3 3290.6 1271.3 3271.8 1274.1 3254.2C1276.8 3236.7 1279.2 3217.9 1281.3 3203.4C1283.5 3188.9 1285.4 3174.6 1286.8 3167.1C1288.2 3159.5 1288.8 3158.6 1289.7 3158.0C1290.6 3157.4 1291.2 3157.1 1292.2 3163.4C1293.3 3169.8 1294.4 3181.0 1295.9 3196.1C1297.4 3211.3 1299.2 3233.7 1301.3 3254.2C1303.4 3274.8 1306.2 3299.0 1308.6 3319.6C1311.0 3340.2 1313.1 3359.6 1315.8 3377.7C1318.6 3395.9 1321.9 3414.7 1324.9 3428.6C1327.9 3442.5 1330.7 3452.8 1334.0 3461.3C1337.3 3469.7 1341.3 3475.7 1344.9 3479.4C1348.5 3483.2 1352.2 3483.8 1355.8 3483.8C1359.4 3483.8 1363.1 3482.6 1366.7 3479.4C1370.3 3476.3 1374.0 3472.2 1377.6 3464.9C1381.2 3457.6 1384.8 3447.9 1388.5 3435.8C1392.1 3423.7 1395.7 3408.6 1399.4 3392.3C1403.0 3375.9 1406.6 3357.1 1410.3 3337.8C1413.9 3318.4 1417.8 3296.0 1421.2 3276.0C1424.5 3256.1 1427.2 3237.3 1430.2 3217.9C1433.3 3198.5 1436.6 3176.5 1439.3 3159.8C1442.1 3143.2 1444.4 3127.3 1446.7 3118.0C1449.0 3108.8 1450.1 3104.1 1452.9 3104.1C1455.5 3104.1 1456.5 3112.6 1458.8 3128.8C1461.1 3145.0 1463.3 3176.7 1466.8 3201.2C1470.4 3225.8 1474.6 3250.1 1480.0 3276.1C1485.3 3302.0 1494.1 3339.3 1499.0 3356.8C1504.0 3374.3 1506.8 3376.0 1509.8 3381.0C1512.7 3385.9 1513.4 3386.3 1516.5 3386.3C1519.5 3386.3 1521.2 3372.9 1523.2 3362.2C1525.2 3351.4 1525.8 3351.0 1528.5 3321.9C1531.2 3292.9 1536.1 3228.0 1539.3 3187.8C1542.4 3147.6 1545.2 3105.1 1547.3 3080.5C1549.5 3055.9 1550.8 3048.5 1552.1 3040.2C1553.5 3032.0 1552.8 3030.9 1555.4 3030.9C1558.0 3030.9 1557.5 3036.9 1558.6 3042.9C1559.7 3049.0 1560.4 3051.9 1562.1 3067.1C1563.8 3082.3 1565.0 3105.1 1568.8 3134.1C1572.6 3163.2 1578.6 3210.1 1584.9 3241.4C1591.1 3272.7 1600.5 3303.2 1606.3 3321.9C1612.1 3340.7 1616.4 3347.6 1619.7 3354.1C1623.1 3360.6 1623.4 3360.8 1626.5 3360.8C1629.1 3360.8 1628.9 3337.4 1629.7 3321.9C1630.4 3306.5 1630.2 3295.1 1631.0 3268.3C1631.8 3241.4 1633.5 3186.9 1634.5 3161.0C1635.5 3135.0 1636.3 3123.2 1637.2 3112.7C1638.1 3102.2 1637.3 3097.9 1639.9 3097.9C1642.5 3097.9 1642.2 3102.2 1643.4 3107.3C1644.5 3112.5 1644.7 3115.4 1646.6 3128.8C1648.5 3142.2 1650.6 3162.3 1654.6 3187.8C1658.6 3213.3 1665.8 3255.8 1670.7 3281.7C1675.6 3307.6 1680.3 3329.8 1684.1 3343.4C1687.9 3357.0 1689.3 3363.5 1693.5 3363.5C1696.1 3363.5 1695.3 3342.3 1695.4 3321.9C1695.5 3301.6 1695.0 3272.7 1694.3 3241.4C1693.6 3210.1 1691.2 3160.3 1691.1 3134.1C1691.0 3108.0 1690.9 3084.5 1693.5 3084.5C1696.1 3084.5 1695.9 3089.2 1697.0 3093.9C1698.1 3098.6 1698.4 3101.5 1700.2 3112.7C1702.1 3123.9 1704.3 3139.5 1708.3 3161.0C1712.3 3182.4 1718.6 3216.9 1724.4 3241.4C1730.2 3266.0 1738.2 3292.0 1743.2 3308.5C1748.1 3325.1 1751.0 3333.8 1753.9 3340.7C1756.8 3347.6 1757.6 3350.1 1760.6 3350.1C1763.2 3350.1 1762.5 3299.8 1763.3 3268.3C1764.0 3236.8 1764.3 3186.9 1765.2 3161.0C1766.0 3135.0 1766.0 3112.7 1768.6 3112.7C1771.2 3112.7 1772.0 3127.0 1774.0 3139.5C1776.0 3152.0 1777.4 3161.9 1780.7 3187.8C1784.1 3213.7 1790.8 3270.1 1794.1 3295.1C1797.5 3320.1 1799.0 3329.1 1800.8 3338.0C1802.6 3347.0 1802.3 3348.8 1804.9 3348.8C1807.5 3348.8 1807.2 3277.2 1808.1 3241.4C1809.0 3205.7 1809.2 3157.2 1810.2 3134.1C1811.2 3111.1 1811.6 3103.3 1814.2 3103.3C1817.3 3103.3 1818.9 3119.2 1821.0 3128.8C1823.0 3138.4 1823.6 3133.2 1826.3 3161.0C1829.1 3188.7 1834.1 3259.3 1837.6 3295.1C1841.0 3330.9 1844.5 3357.3 1846.9 3375.6C1849.4 3393.9 1849.7 3405.1 1852.3 3405.1C1854.9 3405.1 1856.1 3389.4 1857.7 3375.6C1859.2 3361.7 1859.7 3353.2 1861.7 3321.9C1863.7 3290.6 1867.7 3223.6 1869.8 3187.8C1871.8 3152.0 1872.4 3125.4 1873.8 3107.3C1875.1 3089.2 1875.2 3079.1 1877.8 3079.1C1880.4 3079.1 1881.4 3087.0 1883.2 3093.9C1885.0 3100.8 1885.4 3102.8 1888.5 3120.7C1891.7 3138.6 1897.9 3172.1 1901.9 3201.2C1906.0 3230.3 1909.5 3266.0 1912.7 3295.1C1915.8 3324.2 1918.3 3350.3 1920.7 3375.6C1923.2 3400.8 1924.4 3446.7 1927.4 3446.7C1930.4 3446.7 1931.7 3391.9 1934.1 3348.8C1936.6 3305.6 1939.7 3232.5 1942.2 3187.8C1944.6 3143.1 1947.0 3103.8 1948.9 3080.5C1950.8 3057.1 1951.1 3047.8 1953.7 3047.8C1956.3 3047.8 1955.7 3070.6 1958.3 3107.3C1960.8 3144.1 1965.4 3219.1 1969.0 3268.3C1972.6 3317.5 1976.6 3364.9 1979.7 3402.4C1982.9 3439.9 1984.2 3493.1 1987.8 3493.1C1990.4 3493.1 1991.1 3453.3 1993.2 3402.4C1995.2 3351.5 1998.1 3245.9 1999.9 3187.8C2001.7 3129.7 2002.4 3085.4 2003.9 3053.7C2005.4 3021.9 2006.1 2997.0 2008.7 2997.0C2011.3 2997.0 2011.4 3012.9 2013.3 3026.8C2015.2 3040.7 2016.6 3049.2 2020.0 3080.5C2023.3 3111.8 2029.4 3172.1 2033.4 3214.6C2037.4 3257.1 2041.4 3307.6 2044.1 3335.3C2046.9 3363.1 2047.4 3381.0 2050.0 3381.0C2052.6 3381.0 2052.3 3309.4 2053.5 3268.3C2054.8 3227.1 2055.8 3166.1 2057.5 3134.1C2059.3 3102.2 2061.2 3076.5 2064.3 3076.5C2067.3 3076.5 2068.1 3108.9 2071.0 3134.1C2073.9 3159.4 2078.8 3204.8 2081.7 3228.0C2084.6 3251.3 2085.4 3273.6 2088.4 3273.6C2091.0 3273.6 2091.3 3242.3 2092.4 3214.6C2093.5 3186.9 2094.4 3143.1 2095.1 3107.3C2095.8 3071.5 2096.2 3036.6 2096.4 3000.0C2096.7 2963.4 2096.2 2915.4 2096.8 2887.8C2097.4 2860.1 2098.7 2846.2 2100.0 2834.1C2101.4 2822.1 2102.3 2815.4 2104.9 2815.4C2107.5 2815.4 2107.6 2827.4 2108.9 2839.5C2110.2 2851.6 2110.9 2867.2 2112.9 2887.8C2114.9 2908.4 2118.5 2945.7 2121.0 2962.9C2123.4 2980.1 2124.7 2991.1 2127.7 2991.1C2130.3 2991.1 2131.5 2949.7 2133.0 2914.6C2134.6 2879.5 2135.5 2820.7 2137.1 2780.5C2138.6 2740.2 2140.6 2704.5 2142.4 2673.2C2144.2 2641.9 2146.0 2610.9 2147.8 2592.7C2149.5 2574.4 2150.3 2563.7 2152.9 2563.7C2155.5 2563.7 2156.4 2574.4 2158.0 2592.7C2159.6 2610.9 2160.7 2647.0 2162.5 2673.2C2164.4 2699.4 2167.0 2723.1 2169.0 2749.9C2171.0 2776.7 2172.3 2797.7 2174.6 2834.1C2176.9 2870.5 2179.3 2923.6 2182.7 2968.3C2186.0 3013.0 2191.6 3073.4 2194.7 3102.4C2197.9 3131.5 2199.5 3134.2 2201.4 3142.7C2203.4 3151.2 2203.7 3153.4 2206.3 3153.4C2208.9 3153.4 2209.2 3146.7 2210.8 3129.2C2212.5 3111.8 2213.3 3084.5 2216.2 3048.8C2219.1 3013.0 2224.0 2957.1 2228.3 2914.6C2232.5 2872.1 2237.9 2820.1 2241.7 2793.9C2245.5 2767.7 2246.9 2757.7 2251.1 2757.7C2254.1 2757.7 2255.3 2803.5 2257.8 2834.1C2260.2 2864.8 2262.2 2941.4 2265.8 2941.4C2268.4 2941.4 2269.2 2869.2 2271.2 2834.1C2273.2 2799.0 2274.9 2730.9 2277.9 2730.9C2280.9 2730.9 2282.2 2790.1 2284.6 2834.1C2287.1 2878.2 2290.0 2945.9 2292.7 2995.1C2295.3 3044.3 2298.3 3100.4 2300.7 3129.2C2303.1 3158.1 2304.1 3168.1 2306.9 3168.1C2310.1 3168.1 2311.6 3091.0 2314.1 3048.8C2316.7 3006.5 2319.7 2951.3 2322.2 2914.6C2324.6 2878.0 2327.1 2844.9 2328.9 2828.8C2330.7 2812.7 2330.3 2818.0 2332.9 2818.0C2336.5 2818.0 2337.8 2840.4 2341.0 2861.0C2344.1 2881.5 2348.5 2916.9 2351.7 2941.4C2354.9 2966.0 2357.5 2970.6 2360.0 3008.5C2362.5 3046.4 2363.8 3169.0 2366.8 3169.0C2369.8 3169.0 2371.3 3097.4 2373.5 3067.0C2375.8 3036.6 2377.2 2986.6 2380.2 2986.6C2384.5 2986.6 2386.3 3063.0 2389.6 3093.9C2393.0 3124.7 2395.5 3171.7 2400.4 3171.7C2403.0 3171.7 2400.0 3088.3 2399.6 3040.2C2399.1 2992.1 2395.1 2883.3 2397.7 2883.3C2400.7 2883.3 2402.2 2955.9 2404.4 2986.6C2406.6 3017.2 2408.1 3067.0 2411.1 3067.0C2413.7 3067.0 2414.8 3010.3 2416.5 2986.6C2418.2 2962.9 2418.7 2924.8 2421.3 2924.8C2423.9 2924.8 2425.3 2989.7 2427.2 3013.4C2429.1 3037.1 2430.0 3067.0 2432.6 3067.0C2435.2 3067.0 2436.1 3019.9 2437.9 3000.0C2439.7 2980.1 2440.7 2947.7 2443.3 2947.7C2446.3 2947.7 2447.5 3013.6 2450.0 3040.2C2452.5 3066.8 2454.4 3107.3 2458.0 3107.3C2461.7 3107.3 2463.2 3029.7 2466.1 3000.0C2469.0 2970.2 2471.3 2928.9 2475.5 2928.9C2479.7 2928.9 2481.5 2979.2 2484.9 3013.4C2488.2 3047.6 2491.7 3101.2 2495.6 3134.1C2499.5 3167.0 2502.5 3210.6 2508.2 3210.6C2512.2 3210.6 2515.1 3140.1 2517.1 3093.9C2519.1 3047.6 2519.4 2982.1 2520.3 2932.9C2521.2 2883.7 2521.6 2830.1 2522.4 2798.8C2523.2 2767.5 2524.0 2756.7 2525.1 2745.1C2526.2 2733.5 2526.5 2729.0 2529.1 2729.0C2531.7 2729.0 2531.6 2733.5 2533.2 2745.1C2534.7 2756.7 2535.8 2771.9 2538.5 2798.8C2541.2 2825.6 2545.2 2864.2 2549.3 2906.1C2553.3 2947.9 2557.6 3017.6 2562.7 3049.9C2567.7 3082.1 2572.0 3099.8 2579.6 3099.8C2584.0 3099.8 2585.6 3027.8 2589.5 2986.6C2593.4 2945.3 2598.0 2892.7 2602.9 2852.4C2607.8 2812.2 2615.2 2767.0 2619.0 2745.1C2622.8 2723.2 2623.9 2725.6 2625.7 2721.0C2627.5 2716.4 2627.1 2717.5 2629.7 2717.5C2632.3 2717.5 2632.4 2722.2 2633.8 2729.0C2635.1 2735.8 2636.0 2737.9 2637.8 2758.5C2639.6 2779.1 2642.7 2814.4 2644.5 2852.4C2646.3 2890.4 2645.3 2927.4 2648.5 2986.6C2651.7 3045.7 2656.9 3207.1 2663.8 3207.1C2667.8 3207.1 2669.8 3112.7 2672.7 3067.0C2675.5 3021.3 2678.3 2964.2 2680.7 2932.9C2683.2 2901.6 2684.4 2879.2 2687.4 2879.2C2691.6 2879.2 2693.5 2910.5 2696.8 2932.9C2700.2 2955.3 2704.4 2988.8 2707.5 3013.4C2710.7 3038.0 2714.2 3069.3 2715.6 3080.4" stroke="#000080"/>
<path d="M880.0 3573.9C881.2 3573.4 884.5 3573.1 887.3 3571.0C890.0 3568.8 893.3 3565.5 896.3 3561.1C899.4 3556.8 902.1 3552.4 905.4 3544.8C908.8 3537.2 912.7 3526.6 916.3 3515.7C920.0 3504.8 923.6 3492.7 927.2 3479.4C930.8 3466.1 935.1 3450.4 938.1 3435.8C941.1 3421.3 943.3 3406.8 945.4 3392.3C947.5 3377.7 949.0 3363.2 950.8 3348.7C952.6 3334.1 954.2 3319.6 956.3 3305.1C958.4 3290.6 960.5 3276.0 963.5 3261.5C966.6 3247.0 970.2 3230.6 974.4 3217.9C978.7 3205.2 983.5 3194.3 989.0 3185.2C994.4 3176.2 1001.7 3169.5 1007.1 3163.4C1012.6 3157.4 1017.7 3152.4 1021.6 3148.9C1025.6 3145.5 1028.3 3143.3 1030.7 3142.7C1033.1 3142.1 1034.4 3143.0 1036.2 3145.3C1038.0 3147.5 1039.5 3150.1 1041.6 3156.2C1043.7 3162.2 1046.2 3171.3 1048.9 3181.6C1051.6 3191.9 1054.6 3203.4 1058.0 3217.9C1061.3 3232.4 1065.2 3251.8 1068.9 3268.8C1072.5 3285.7 1076.1 3302.1 1079.8 3319.6C1083.4 3337.2 1087.0 3355.9 1090.7 3374.1C1094.3 3392.3 1097.9 3411.6 1101.6 3428.6C1105.2 3445.5 1108.8 3461.3 1112.4 3475.8C1116.1 3490.3 1119.7 3504.2 1123.3 3515.7C1127.0 3527.2 1130.6 3536.9 1134.2 3544.8C1137.9 3552.7 1140.9 3557.8 1145.1 3563.0C1149.4 3568.1 1154.8 3572.8 1159.7 3575.7C1164.5 3578.6 1169.3 3579.3 1174.2 3580.4C1179.0 3581.5 1184.8 3582.1 1188.7 3582.2C1192.7 3582.3 1196.3 3581.3 1197.8 3581.1C1198.4 3579.3 1199.9 3576.3 1201.4 3570.2C1202.9 3564.2 1204.8 3555.1 1206.9 3544.8C1209.0 3534.5 1211.4 3521.8 1214.1 3508.5C1216.9 3495.2 1220.2 3480.0 1223.2 3464.9C1226.3 3449.8 1229.0 3434.6 1232.3 3417.7C1235.6 3400.7 1239.6 3382.6 1243.2 3363.2C1246.8 3343.8 1251.1 3319.6 1254.1 3301.5C1257.1 3283.3 1259.2 3268.8 1261.4 3254.2C1263.5 3239.7 1265.4 3224.0 1266.8 3214.3C1268.2 3204.6 1269.2 3199.2 1269.7 3196.1C1270.0 3198.5 1271.0 3201.0 1271.5 3210.7C1272.1 3220.3 1272.4 3237.9 1273.0 3254.2C1273.6 3270.6 1274.1 3290.6 1275.2 3308.7C1276.3 3326.9 1277.6 3345.0 1279.5 3363.2C1281.5 3381.4 1284.1 3400.1 1286.8 3417.7C1289.5 3435.2 1292.8 3453.4 1295.9 3468.5C1298.9 3483.7 1301.9 3497.0 1304.9 3508.5C1308.0 3520.0 1311.0 3529.7 1314.0 3537.5C1317.1 3545.4 1320.1 3551.8 1323.1 3555.7C1326.1 3559.6 1329.5 3561.1 1332.2 3561.1C1334.9 3561.1 1337.0 3559.0 1339.4 3555.7C1341.9 3552.4 1344.0 3549.0 1346.7 3541.2C1349.4 3533.3 1352.5 3522.4 1355.8 3508.5C1359.1 3494.6 1363.1 3475.8 1366.7 3457.6C1370.3 3439.5 1374.0 3421.3 1377.6 3399.5C1381.2 3377.7 1385.2 3351.1 1388.5 3326.9C1391.8 3302.7 1394.8 3281.5 1397.6 3254.2C1400.3 3227.0 1402.7 3193.7 1404.8 3163.4C1406.9 3133.2 1408.9 3099.9 1410.3 3072.6C1411.7 3045.4 1412.5 3016.0 1413.2 3000.0C1413.9 2984.0 1414.0 2976.4 1414.6 2976.4C1415.2 2976.4 1415.7 2987.0 1416.8 3000.0C1417.9 3013.0 1419.5 3036.3 1421.2 3054.5C1422.8 3072.6 1424.5 3090.2 1426.6 3109.0C1428.7 3127.7 1431.2 3147.7 1433.9 3167.1C1436.6 3186.4 1439.3 3208.3 1443.0 3225.2C1446.7 3242.1 1451.2 3249.9 1456.1 3268.3C1461.0 3286.6 1467.3 3317.9 1472.2 3335.3C1477.1 3352.8 1481.6 3364.9 1485.6 3372.9C1489.6 3381.0 1491.5 3383.6 1496.3 3383.6C1499.4 3383.6 1501.3 3359.0 1503.0 3335.3C1504.8 3311.6 1504.6 3279.5 1507.1 3241.4C1509.5 3203.4 1514.7 3137.9 1517.8 3107.3C1520.9 3076.7 1523.8 3067.1 1525.8 3057.7C1527.9 3048.3 1527.3 3051.0 1529.9 3051.0C1532.5 3051.0 1532.3 3055.9 1533.9 3069.8C1535.5 3083.6 1536.1 3101.1 1539.3 3134.1C1542.4 3167.2 1547.8 3219.1 1552.7 3268.3C1557.6 3317.5 1564.3 3384.5 1568.8 3429.2C1573.2 3474.0 1576.6 3515.8 1579.5 3536.6C1582.4 3557.3 1583.2 3554.0 1586.2 3554.0C1588.8 3554.0 1588.2 3535.0 1588.9 3509.7C1589.6 3484.5 1589.1 3447.1 1590.2 3402.4C1591.4 3357.7 1593.4 3281.7 1595.6 3241.4C1597.8 3201.2 1601.0 3178.2 1603.6 3161.0C1606.3 3143.8 1609.7 3142.4 1611.7 3138.2C1613.7 3133.9 1613.1 3135.5 1615.7 3135.5C1618.3 3135.5 1619.1 3147.8 1621.1 3161.0C1623.1 3174.2 1624.0 3183.3 1627.8 3214.6C1631.6 3245.9 1638.5 3304.0 1643.9 3348.8C1649.3 3393.5 1655.5 3449.4 1660.0 3482.9C1664.5 3516.4 1668.3 3536.6 1670.7 3550.0C1673.1 3563.4 1671.6 3563.4 1674.2 3563.4C1676.8 3563.4 1676.2 3536.6 1676.6 3509.7C1677.0 3482.9 1677.5 3451.6 1676.6 3402.4C1675.7 3353.2 1671.8 3261.1 1671.3 3214.6C1670.7 3168.1 1670.8 3123.4 1673.4 3123.4C1676.4 3123.4 1677.4 3140.4 1680.1 3155.6C1682.8 3170.8 1684.8 3182.4 1689.5 3214.6C1694.2 3246.8 1702.5 3304.0 1708.3 3348.8C1714.1 3393.5 1720.1 3451.2 1724.4 3482.9C1728.6 3514.6 1731.8 3528.5 1733.8 3539.2C1735.8 3550.0 1733.8 3547.3 1736.4 3547.3C1739.0 3547.3 1738.1 3538.3 1738.3 3509.7C1738.5 3481.1 1738.7 3429.2 1737.8 3375.6C1736.9 3321.9 1733.7 3233.2 1733.0 3187.8C1732.2 3142.4 1730.6 3103.3 1733.2 3103.3C1735.8 3103.3 1736.1 3120.1 1737.8 3134.1C1739.4 3148.2 1739.6 3156.5 1743.2 3187.8C1746.7 3219.1 1753.9 3281.7 1759.2 3321.9C1764.6 3362.2 1771.1 3402.9 1775.3 3429.2C1779.6 3455.6 1780.5 3480.2 1784.7 3480.2C1787.3 3480.2 1784.2 3334.9 1784.5 3268.3C1784.8 3201.7 1785.3 3124.7 1786.6 3080.5C1787.9 3036.3 1789.6 3003.2 1792.2 3003.2C1794.8 3003.2 1795.7 3019.3 1797.3 3032.2C1799.0 3045.1 1799.1 3045.6 1802.2 3080.5C1805.2 3115.4 1812.0 3192.3 1815.6 3241.4C1819.2 3290.6 1821.6 3347.6 1823.6 3375.6C1825.6 3403.5 1825.1 3409.1 1827.7 3409.1C1830.4 3409.1 1832.4 3327.5 1833.8 3268.3C1835.3 3209.0 1835.7 3098.1 1836.5 3053.7C1837.4 3009.2 1836.3 3001.3 1838.9 3001.3C1841.5 3001.3 1840.9 3013.6 1842.4 3026.8C1844.0 3040.0 1845.1 3049.2 1848.3 3080.5C1851.5 3111.8 1856.3 3169.9 1861.7 3214.6C1867.1 3259.3 1875.1 3313.0 1880.5 3348.8C1885.8 3384.5 1890.5 3410.5 1893.9 3429.2C1897.3 3448.0 1897.6 3461.4 1900.6 3461.4C1903.2 3461.4 1904.3 3376.5 1905.4 3321.9C1906.6 3267.4 1906.8 3187.8 1907.3 3134.1C1907.8 3080.5 1907.7 3037.6 1908.4 3000.0C1909.1 2962.4 1908.7 2908.5 1911.3 2908.5C1913.9 2908.5 1912.4 2931.1 1913.2 2946.3C1914.1 2961.6 1915.2 2973.2 1916.4 3000.0C1917.7 3026.8 1918.7 3067.1 1920.7 3107.3C1922.8 3147.6 1925.2 3196.7 1928.8 3241.4C1932.3 3286.2 1938.2 3339.8 1942.2 3375.6C1946.2 3411.4 1949.6 3438.4 1952.9 3456.1C1956.3 3473.7 1958.1 3481.6 1962.3 3481.6C1964.9 3481.6 1963.7 3379.8 1964.2 3321.9C1964.7 3264.0 1965.0 3187.8 1965.3 3134.1C1965.5 3080.5 1966.0 3045.2 1965.8 3000.0C1965.6 2954.8 1961.6 2862.9 1964.2 2862.9C1966.8 2862.9 1965.8 2869.8 1967.7 2892.7C1969.5 2915.5 1972.3 2968.7 1975.2 3000.0C1978.1 3031.3 1981.2 3044.7 1985.1 3080.5C1989.0 3116.3 1993.6 3172.1 1998.5 3214.6C2003.4 3257.1 2010.4 3308.1 2014.6 3335.3C2018.9 3362.6 2019.8 3378.3 2024.0 3378.3C2026.6 3378.3 2020.4 3282.1 2018.6 3241.4C2016.9 3200.8 2014.8 3174.4 2013.3 3134.1C2011.8 3093.9 2010.5 3044.7 2009.8 3000.0C2009.1 2955.3 2009.2 2896.6 2009.3 2865.9C2009.3 2835.1 2007.7 2815.4 2010.3 2815.4C2012.9 2815.4 2011.5 2821.7 2014.6 2852.4C2017.8 2883.2 2024.6 2966.5 2029.1 3000.0C2033.6 3033.5 2037.6 3026.8 2041.4 3053.7C2045.3 3080.5 2048.4 3129.4 2052.2 3161.0C2056.0 3192.5 2058.8 3242.8 2064.3 3242.8C2066.9 3242.8 2063.2 3036.4 2062.7 2968.3C2062.3 2900.2 2061.8 2881.8 2061.4 2834.1C2061.0 2786.5 2057.7 2682.6 2060.3 2682.6C2062.9 2682.6 2061.8 2702.2 2062.5 2713.4C2063.2 2724.6 2061.8 2720.8 2064.4 2749.9C2067.0 2779.0 2073.5 2851.4 2078.0 2887.8C2082.6 2924.2 2087.4 2949.0 2091.5 2968.3C2095.5 2987.5 2097.4 3003.2 2102.2 3003.2C2104.8 3003.2 2102.0 2907.0 2101.9 2834.1C2101.9 2761.3 2101.8 2655.3 2101.9 2565.9C2102.1 2476.4 2101.8 2363.4 2102.7 2297.6C2103.6 2231.8 2104.7 2171.0 2107.3 2171.0C2109.9 2171.0 2109.4 2209.4 2110.8 2243.9C2112.2 2278.4 2113.0 2324.4 2115.6 2378.1C2118.2 2431.7 2121.2 2503.9 2126.3 2565.9C2131.4 2627.8 2140.8 2696.2 2146.2 2749.9C2151.5 2803.6 2154.7 2846.9 2158.5 2887.8C2162.4 2928.7 2166.8 2974.5 2169.3 2995.1C2171.7 3015.7 2170.7 3011.2 2173.3 3011.2C2176.3 3011.2 2177.8 2931.3 2180.0 2887.8C2182.2 2844.2 2184.5 2796.0 2186.7 2749.9C2188.9 2703.8 2190.2 2610.9 2193.1 2610.9C2195.7 2610.9 2195.0 2623.2 2196.1 2646.3C2197.2 2669.5 2198.1 2718.6 2199.8 2749.9C2201.6 2781.2 2203.9 2802.2 2206.8 2834.1C2209.8 2866.1 2214.0 2914.6 2217.5 2941.4C2221.1 2968.3 2223.4 2995.1 2228.3 2995.1C2230.9 2995.1 2229.3 2883.3 2229.6 2834.1C2230.0 2785.0 2230.2 2741.6 2230.4 2700.0C2230.6 2658.4 2228.1 2584.6 2230.7 2584.6C2233.3 2584.6 2233.9 2618.8 2236.3 2646.3C2238.8 2673.9 2242.8 2714.1 2245.4 2749.9C2248.1 2785.7 2249.5 2824.6 2252.4 2861.0C2255.4 2897.4 2257.8 2937.0 2263.2 2968.3C2268.5 2999.6 2275.0 3048.8 2284.6 3048.8C2287.6 3048.8 2289.6 2937.6 2291.3 2887.8C2293.1 2838.0 2293.7 2799.1 2295.1 2749.9C2296.4 2700.7 2297.9 2632.3 2299.4 2592.7C2300.8 2553.1 2302.3 2529.3 2303.9 2512.2C2305.5 2495.1 2306.4 2490.2 2309.0 2490.2C2311.6 2490.2 2312.4 2495.1 2314.1 2512.2C2315.9 2529.3 2316.4 2553.1 2319.5 2592.7C2322.6 2632.3 2330.0 2696.2 2332.6 2749.9C2335.3 2803.6 2334.6 2857.9 2335.6 2914.6C2336.5 2971.4 2335.7 3090.3 2338.3 3090.3C2341.9 3090.3 2343.9 2966.3 2346.3 2914.6C2348.8 2863.0 2351.5 2812.2 2353.0 2780.5C2354.5 2748.7 2352.8 2724.1 2355.4 2724.1C2358.0 2724.1 2355.9 2831.0 2356.6 2879.2C2357.4 2927.4 2358.0 2973.1 2360.1 3013.4C2362.3 3053.6 2365.3 3120.7 2369.5 3120.7C2372.5 3120.7 2374.7 2986.6 2376.2 2932.9C2377.8 2879.2 2378.3 2828.3 2378.9 2798.8C2379.5 2769.2 2377.1 2755.8 2379.7 2755.8C2382.3 2755.8 2382.4 2814.0 2384.3 2852.4C2386.1 2890.9 2388.1 2950.8 2391.0 2986.6C2393.9 3022.3 2396.9 3067.0 2401.7 3067.0C2405.3 3067.0 2407.7 2908.3 2409.8 2852.4C2411.8 2796.5 2412.8 2754.9 2413.8 2731.7C2414.8 2708.4 2413.1 2712.9 2415.7 2712.9C2418.3 2712.9 2417.7 2744.2 2419.1 2771.9C2420.6 2799.7 2421.9 2879.2 2424.5 2879.2C2427.1 2879.2 2428.1 2798.1 2429.9 2771.9C2431.7 2745.8 2432.6 2722.3 2435.2 2722.3C2438.3 2722.3 2439.5 2772.6 2441.9 2798.8C2444.4 2824.9 2447.3 2857.8 2450.0 2879.2C2452.7 2900.7 2454.4 2927.5 2458.0 2927.5C2461.4 2927.5 2464.4 2838.1 2465.6 2798.8C2466.7 2759.4 2465.6 2713.4 2465.0 2691.4C2464.4 2669.5 2459.5 2667.3 2462.1 2667.3C2464.7 2667.3 2465.4 2677.6 2467.4 2686.1C2469.4 2694.6 2470.3 2699.5 2474.1 2718.3C2477.9 2737.1 2485.3 2774.2 2490.2 2798.8C2495.2 2823.4 2500.1 2850.6 2503.6 2865.8C2507.2 2881.0 2508.1 2890.0 2511.7 2890.0C2515.3 2890.0 2517.1 2854.2 2519.7 2825.6C2522.4 2797.0 2525.1 2754.0 2527.8 2718.3C2530.5 2682.5 2532.7 2642.3 2535.8 2611.0C2539.0 2579.7 2543.0 2551.5 2546.6 2530.5C2550.1 2509.5 2554.5 2493.3 2557.3 2484.9C2560.1 2476.5 2560.7 2480.0 2563.5 2480.0C2566.1 2480.0 2566.4 2486.3 2568.0 2503.7C2569.7 2521.0 2571.6 2552.8 2573.4 2584.1C2575.2 2615.4 2577.0 2660.1 2578.8 2691.4C2580.6 2722.7 2582.2 2753.6 2584.1 2771.9C2586.1 2790.3 2587.5 2801.4 2590.3 2801.4C2593.6 2801.4 2595.4 2772.4 2597.5 2745.1C2599.6 2717.8 2601.3 2666.9 2602.9 2637.8C2604.5 2608.7 2605.5 2584.8 2606.9 2570.7C2608.4 2556.6 2608.9 2553.3 2611.5 2553.3C2614.1 2553.3 2614.2 2570.1 2616.3 2597.6C2618.5 2625.1 2621.7 2678.0 2624.4 2718.3C2627.1 2758.5 2629.7 2811.1 2632.4 2839.0C2635.1 2866.9 2636.8 2885.9 2640.5 2885.9C2643.1 2885.9 2644.5 2835.6 2645.8 2798.8C2647.2 2761.9 2647.5 2698.5 2648.5 2664.6C2649.5 2630.8 2649.1 2595.7 2651.7 2595.7C2654.3 2595.7 2654.4 2612.9 2656.6 2637.8C2658.7 2662.7 2662.2 2713.8 2664.6 2745.1C2667.1 2776.4 2669.5 2807.7 2671.3 2825.6C2673.1 2843.5 2672.7 2852.4 2675.3 2852.4C2677.9 2852.4 2678.3 2794.3 2679.4 2771.9C2680.5 2749.6 2681.1 2730.8 2682.1 2718.3C2683.0 2705.8 2682.7 2696.8 2685.3 2696.8C2688.0 2696.8 2688.6 2719.2 2691.4 2745.1C2694.3 2771.0 2699.0 2821.1 2702.2 2852.4C2705.3 2883.7 2707.5 2917.0 2710.2 2932.9C2712.9 2948.8 2714.6 2947.7 2718.3 2947.7C2721.9 2947.7 2723.6 2924.2 2726.3 2906.1C2729.0 2888.0 2732.1 2856.0 2734.4 2839.0C2736.6 2822.0 2739.1 2809.9 2740.0 2804.1" stroke="#fff100"/>
<path d="M927.2 3559.3C929.0 3559.8 934.8 3561.9 938.1 3561.9C941.4 3561.9 944.8 3561.6 947.2 3559.3C949.6 3557.1 950.8 3554.5 952.6 3548.4C954.5 3542.4 956.3 3533.9 958.1 3523.0C959.9 3512.1 961.4 3498.8 963.5 3483.1C965.7 3467.3 968.4 3447.3 970.8 3428.6C973.2 3409.8 975.6 3389.2 978.1 3370.5C980.5 3351.7 982.9 3332.3 985.3 3316.0C987.7 3299.6 989.6 3287.5 992.6 3272.4C995.6 3257.3 999.9 3238.5 1003.5 3225.2C1007.1 3211.9 1010.8 3201.3 1014.4 3192.5C1018.0 3183.7 1022.0 3177.1 1025.3 3172.5C1028.6 3168.0 1031.9 3166.0 1034.4 3165.3C1036.8 3164.5 1038.0 3165.1 1039.8 3167.8C1041.6 3170.5 1043.1 3173.9 1045.3 3181.6C1047.4 3189.3 1049.8 3201.0 1052.5 3214.3C1055.2 3227.6 1058.3 3243.9 1061.6 3261.5C1064.9 3279.1 1068.9 3300.2 1072.5 3319.6C1076.1 3339.0 1079.8 3358.4 1083.4 3377.7C1087.0 3397.1 1090.7 3417.7 1094.3 3435.8C1097.9 3454.0 1101.6 3471.6 1105.2 3486.7C1108.8 3501.8 1112.4 3515.7 1116.1 3526.6C1119.7 3537.5 1123.3 3545.7 1127.0 3552.1C1130.6 3558.4 1134.2 3562.1 1137.9 3564.8C1141.5 3567.5 1145.1 3568.2 1148.8 3568.4C1152.4 3568.6 1155.4 3567.7 1159.7 3565.9C1163.9 3564.1 1169.3 3561.0 1174.2 3557.5C1179.0 3554.0 1183.9 3549.9 1188.7 3544.8C1193.6 3539.7 1199.0 3533.9 1203.2 3526.6C1207.5 3519.4 1210.5 3510.9 1214.1 3501.2C1217.8 3491.5 1221.4 3481.2 1225.0 3468.5C1228.7 3455.8 1232.3 3440.7 1235.9 3424.9C1239.6 3409.2 1243.2 3391.7 1246.8 3374.1C1250.5 3356.5 1254.7 3336.0 1257.7 3319.6C1260.8 3303.3 1263.1 3288.1 1265.0 3276.0C1266.9 3263.9 1268.0 3252.6 1269.4 3247.0C1270.7 3241.3 1271.6 3242.3 1273.0 3242.3C1274.4 3242.3 1275.7 3242.6 1277.7 3247.0C1279.7 3251.4 1282.2 3258.5 1285.0 3268.8C1287.7 3279.1 1291.0 3293.0 1294.0 3308.7C1297.1 3324.5 1300.1 3343.8 1303.1 3363.2C1306.2 3382.6 1309.2 3405.0 1312.2 3424.9C1315.2 3444.9 1318.3 3464.9 1321.3 3483.1C1324.3 3501.2 1327.6 3521.2 1330.4 3533.9C1333.1 3546.6 1335.5 3553.6 1337.6 3559.3C1339.8 3565.1 1341.4 3566.7 1343.1 3568.4C1344.7 3570.2 1345.9 3570.8 1347.4 3569.9C1349.0 3569.0 1349.6 3570.2 1352.2 3563.0C1354.8 3555.8 1359.7 3541.2 1363.1 3526.6C1366.4 3512.1 1369.1 3493.3 1372.1 3475.8C1375.2 3458.2 1377.9 3440.1 1381.2 3421.3C1384.5 3402.5 1388.5 3380.1 1392.1 3363.2C1395.7 3346.3 1399.7 3329.3 1403.0 3319.6C1406.3 3309.9 1409.7 3307.8 1412.1 3305.1C1414.5 3302.4 1416.0 3302.1 1417.5 3303.3C1419.1 3304.5 1420.0 3306.0 1421.2 3312.4C1422.4 3318.7 1423.3 3329.3 1424.8 3341.4C1426.3 3353.5 1428.1 3370.5 1430.2 3385.0C1432.4 3399.5 1435.1 3417.1 1437.5 3428.6C1439.9 3440.1 1442.4 3448.7 1444.8 3454.0C1447.2 3459.3 1448.8 3460.5 1452.0 3460.5C1458.7 3460.5 1462.1 3427.8 1466.8 3402.4C1471.5 3377.1 1476.7 3333.1 1480.2 3308.5C1483.8 3283.9 1485.6 3267.4 1488.3 3254.9C1491.0 3242.3 1492.7 3233.4 1496.3 3233.4C1500.0 3233.4 1501.7 3249.0 1504.4 3268.3C1507.1 3287.5 1508.9 3317.5 1512.4 3348.8C1516.0 3380.1 1520.9 3425.7 1525.8 3456.1C1530.8 3486.5 1537.0 3513.7 1541.9 3531.2C1546.9 3548.6 1551.3 3554.8 1555.4 3560.7C1559.4 3566.6 1561.3 3566.6 1566.1 3566.6C1569.7 3566.6 1572.1 3555.0 1574.1 3536.6C1576.2 3518.1 1576.8 3478.4 1578.2 3456.1C1579.5 3433.7 1579.7 3418.1 1582.2 3402.4C1584.6 3386.8 1589.1 3370.9 1592.9 3362.2C1596.7 3353.5 1599.6 3350.1 1605.0 3350.1C1609.2 3350.1 1611.0 3360.2 1614.4 3375.6C1617.7 3391.0 1621.3 3423.2 1625.1 3442.7C1628.9 3462.1 1631.8 3492.3 1637.2 3492.3C1639.8 3492.3 1641.2 3455.4 1642.5 3429.2C1643.9 3403.1 1644.7 3360.4 1645.2 3335.3C1645.8 3310.3 1643.4 3279.0 1646.0 3279.0C1648.6 3279.0 1649.2 3296.9 1650.6 3308.5C1652.0 3320.1 1652.6 3333.1 1654.6 3348.8C1656.6 3364.4 1658.2 3375.6 1662.7 3402.4C1667.1 3429.2 1676.5 3483.8 1681.4 3509.7C1686.4 3535.7 1689.0 3548.0 1692.2 3558.0C1695.3 3568.1 1696.6 3570.1 1700.2 3570.1C1703.8 3570.1 1706.3 3542.1 1708.3 3509.7C1710.3 3477.3 1711.4 3420.3 1712.3 3375.6C1713.2 3330.9 1713.2 3277.2 1713.6 3241.4C1714.1 3205.7 1714.1 3180.2 1715.0 3161.0C1715.9 3141.7 1716.4 3126.1 1719.0 3126.1C1721.6 3126.1 1722.6 3146.2 1724.4 3161.0C1726.2 3175.7 1727.1 3183.3 1729.7 3214.6C1732.4 3245.9 1737.3 3304.0 1740.5 3348.8C1743.6 3393.5 1744.9 3482.9 1748.5 3482.9C1751.5 3482.9 1753.2 3397.9 1755.2 3348.8C1757.2 3299.6 1758.8 3224.2 1760.6 3187.8C1762.4 3151.4 1763.4 3130.1 1766.0 3130.1C1768.6 3130.1 1769.3 3146.9 1771.3 3161.0C1773.3 3175.1 1774.7 3178.9 1778.0 3214.6C1781.4 3250.4 1787.4 3326.0 1791.4 3375.6C1795.5 3425.2 1797.3 3512.4 1802.2 3512.4C1805.8 3512.4 1808.0 3416.3 1810.2 3375.6C1812.5 3334.9 1814.0 3308.5 1815.6 3268.3C1817.2 3228.0 1817.8 3164.5 1819.6 3134.1C1821.4 3103.7 1823.3 3085.8 1826.3 3085.8C1831.4 3085.8 1833.4 3121.6 1837.6 3161.0C1841.7 3200.3 1847.2 3270.5 1851.0 3321.9C1854.8 3373.4 1858.2 3436.4 1860.4 3469.5C1862.5 3502.6 1861.2 3520.5 1863.8 3520.5C1866.5 3520.5 1867.9 3457.9 1869.8 3429.2C1871.6 3400.6 1872.0 3393.5 1875.1 3348.8C1878.2 3304.0 1885.0 3205.7 1888.5 3161.0C1892.1 3116.3 1894.4 3097.1 1896.6 3080.5C1898.7 3063.8 1898.8 3061.2 1901.4 3061.2C1904.1 3061.2 1905.0 3095.1 1907.3 3134.1C1909.6 3173.1 1912.7 3248.2 1915.4 3295.1C1918.0 3342.1 1920.6 3386.0 1923.4 3415.8C1926.2 3445.7 1928.1 3474.3 1932.0 3474.3C1935.4 3474.3 1937.1 3427.8 1939.5 3375.6C1941.9 3323.4 1944.4 3214.6 1946.2 3161.0C1948.0 3107.3 1948.3 3081.0 1950.2 3053.7C1952.2 3026.3 1954.5 2997.0 1958.0 2997.0C1961.8 2997.0 1962.3 3062.1 1966.3 3107.3C1970.4 3152.5 1978.0 3228.0 1982.4 3268.3C1986.9 3308.5 1990.3 3329.1 1993.2 3348.8C1996.1 3368.4 1996.8 3386.3 1999.9 3386.3C2002.5 3386.3 2002.3 3314.8 2003.9 3268.3C2005.5 3221.8 2007.5 3152.0 2009.3 3107.3C2011.0 3062.6 2012.9 3025.3 2014.6 3000.0C2016.3 2974.7 2016.9 2955.5 2019.5 2955.5C2023.3 2955.5 2025.3 2970.2 2028.0 3000.0C2030.8 3029.8 2033.6 3093.0 2036.1 3134.1C2038.5 3175.3 2039.8 3246.8 2042.8 3246.8C2045.4 3246.8 2045.8 3157.8 2047.2 3102.4C2048.6 3047.0 2050.0 2961.1 2051.2 2914.6C2052.5 2868.1 2052.1 2823.4 2054.7 2823.4C2057.3 2823.4 2057.2 2863.6 2059.3 2887.8C2061.4 2911.9 2064.2 2949.5 2067.3 2968.3C2070.4 2987.1 2073.2 3000.5 2078.0 3000.5C2080.6 3000.5 2080.2 2902.7 2080.7 2861.0C2081.3 2819.2 2081.3 2778.1 2081.3 2749.9C2081.2 2721.7 2079.7 2704.7 2080.5 2692.0C2081.3 2679.2 2083.8 2687.5 2086.1 2673.2C2088.4 2658.9 2091.4 2623.5 2094.1 2606.1C2096.9 2588.8 2098.9 2569.1 2102.7 2569.1C2106.1 2569.1 2107.7 2616.2 2110.2 2646.3C2112.8 2676.5 2115.3 2718.6 2118.0 2749.9C2120.7 2781.2 2123.4 2810.0 2126.3 2834.1C2129.3 2858.2 2131.5 2894.5 2135.7 2894.5C2139.9 2894.5 2142.2 2835.3 2145.1 2807.3C2148.0 2779.4 2150.5 2744.5 2153.2 2726.8C2155.8 2709.2 2157.6 2701.3 2161.2 2701.3C2167.2 2701.3 2170.1 2767.3 2174.6 2807.3C2179.1 2847.3 2183.3 2900.3 2188.0 2941.4C2192.7 2982.6 2196.2 3054.1 2202.8 3054.1C2208.2 3054.1 2211.3 2982.6 2214.9 2941.4C2218.4 2900.3 2222.1 2839.2 2224.3 2807.3C2226.4 2775.4 2226.0 2790.1 2228.0 2749.9C2230.0 2709.7 2234.3 2607.2 2236.3 2565.9C2238.3 2524.5 2237.5 2502.0 2240.1 2502.0C2242.7 2502.0 2242.9 2578.2 2243.3 2619.5C2243.7 2660.8 2243.1 2700.7 2242.8 2749.9C2242.4 2799.1 2241.3 2864.8 2241.2 2914.6C2241.0 2964.4 2239.1 3048.8 2241.7 3048.8C2246.5 3048.8 2248.8 3004.0 2252.4 2968.3C2256.0 2932.5 2259.8 2873.0 2263.2 2834.1C2266.5 2795.2 2268.2 2734.9 2272.3 2734.9C2274.9 2734.9 2276.3 2817.6 2277.9 2861.0C2279.5 2904.3 2280.6 2961.6 2281.9 2995.1C2283.3 3028.6 2283.4 3062.2 2286.0 3062.2C2290.2 3062.2 2291.5 3010.8 2295.3 2968.3C2299.1 2925.8 2304.7 2845.3 2308.8 2807.3C2312.8 2769.3 2316.6 2753.9 2319.5 2740.2C2322.4 2726.6 2323.2 2725.5 2326.2 2725.5C2329.8 2725.5 2331.8 2749.0 2334.2 2767.1C2336.7 2785.2 2338.0 2800.6 2341.0 2834.1C2343.9 2867.7 2348.5 2928.0 2351.7 2968.3C2354.9 3008.5 2358.1 3054.7 2360.0 3075.6C2361.9 3096.5 2360.2 3093.9 2362.8 3093.9C2365.4 3093.9 2365.6 3015.8 2366.8 2986.6C2368.1 2957.3 2367.7 2918.1 2370.3 2918.1C2372.9 2918.1 2372.8 2952.8 2374.9 2986.6C2377.0 3020.3 2379.3 3120.7 2382.9 3120.7C2386.5 3120.7 2388.7 3031.3 2391.0 2986.6C2393.2 2941.8 2394.9 2880.0 2396.3 2852.4C2397.8 2824.8 2397.0 2820.8 2399.6 2820.8C2402.2 2820.8 2402.8 2932.1 2404.4 2986.6C2406.0 3041.0 2408.0 3107.7 2409.2 3147.5C2410.5 3187.3 2411.5 3212.4 2411.9 3225.3C2412.7 3194.5 2415.4 3088.9 2416.5 3040.2C2417.5 2991.5 2417.8 2962.1 2418.3 2932.9C2418.9 2903.7 2417.1 2865.3 2419.7 2865.3C2422.5 2865.3 2423.5 2921.6 2425.8 2959.7C2428.2 2997.8 2430.3 3062.6 2433.9 3093.9C2437.5 3125.2 2441.3 3147.5 2447.3 3147.5C2450.9 3147.5 2452.7 3035.7 2455.4 2986.6C2458.0 2937.4 2460.7 2885.0 2463.4 2852.4C2466.1 2819.9 2467.8 2791.2 2471.5 2791.2C2477.5 2791.2 2480.0 2837.7 2484.9 2879.2C2489.8 2920.7 2496.9 3004.4 2501.0 3040.2C2505.0 3076.0 2505.4 3093.9 2509.0 3093.9C2513.2 3093.9 2514.2 3032.2 2518.4 3032.2C2522.6 3032.2 2524.4 3065.7 2527.8 3093.9C2531.1 3122.0 2536.0 3174.8 2538.5 3201.2C2541.1 3227.6 2542.3 3243.7 2543.1 3252.1L2544.7 3252.1C2545.5 3221.3 2547.6 3133.7 2549.3 3067.0C2550.9 3000.4 2552.4 2924.0 2554.6 2852.4C2556.9 2780.9 2560.3 2686.0 2562.7 2637.8C2565.0 2589.6 2565.9 2563.2 2568.6 2563.2C2572.0 2563.2 2573.5 2625.4 2576.1 2664.6C2578.7 2703.9 2581.0 2758.3 2584.1 2798.8C2587.3 2839.2 2590.0 2907.4 2594.9 2907.4C2598.5 2907.4 2600.5 2875.0 2602.9 2852.4C2605.4 2829.8 2608.3 2788.0 2609.6 2771.9C2611.0 2755.8 2608.4 2755.8 2611.0 2755.8C2613.6 2755.8 2614.1 2831.8 2616.3 2879.2C2618.6 2926.6 2621.7 2993.3 2624.4 3040.2C2627.1 3087.2 2629.7 3131.9 2632.4 3160.9C2635.1 3190.0 2636.8 3214.6 2640.5 3214.6C2647.7 3214.6 2650.8 3136.3 2656.6 3093.9C2662.4 3051.4 2670.0 2989.5 2675.3 2959.7C2680.7 2930.0 2682.7 2915.5 2688.8 2915.5C2691.4 2915.5 2689.9 3020.8 2690.4 3067.0C2690.8 3113.3 2688.8 3193.1 2691.4 3193.1C2696.3 3193.1 2698.4 3146.8 2702.2 3120.7C2706.0 3094.5 2708.8 3036.2 2714.2 3036.2C2717.3 3036.2 2717.9 3093.9 2721.0 3093.9C2724.6 3093.9 2727.1 3080.4 2729.0 3067.0C2730.9 3053.6 2731.7 3022.3 2732.2 3013.4" stroke="#ee00ee"/>
<path d="M927.2 3581.1C929.3 3581.5 936.3 3583.4 939.9 3583.3C943.6 3583.2 946.6 3582.6 949.0 3580.4C951.4 3578.2 952.6 3576.2 954.5 3570.2C956.3 3564.3 958.1 3556.3 959.9 3544.8C961.7 3533.3 963.2 3518.2 965.4 3501.2C967.5 3484.3 970.2 3462.5 972.6 3443.1C975.0 3423.7 977.2 3403.8 979.9 3385.0C982.6 3366.2 985.6 3347.5 989.0 3330.5C992.3 3313.6 995.9 3297.2 999.9 3283.3C1003.8 3269.4 1008.3 3257.3 1012.6 3247.0C1016.8 3236.7 1021.3 3227.4 1025.3 3221.6C1029.2 3215.7 1033.5 3213.6 1036.2 3211.7C1038.9 3209.9 1039.8 3209.9 1041.6 3210.7C1043.4 3211.4 1045.3 3212.5 1047.1 3216.1C1048.9 3219.7 1050.4 3223.7 1052.5 3232.4C1054.6 3241.2 1057.4 3255.5 1059.8 3268.8C1062.2 3282.1 1064.3 3296.6 1067.0 3312.4C1069.8 3328.1 1072.8 3345.6 1076.1 3363.2C1079.5 3380.8 1083.4 3400.1 1087.0 3417.7C1090.7 3435.2 1094.3 3452.2 1097.9 3468.5C1101.6 3484.9 1105.2 3501.8 1108.8 3515.7C1112.4 3529.7 1116.1 3542.7 1119.7 3552.1C1123.3 3561.4 1127.0 3567.4 1130.6 3572.0C1134.2 3576.6 1137.9 3578.3 1141.5 3579.7C1145.1 3581.0 1148.2 3580.7 1152.4 3580.0C1156.6 3579.4 1162.1 3577.9 1166.9 3575.7C1171.8 3573.4 1176.6 3571.1 1181.5 3566.6C1186.3 3562.1 1191.1 3556.3 1196.0 3548.4C1200.8 3540.6 1206.3 3530.3 1210.5 3519.4C1214.7 3508.5 1218.1 3497.0 1221.4 3483.1C1224.7 3469.1 1227.8 3452.8 1230.5 3435.8C1233.2 3418.9 1235.6 3400.7 1237.8 3381.4C1239.9 3362.0 1241.7 3340.8 1243.2 3319.6C1244.7 3298.4 1245.9 3273.6 1246.8 3254.2C1247.7 3234.9 1248.0 3215.5 1248.6 3203.4C1249.3 3191.3 1249.6 3185.8 1250.5 3181.6C1251.4 3177.4 1252.6 3177.4 1254.1 3178.0C1255.6 3178.6 1257.4 3179.8 1259.5 3185.2C1261.7 3190.7 1264.1 3200.4 1266.8 3210.7C1269.5 3220.9 1272.9 3233.7 1275.9 3247.0C1278.9 3260.3 1281.9 3275.4 1285.0 3290.6C1288.0 3305.7 1291.0 3321.4 1294.0 3337.8C1297.1 3354.1 1300.1 3372.3 1303.1 3388.6C1306.2 3405.0 1309.2 3420.1 1312.2 3435.8C1315.2 3451.6 1318.3 3469.1 1321.3 3483.1C1324.3 3497.0 1327.6 3510.3 1330.4 3519.4C1333.1 3528.5 1335.3 3533.5 1337.6 3537.5C1339.9 3541.6 1342.1 3544.3 1344.2 3543.7C1346.3 3543.1 1348.1 3541.0 1350.3 3533.9C1352.6 3526.8 1354.9 3515.7 1357.6 3501.2C1360.3 3486.7 1363.4 3467.3 1366.7 3446.7C1370.0 3426.2 1374.0 3400.1 1377.6 3377.7C1381.2 3355.3 1384.8 3331.7 1388.5 3312.4C1392.1 3293.0 1396.0 3276.0 1399.4 3261.5C1402.7 3247.0 1406.2 3232.8 1408.5 3225.2C1410.8 3217.6 1412.0 3217.3 1413.2 3216.1C1414.4 3214.9 1414.9 3214.6 1415.7 3217.9C1416.6 3221.2 1417.4 3225.2 1418.3 3236.1C1419.2 3247.0 1420.1 3267.0 1421.2 3283.3C1422.3 3299.6 1423.3 3316.0 1424.8 3334.1C1426.3 3352.3 1428.1 3372.9 1430.2 3392.3C1432.4 3411.6 1434.8 3432.2 1437.5 3450.4C1440.2 3468.5 1443.9 3489.1 1446.6 3501.2C1449.2 3513.3 1450.9 3515.9 1453.4 3523.1C1455.9 3530.4 1459.2 3540.1 1461.5 3544.6C1463.7 3549.1 1464.2 3550.0 1466.8 3550.0C1469.4 3550.0 1470.4 3538.8 1472.2 3523.1C1474.0 3507.5 1475.3 3489.6 1477.6 3456.1C1479.8 3422.5 1483.1 3357.7 1485.6 3321.9C1488.1 3286.2 1490.2 3260.3 1492.3 3241.4C1494.5 3222.6 1495.7 3208.7 1498.5 3208.7C1501.1 3208.7 1502.5 3236.0 1504.4 3254.9C1506.3 3273.7 1506.2 3292.9 1509.8 3321.9C1513.3 3351.0 1519.6 3397.9 1525.8 3429.2C1532.1 3460.5 1541.5 3492.3 1547.3 3509.7C1553.1 3527.2 1556.9 3529.2 1560.7 3533.9C1564.5 3538.6 1565.9 3537.9 1570.1 3537.9C1572.7 3537.9 1572.8 3527.8 1573.6 3509.7C1574.4 3491.6 1574.3 3460.5 1574.7 3429.2C1575.0 3397.9 1575.2 3345.2 1575.7 3321.9C1576.3 3298.7 1576.9 3297.6 1578.2 3289.7C1579.5 3281.9 1580.9 3275.0 1583.5 3275.0C1586.1 3275.0 1586.9 3282.8 1588.9 3295.1C1590.9 3307.4 1591.8 3321.9 1595.6 3348.8C1599.4 3375.6 1606.3 3427.0 1611.7 3456.1C1617.1 3485.1 1623.5 3508.8 1627.8 3523.1C1632.1 3537.4 1633.3 3541.9 1637.7 3541.9C1640.3 3541.9 1639.7 3506.1 1640.1 3482.9C1640.5 3459.6 1641.3 3433.7 1640.1 3402.4C1639.0 3371.1 1633.7 3318.6 1633.2 3295.1C1632.7 3271.6 1634.6 3261.6 1637.2 3261.6C1640.2 3261.6 1641.0 3269.4 1643.9 3281.7C1646.8 3294.0 1649.7 3310.8 1654.6 3335.3C1659.5 3359.9 1667.1 3401.1 1673.4 3429.2C1679.7 3457.4 1686.8 3488.0 1692.2 3504.4C1697.5 3520.7 1699.6 3527.2 1705.6 3527.2C1708.2 3527.2 1708.6 3503.7 1709.3 3482.9C1710.1 3462.1 1710.0 3429.2 1709.9 3402.4C1709.8 3375.6 1708.1 3340.5 1708.5 3321.9C1708.9 3303.4 1709.7 3291.1 1712.3 3291.1C1714.9 3291.1 1715.7 3310.1 1717.7 3321.9C1719.7 3333.8 1721.0 3339.8 1724.4 3362.2C1727.7 3384.5 1733.8 3429.0 1737.8 3456.1C1741.8 3483.1 1743.7 3524.5 1748.5 3524.5C1751.1 3524.5 1751.3 3476.4 1752.0 3456.1C1752.7 3435.7 1752.5 3427.0 1752.8 3402.4C1753.2 3377.8 1753.5 3328.6 1754.2 3308.5C1754.8 3288.4 1754.0 3281.7 1756.6 3281.7C1759.2 3281.7 1759.7 3292.9 1761.9 3308.5C1764.2 3324.2 1766.4 3342.1 1770.0 3375.6C1773.6 3409.1 1779.8 3476.2 1783.4 3509.7C1787.0 3543.3 1789.4 3562.7 1791.4 3576.8C1793.5 3590.9 1792.9 3594.2 1795.5 3594.2C1798.1 3594.2 1798.8 3573.0 1800.8 3550.0C1802.8 3526.9 1805.5 3498.5 1807.5 3456.1C1809.6 3413.6 1811.1 3331.1 1812.9 3295.1C1814.7 3259.1 1815.7 3240.1 1818.3 3240.1C1820.9 3240.1 1822.3 3256.9 1824.1 3268.3C1826.0 3279.7 1826.4 3286.2 1829.5 3308.5C1832.6 3330.9 1838.0 3368.9 1842.9 3402.4C1847.8 3435.9 1854.8 3484.2 1859.0 3509.7C1863.3 3535.2 1866.2 3546.2 1868.4 3555.3C1870.6 3564.5 1869.8 3564.7 1872.4 3564.7C1875.0 3564.7 1874.8 3550.2 1875.7 3536.6C1876.5 3522.9 1876.1 3518.7 1877.8 3482.9C1879.5 3447.1 1883.6 3362.2 1885.8 3321.9C1888.1 3281.7 1889.6 3259.3 1891.2 3241.4C1892.9 3223.6 1893.2 3214.6 1895.8 3214.6C1898.4 3214.6 1897.8 3237.0 1899.3 3268.3C1900.7 3299.6 1902.4 3362.2 1904.6 3402.4C1906.9 3442.7 1910.0 3485.1 1912.7 3509.7C1915.4 3534.3 1918.6 3541.7 1920.7 3550.0C1922.9 3558.2 1923.0 3559.4 1925.6 3559.4C1928.2 3559.4 1928.7 3549.3 1930.1 3536.6C1931.5 3523.8 1932.1 3527.6 1934.1 3482.9C1936.2 3438.2 1940.0 3321.9 1942.2 3268.3C1944.4 3214.6 1946.0 3183.5 1947.6 3161.0C1949.1 3138.4 1949.0 3132.8 1951.6 3132.8C1954.2 3132.8 1954.0 3156.3 1955.6 3174.4C1957.2 3192.5 1957.8 3203.4 1961.0 3241.4C1964.1 3279.5 1969.9 3355.5 1974.4 3402.4C1978.9 3449.4 1984.4 3497.4 1987.8 3523.1C1991.1 3548.8 1991.5 3556.7 1994.5 3556.7C1997.1 3556.7 1995.6 3508.6 1997.2 3456.1C1998.7 3403.5 2001.9 3292.9 2003.9 3241.4C2005.9 3190.0 2007.5 3166.6 2009.3 3147.6C2011.0 3128.5 2012.0 3127.4 2014.6 3127.4C2017.2 3127.4 2017.3 3146.4 2018.6 3161.0C2020.0 3175.5 2020.7 3183.3 2022.7 3214.6C2024.7 3245.9 2028.6 3314.8 2030.7 3348.8C2032.9 3382.7 2032.9 3418.5 2035.5 3418.5C2038.1 3418.5 2037.8 3364.9 2038.8 3321.9C2039.7 3279.0 2040.3 3210.1 2041.4 3161.0C2042.6 3111.8 2044.1 3054.2 2045.5 3026.8C2046.8 2999.4 2046.9 2996.5 2049.5 2996.5C2052.1 2996.5 2052.2 3012.8 2053.5 3026.8C2054.9 3040.8 2055.5 3060.4 2057.5 3080.5C2059.6 3100.6 2063.1 3132.8 2065.6 3147.6C2068.1 3162.3 2069.3 3169.0 2072.3 3169.0C2074.9 3169.0 2074.3 3108.7 2075.0 3080.5C2075.7 3052.3 2075.8 3036.6 2076.3 3000.0C2076.8 2963.4 2076.4 2897.6 2078.0 2861.0C2079.7 2824.4 2083.0 2800.4 2086.1 2780.5C2089.2 2760.6 2092.0 2741.6 2096.8 2741.6C2100.4 2741.6 2102.2 2800.8 2104.9 2834.1C2107.6 2867.4 2110.2 2910.1 2112.9 2941.4C2115.6 2972.7 2118.0 3001.3 2121.0 3021.9C2124.0 3042.6 2126.4 3065.4 2130.9 3065.4C2134.9 3065.4 2136.9 3024.7 2139.7 2995.1C2142.6 2965.5 2144.7 2914.6 2147.8 2887.8C2150.9 2861.0 2155.2 2844.4 2158.5 2834.1C2161.9 2823.9 2163.7 2826.1 2167.9 2826.1C2173.3 2826.1 2176.2 2859.6 2180.0 2887.8C2183.8 2916.0 2186.9 2964.0 2190.7 2995.1C2194.5 3026.2 2197.4 3074.2 2202.8 3074.2C2207.0 3074.2 2209.7 3003.8 2212.2 2968.3C2214.6 2932.7 2215.8 2884.2 2217.5 2861.0C2219.3 2837.7 2220.3 2828.8 2222.9 2828.8C2225.5 2828.8 2226.3 2833.2 2228.3 2861.0C2230.3 2888.7 2232.7 2960.0 2235.0 2995.1C2237.2 3030.2 2238.7 3071.6 2241.7 3071.6C2245.3 3071.6 2246.6 3023.5 2249.7 2995.1C2252.9 2966.7 2256.9 2921.3 2260.5 2901.2C2264.0 2881.1 2266.4 2874.4 2271.2 2874.4C2276.0 2874.4 2278.6 2934.7 2281.9 2968.3C2285.3 3001.8 2288.6 3051.9 2291.3 3075.6C2294.0 3099.3 2295.0 3110.5 2298.0 3110.5C2301.6 3110.5 2303.4 3027.7 2306.1 2995.1C2308.8 2962.5 2311.7 2930.7 2314.1 2914.6C2316.6 2898.5 2317.8 2898.5 2320.8 2898.5C2323.8 2898.5 2325.1 2934.3 2327.5 2968.3C2330.0 3002.3 2333.4 3057.7 2335.6 3102.4C2337.8 3147.1 2339.4 3205.9 2341.0 3236.6C2342.5 3267.2 2342.4 3286.2 2345.0 3286.2C2348.8 3286.2 2350.7 3244.4 2353.4 3214.6C2356.2 3184.8 2359.6 3128.1 2361.5 3107.3C2363.3 3086.5 2362.1 3089.9 2364.7 3089.9C2367.3 3089.9 2366.0 3131.2 2366.8 3161.0C2367.6 3190.7 2368.6 3242.6 2369.5 3268.3C2370.4 3294.0 2369.6 3315.2 2372.2 3315.2C2374.8 3315.2 2375.3 3276.1 2377.6 3241.4C2379.8 3206.8 2383.4 3143.1 2385.6 3107.3C2387.8 3071.5 2389.5 3045.8 2391.0 3026.8C2392.4 3007.8 2391.9 2993.3 2394.5 2993.3C2397.1 2993.3 2398.1 2989.9 2399.6 3026.8C2401.0 3063.7 2402.2 3153.1 2403.3 3214.6C2404.4 3276.1 2405.5 3365.5 2406.0 3395.7C2406.4 3365.5 2407.8 3271.6 2408.7 3214.6C2409.5 3157.6 2410.2 3083.6 2411.1 3053.7C2411.9 3023.7 2411.2 3034.9 2413.8 3034.9C2416.8 3034.9 2418.5 3119.8 2420.5 3161.0C2422.5 3202.1 2424.2 3253.1 2425.8 3281.7C2427.5 3310.3 2427.8 3332.7 2430.4 3332.7C2433.2 3332.7 2434.2 3279.0 2436.6 3241.4C2438.9 3203.9 2441.9 3145.3 2444.6 3107.3C2447.3 3069.3 2450.0 3035.8 2452.7 3013.4C2455.4 2991.1 2458.3 2981.4 2460.7 2973.2C2463.2 2964.9 2464.4 2963.8 2467.4 2963.8C2470.4 2963.8 2472.1 2980.5 2474.1 2986.6C2476.2 2992.6 2476.8 2984.4 2479.5 3000.0C2482.2 3015.6 2486.2 3053.7 2490.2 3080.5C2494.3 3107.3 2497.6 3161.0 2503.6 3161.0C2508.5 3161.0 2511.2 3109.5 2514.4 3080.5C2517.5 3051.4 2520.3 3004.7 2522.4 2986.6C2524.5 2968.5 2524.4 2971.8 2527.0 2971.8C2529.6 2971.8 2529.8 2998.9 2531.0 3013.4C2532.3 3027.9 2531.9 3059.0 2534.5 3059.0C2537.1 3059.0 2536.5 2987.5 2538.5 2946.3C2540.5 2905.2 2543.9 2848.0 2546.6 2812.2C2549.3 2776.4 2552.4 2749.4 2554.6 2731.7C2556.9 2714.1 2557.4 2706.2 2560.0 2706.2C2562.6 2706.2 2563.6 2727.5 2565.4 2758.6C2567.1 2789.6 2568.9 2852.4 2570.7 2892.7C2572.5 2932.9 2573.0 2968.7 2576.1 3000.0C2579.1 3031.3 2583.2 3080.5 2589.0 3080.5C2594.6 3080.5 2598.4 3026.8 2601.6 3000.0C2604.8 2973.2 2605.8 2938.8 2608.3 2919.5C2610.7 2900.2 2612.7 2884.1 2616.3 2884.1C2622.4 2884.1 2624.4 2889.9 2629.7 2898.1C2635.1 2906.2 2641.8 2912.4 2648.5 2932.9C2655.2 2953.5 2664.2 2996.9 2670.0 3021.5C2675.8 3046.1 2678.9 3059.5 2683.4 3080.5C2687.9 3101.5 2692.3 3123.0 2696.8 3147.6C2701.3 3172.1 2705.9 3203.2 2710.2 3228.0C2714.6 3252.9 2717.2 3296.4 2722.8 3296.4C2725.4 3296.4 2726.6 3241.7 2727.7 3214.6C2728.7 3187.6 2728.8 3147.6 2729.0 3134.1" stroke="#0000f0"/>
<path d="M363.4 3443.8C376.0 3443.0 411.8 3440.3 439.0 3438.7C466.1 3437.2 497.1 3435.7 526.1 3434.8C555.2 3433.8 591.5 3433.1 613.3 3432.9C635.1 3432.8 640.5 3433.8 656.9 3433.7C673.2 3433.5 693.2 3432.8 711.4 3432.2C729.5 3431.7 751.3 3430.7 765.8 3430.4C780.4 3430.1 787.6 3430.0 798.5 3430.4C809.4 3430.8 822.1 3431.3 831.2 3432.9C840.3 3434.6 845.7 3438.2 853.0 3440.2C860.3 3442.2 867.9 3444.3 874.8 3444.9C881.7 3445.5 888.8 3444.7 894.5 3443.8C900.2 3442.9 904.2 3441.7 909.1 3439.5C913.9 3437.2 918.7 3434.0 923.6 3430.4C928.4 3426.8 933.9 3422.8 938.1 3417.7C942.3 3412.5 946.0 3406.8 949.0 3399.5C952.0 3392.3 954.2 3383.8 956.3 3374.1C958.4 3364.4 959.6 3352.9 961.7 3341.4C963.8 3329.9 966.0 3317.2 969.0 3305.1C972.0 3293.0 975.9 3279.1 979.9 3268.8C983.8 3258.5 988.1 3250.6 992.6 3243.3C997.1 3236.1 1002.6 3230.3 1007.1 3225.2C1011.7 3220.0 1016.2 3215.4 1019.8 3212.5C1023.5 3209.6 1026.5 3208.4 1028.9 3207.8C1031.3 3207.1 1032.5 3207.1 1034.4 3208.8C1036.2 3210.5 1037.7 3212.2 1039.8 3217.9C1041.9 3223.7 1044.3 3232.4 1047.1 3243.3C1049.8 3254.2 1053.1 3270.0 1056.2 3283.3C1059.2 3296.6 1061.9 3310.5 1065.2 3323.2C1068.6 3336.0 1072.5 3349.3 1076.1 3359.6C1079.8 3369.9 1082.8 3377.1 1087.0 3385.0C1091.3 3392.9 1096.7 3400.7 1101.6 3406.8C1106.4 3412.8 1110.6 3417.7 1116.1 3421.3C1121.5 3424.9 1127.6 3426.6 1134.2 3428.6C1140.9 3430.5 1148.8 3431.9 1156.0 3432.9C1163.3 3434.0 1170.6 3434.7 1177.8 3434.8C1185.1 3434.8 1193.3 3434.0 1199.6 3433.3C1206.0 3432.6 1213.2 3430.9 1216.0 3430.4C1216.6 3429.5 1218.1 3428.9 1219.6 3424.9C1221.1 3421.0 1222.9 3415.9 1225.0 3406.8C1227.2 3397.7 1229.6 3383.8 1232.3 3370.5C1235.0 3357.1 1238.4 3340.2 1241.4 3326.9C1244.4 3313.6 1247.4 3300.2 1250.5 3290.6C1253.5 3280.9 1256.8 3273.9 1259.5 3268.8C1262.3 3263.6 1265.0 3261.3 1266.8 3259.7C1268.6 3258.1 1268.9 3257.8 1270.4 3259.0C1272.0 3260.2 1273.8 3261.1 1275.9 3267.0C1278.0 3272.8 1280.7 3283.0 1283.2 3294.2C1285.6 3305.4 1288.0 3320.2 1290.4 3334.1C1292.8 3348.1 1295.3 3365.6 1297.7 3377.7C1300.1 3389.8 1302.9 3400.1 1304.9 3406.8C1306.9 3413.4 1308.9 3415.9 1309.7 3417.7C1311.3 3418.0 1316.0 3418.6 1319.5 3419.5C1322.9 3420.4 1326.7 3421.3 1330.4 3423.1C1334.0 3424.9 1337.6 3427.7 1341.3 3430.4C1344.9 3433.1 1348.5 3436.9 1352.2 3439.5C1355.8 3442.1 1359.4 3444.6 1363.1 3446.0C1366.7 3447.4 1370.3 3448.3 1374.0 3447.8C1377.6 3447.3 1381.8 3446.3 1384.8 3443.1C1387.9 3439.9 1390.3 3435.8 1392.1 3428.6C1393.9 3421.3 1394.8 3410.4 1395.7 3399.5C1396.7 3388.6 1396.4 3378.3 1397.6 3363.2C1398.8 3348.1 1400.9 3326.9 1403.0 3308.7C1405.1 3290.6 1407.9 3270.6 1410.3 3254.2C1412.7 3237.9 1415.1 3222.2 1417.5 3210.7C1420.0 3199.2 1422.7 3190.7 1424.8 3185.2C1426.9 3179.8 1428.7 3178.9 1430.2 3178.0C1431.8 3177.1 1432.7 3176.8 1433.9 3179.8C1435.1 3182.8 1436.3 3187.4 1437.5 3196.1C1438.7 3204.9 1439.4 3216.0 1441.1 3232.4C1442.9 3248.9 1445.6 3271.2 1448.0 3295.1C1450.5 3319.0 1451.6 3351.0 1456.1 3375.6C1460.6 3400.2 1470.0 3427.9 1474.9 3442.7C1479.8 3457.4 1482.7 3459.6 1485.6 3464.1C1488.5 3468.6 1489.3 3469.5 1492.3 3469.5C1495.3 3469.5 1497.0 3461.9 1499.0 3450.7C1501.0 3439.5 1502.4 3432.8 1504.4 3402.4C1506.4 3372.0 1508.9 3308.5 1511.1 3268.3C1513.3 3228.0 1515.6 3184.7 1517.8 3161.0C1520.0 3137.3 1522.5 3133.6 1524.5 3126.1C1526.5 3118.6 1527.3 3116.2 1529.9 3116.2C1532.5 3116.2 1532.3 3122.2 1533.9 3134.1C1535.5 3146.1 1535.7 3158.7 1539.3 3187.8C1542.8 3216.9 1549.5 3275.0 1555.4 3308.5C1561.2 3342.1 1568.3 3368.0 1574.1 3389.0C1580.0 3410.0 1585.8 3424.9 1590.2 3434.6C1594.7 3444.4 1596.1 3447.5 1601.0 3447.5C1603.6 3447.5 1604.8 3427.8 1605.8 3415.8C1606.8 3403.8 1607.0 3404.7 1606.9 3375.6C1606.8 3346.5 1604.9 3270.5 1605.3 3241.4C1605.6 3212.4 1607.5 3210.9 1609.0 3201.2C1610.5 3191.5 1611.8 3183.2 1614.4 3183.2C1617.0 3183.2 1617.5 3200.4 1619.7 3214.6C1622.0 3228.8 1623.8 3243.7 1627.8 3268.3C1631.8 3292.9 1639.0 3335.3 1643.9 3362.2C1648.8 3389.0 1653.1 3414.5 1657.3 3429.2C1661.6 3444.0 1663.9 3450.7 1669.4 3450.7C1672.0 3450.7 1671.5 3419.4 1671.8 3402.4C1672.1 3385.4 1672.4 3380.1 1671.3 3348.8C1670.1 3317.5 1665.4 3244.6 1664.8 3214.6C1664.3 3184.7 1665.4 3169.0 1668.0 3169.0C1671.1 3169.0 1672.5 3178.0 1674.7 3187.8C1677.0 3197.6 1677.2 3205.7 1681.4 3228.0C1685.7 3250.4 1694.0 3292.9 1700.2 3321.9C1706.5 3351.0 1713.2 3383.4 1719.0 3402.4C1724.8 3421.4 1727.9 3435.9 1735.1 3435.9C1737.7 3435.9 1739.0 3394.6 1739.9 3375.6C1740.8 3356.6 1740.6 3346.5 1740.5 3321.9C1740.4 3297.3 1738.9 3248.6 1739.4 3228.0C1739.8 3207.5 1740.6 3198.5 1743.2 3198.5C1745.8 3198.5 1746.7 3216.4 1748.5 3228.0C1750.3 3239.7 1750.8 3243.7 1753.9 3268.3C1757.0 3292.9 1763.0 3348.1 1767.3 3375.6C1771.5 3403.1 1773.9 3433.3 1779.4 3433.3C1782.0 3433.3 1783.3 3394.1 1784.2 3375.6C1785.1 3357.0 1784.9 3348.8 1785.0 3321.9C1785.1 3295.1 1784.4 3236.8 1785.0 3214.6C1785.6 3192.5 1786.2 3189.1 1788.8 3189.1C1791.4 3189.1 1791.9 3201.4 1794.1 3214.6C1796.4 3227.8 1798.6 3237.0 1802.2 3268.3C1805.8 3299.6 1811.6 3365.1 1815.6 3402.4C1819.6 3439.7 1821.5 3492.3 1826.3 3492.3C1829.0 3492.3 1830.3 3471.0 1832.2 3456.1C1834.1 3441.1 1835.3 3438.2 1837.6 3402.4C1839.8 3366.6 1843.1 3280.9 1845.6 3241.4C1848.1 3202.0 1849.3 3165.8 1852.3 3165.8C1854.9 3165.8 1855.7 3177.4 1857.7 3187.8C1859.7 3198.2 1860.6 3201.2 1864.4 3228.0C1868.2 3254.9 1875.6 3306.3 1880.5 3348.8C1885.4 3391.2 1890.4 3452.5 1893.9 3482.9C1897.4 3513.3 1898.0 3531.2 1901.4 3531.2C1904.1 3531.2 1905.0 3473.1 1907.3 3429.2C1909.6 3385.4 1912.9 3313.0 1915.4 3268.3C1917.8 3223.6 1920.1 3183.5 1922.1 3161.0C1924.1 3138.4 1924.8 3132.8 1927.4 3132.8C1930.0 3132.8 1930.8 3156.3 1932.8 3187.8C1934.8 3219.3 1936.6 3272.7 1939.5 3321.9C1942.4 3371.1 1947.1 3442.7 1950.2 3482.9C1953.4 3523.1 1956.4 3547.5 1958.3 3563.4C1960.2 3579.3 1959.2 3578.1 1961.8 3578.1C1964.4 3578.1 1965.6 3552.4 1967.7 3509.7C1969.8 3467.0 1972.6 3380.1 1974.4 3321.9C1976.2 3263.8 1976.6 3201.2 1978.4 3161.0C1980.2 3120.7 1982.1 3080.5 1985.1 3080.5C1988.1 3080.5 1989.1 3116.3 1991.8 3147.6C1994.5 3178.9 1997.4 3225.8 2001.2 3268.3C2005.0 3310.8 2010.6 3369.6 2014.6 3402.4C2018.6 3435.3 2020.5 3465.5 2025.4 3465.5C2028.0 3465.5 2027.5 3412.9 2028.0 3375.6C2028.6 3338.3 2027.7 3273.6 2028.6 3241.4C2029.5 3209.3 2031.7 3195.7 2033.4 3182.4C2035.1 3169.1 2036.2 3161.8 2038.8 3161.8C2042.4 3161.8 2043.9 3214.8 2046.8 3241.4C2049.7 3268.1 2053.3 3302.5 2056.2 3321.9C2059.1 3341.4 2060.6 3358.1 2064.3 3358.1C2066.9 3358.1 2067.4 3323.5 2068.3 3295.1C2069.2 3266.7 2069.3 3237.8 2069.6 3187.8C2069.9 3137.8 2069.3 3038.4 2070.0 2995.1C2070.7 2951.8 2072.4 2943.2 2074.0 2928.0C2075.7 2912.8 2077.3 2903.9 2079.9 2903.9C2082.5 2903.9 2083.3 2917.3 2084.7 2928.0C2086.2 2938.8 2087.2 2952.6 2088.8 2968.3C2090.3 2983.9 2091.7 3003.6 2094.1 3021.9C2096.6 3040.3 2099.3 3078.3 2103.5 3078.3C2106.1 3078.3 2105.6 3017.9 2106.2 2968.3C2106.8 2918.6 2105.9 2823.0 2107.0 2780.5C2108.1 2738.0 2110.6 2732.6 2112.9 2713.4C2115.2 2694.2 2118.5 2675.8 2121.0 2665.1C2123.5 2654.5 2124.8 2649.6 2127.9 2649.6C2130.8 2649.6 2132.5 2669.9 2134.4 2686.6C2136.3 2703.3 2137.7 2725.3 2139.5 2749.9C2141.3 2774.5 2142.4 2788.8 2145.1 2834.1C2147.8 2879.5 2152.7 2979.5 2155.8 3021.9C2159.0 3064.4 2161.4 3073.4 2163.9 3089.0C2166.3 3104.7 2167.6 3115.8 2170.6 3115.8C2173.6 3115.8 2174.4 3077.8 2177.3 3048.8C2180.2 3019.7 2184.0 2972.7 2188.0 2941.4C2192.1 2910.1 2197.6 2879.7 2201.4 2861.0C2205.2 2842.2 2208.2 2835.3 2210.8 2828.8C2213.4 2822.3 2214.2 2822.1 2217.0 2822.1C2219.6 2822.1 2220.1 2834.8 2221.6 2850.2C2223.0 2865.7 2224.0 2890.5 2225.6 2914.6C2227.2 2938.8 2228.7 2970.5 2231.0 2995.1C2233.2 3019.7 2236.3 3045.2 2239.0 3062.2C2241.7 3079.2 2243.4 3097.0 2247.1 3097.0C2249.7 3097.0 2250.6 3030.0 2251.1 2995.1C2251.6 2960.2 2249.7 2917.8 2250.0 2887.8C2250.3 2857.8 2250.4 2815.4 2253.0 2815.4C2255.6 2815.4 2255.2 2831.0 2256.4 2847.6C2257.7 2864.1 2258.5 2881.1 2260.5 2914.6C2262.5 2948.2 2265.6 3012.1 2268.5 3048.8C2271.4 3085.4 2273.7 3134.6 2277.9 3134.6C2280.9 3134.6 2282.2 3081.0 2284.6 3048.8C2287.1 3016.6 2290.2 2967.4 2292.7 2941.4C2295.1 2915.5 2297.6 2902.5 2299.4 2893.2C2301.2 2883.8 2300.8 2885.1 2303.4 2885.1C2306.0 2885.1 2307.0 2900.8 2308.8 2914.6C2310.5 2928.5 2311.4 2937.0 2314.1 2968.3C2316.8 2999.6 2321.6 3067.1 2324.9 3102.4C2328.1 3137.7 2329.6 3180.2 2333.4 3180.2C2336.3 3180.2 2337.4 3159.3 2339.9 3142.7C2342.3 3126.0 2345.3 3104.3 2348.0 3080.5C2350.8 3056.7 2353.0 3020.8 2356.1 3000.0C2359.2 2979.2 2362.0 2955.7 2366.8 2955.7C2369.4 2955.7 2369.9 3001.6 2370.9 3026.8C2371.8 3052.1 2372.1 3079.4 2372.7 3107.3C2373.4 3135.3 2372.3 3194.5 2374.9 3194.5C2378.5 3194.5 2380.2 3162.1 2382.9 3134.1C2385.6 3106.2 2389.0 3050.5 2391.0 3026.8C2393.0 3003.1 2392.4 2992.0 2395.0 2992.0C2397.6 2992.0 2397.5 3068.9 2399.0 3107.3C2400.5 3145.8 2401.2 3222.7 2403.8 3222.7C2406.4 3222.7 2406.8 3164.5 2408.4 3134.1C2410.1 3103.7 2412.3 3059.5 2413.8 3040.2C2415.2 3021.0 2414.4 3018.8 2417.0 3018.8C2419.8 3018.8 2421.0 3074.7 2423.2 3107.3C2425.3 3140.0 2428.3 3193.6 2429.9 3214.6C2431.4 3235.6 2430.0 3233.4 2432.6 3233.4C2435.2 3233.4 2433.5 3161.9 2434.2 3134.1C2434.8 3106.4 2435.6 3080.5 2436.6 3067.1C2437.5 3053.7 2437.2 3053.7 2439.8 3053.7C2442.6 3053.7 2443.8 3082.7 2446.0 3107.3C2448.1 3131.9 2450.4 3175.7 2452.7 3201.2C2455.0 3226.7 2456.7 3260.2 2459.9 3260.2C2462.5 3260.2 2463.3 3217.8 2464.7 3187.8C2466.2 3157.8 2468.2 3109.5 2468.8 3080.5C2469.4 3051.4 2468.7 3028.2 2468.2 3013.4C2467.8 2998.7 2463.5 2992.0 2466.1 2992.0C2468.7 2992.0 2469.2 3011.2 2471.5 3021.5C2473.7 3031.7 2475.9 3037.1 2479.5 3053.7C2483.1 3070.2 2488.4 3100.6 2492.9 3120.7C2497.4 3140.8 2501.4 3162.1 2506.3 3174.4C2511.2 3186.7 2515.2 3194.5 2522.4 3194.5C2526.0 3194.5 2528.2 3180.0 2530.5 3161.0C2532.7 3142.0 2533.6 3107.3 2535.8 3080.5C2538.1 3053.7 2540.8 3026.8 2543.9 3000.0C2547.0 2973.2 2551.9 2934.9 2554.6 2919.5C2557.3 2904.1 2557.4 2907.4 2560.0 2907.4C2562.6 2907.4 2561.4 2946.3 2564.0 2946.3C2566.6 2946.3 2565.6 2946.3 2566.7 2932.9C2567.8 2919.5 2568.3 2908.3 2570.7 2865.9C2573.2 2823.4 2578.8 2718.3 2581.4 2678.1C2584.1 2637.8 2585.2 2635.1 2586.8 2624.4C2588.4 2613.8 2588.2 2614.2 2590.8 2614.2C2593.4 2614.2 2593.7 2627.2 2594.9 2651.2C2596.0 2675.3 2596.0 2713.8 2597.5 2758.6C2599.1 2803.3 2602.5 2879.3 2604.3 2919.5C2606.0 2959.8 2606.3 2968.7 2608.3 3000.0C2610.3 3031.3 2613.2 3073.8 2616.3 3107.3C2619.5 3140.8 2623.3 3177.5 2627.1 3201.2C2630.9 3224.9 2633.7 3249.5 2639.1 3249.5C2641.7 3249.5 2642.7 3211.5 2644.5 3187.8C2646.3 3164.1 2647.8 3126.5 2649.9 3107.3C2651.9 3088.1 2654.3 3079.8 2656.6 3072.4C2658.8 3065.1 2660.3 3063.0 2663.3 3063.0C2666.3 3063.0 2668.0 3073.1 2670.0 3080.5C2672.0 3087.9 2672.2 3085.0 2675.3 3107.3C2678.5 3129.7 2684.7 3183.3 2688.8 3214.6C2692.8 3245.9 2696.5 3277.9 2699.5 3295.1C2702.5 3312.3 2703.5 3317.9 2706.7 3317.9C2709.3 3317.9 2708.6 3287.7 2709.1 3268.3C2709.7 3248.8 2708.9 3216.4 2710.0 3201.2C2711.0 3186.0 2713.0 3177.1 2715.6 3177.1C2718.2 3177.1 2719.4 3183.1 2721.0 3185.1C2722.5 3187.1 2722.4 3189.1 2725.0 3189.1C2727.6 3189.1 2727.4 3150.0 2729.0 3134.1C2730.6 3118.3 2732.7 3103.3 2734.4 3093.9C2736.1 3084.5 2738.4 3080.5 2739.2 3077.8" stroke="#700000"/>
</g>
<g transform="translate(-2.5,1964)">
<text font-weight="bold" font-size="129.07" transform="translate(0,123) scale(0.9547,1)" x="295.47 395.60 440.07 490.30 523.12 622.90 723.23 798.48 877.33 917.74 1010.33 1103.95" y="0.00 0.00 0.00 0.00 0.00 0.00 0.00 0.00 0.00 -2.00 -2.00 -2.00">Air HALT PSD</text>
<text font-size="90.70" transform="translate(0,182.7) scale(0.9932,1)" x="146.80 201.32">20</text>
<text font-size="91.57" transform="translate(0,550) scale(1.1295,1)" x="171.81">1</text>
<text font-size="92.15" transform="translate(0,816.3) scale(0.9950,1)" x="127.14 168.41 202.38">0.1</text>
<text font-size="91.57" transform="translate(0,1097.2) scale(0.9707,1)" x="88.01 130.27 163.22 208.07">0.01</text>
<text font-size="83.72" transform="translate(0,1372) scale(0.9825,1)" x="72.54 118.64 177.21 207.86">1E-3</text>
<text font-size="83.72" transform="translate(0,1645) scale(0.9665,1)" x="74.04 120.57 179.85 209.32">1E-4</text>
<text font-size="92.30" transform="translate(0,1721.1) scale(1.0284,1)" x="462.86 512.99">10</text>
<text font-size="92.30" transform="translate(0,1721.1) scale(0.9898,1)" x="1281.55 1332.93 1386.99">100</text>
<text font-size="92.30" transform="translate(0,1721.1) scale(0.9700,1)" x="2131.06 2182.94 2238.36 2292.89">1000</text>
<text font-size="86.63" transform="translate(0,1841.9) scale(0.9639,1)" x="1224.18 1282.83 1314.88 1367.25 1420.00 1473.19 1525.28 1579.36 1627.25 1672.11 1707.10 1774.42 1826.06">Frequency(Hz)</text>
<g transform="translate(2.5,22)"><text font-size="111.0" transform="translate(101,0) rotate(-90) scale(0.95,1)"><tspan x="-487.13" y="-21.6" font-size="106.6">g</tspan><tspan x="-426.35" y="-73" font-size="39.5">2</tspan><tspan x="-404.33" y="3.5" font-size="124">/</tspan><tspan x="-354.63" y="0">H</tspan><tspan x="-265.39" y="0" font-size="105.0">z</tspan></text></g>
</g>
<g fill="none" stroke="#00aeef" stroke-width="8"><line x1="2272.2" y1="4" x2="2829.3" y2="4" stroke-dasharray="15.1 8.9" stroke-dashoffset="0"/><line x1="2272.2" y1="1859.3" x2="2829.3" y2="1859.3" stroke-dasharray="15.1 8.9" stroke-dashoffset="6.5"/><line x1="2272.2" y1="4" x2="2272.2" y2="1859.3" stroke-dasharray="15.1 8.9" stroke-dashoffset="-1.1"/><line x1="2825.3" y1="4" x2="2825.3" y2="1859.3" stroke-dasharray="15.1 8.9" stroke-dashoffset="-1.1"/></g>
<g fill="#00aeef"><rect x="2268.2" y="0" width="8" height="8"/><rect x="2268.2" y="1843.3" width="8" height="20"/><rect x="2821.3" y="0" width="8" height="8"/><rect x="2821.3" y="1843.3" width="8" height="20"/></g>
<g fill="none" stroke="#00aeef" stroke-width="8"><line x1="2272.2" y1="1969.1" x2="2829.3" y2="1969.1" stroke-dasharray="15.1 8.9" stroke-dashoffset="0"/><line x1="2272.2" y1="3825" x2="2829.3" y2="3825" stroke-dasharray="15.1 8.9" stroke-dashoffset="6.5"/><line x1="2272.2" y1="1969.1" x2="2272.2" y2="3825" stroke-dasharray="15.1 8.9" stroke-dashoffset="-1.1"/><line x1="2825.3" y1="1969.1" x2="2825.3" y2="3825" stroke-dasharray="15.1 8.9" stroke-dashoffset="-1.1"/></g>
<g fill="#00aeef"><rect x="2268.2" y="1965.1" width="8" height="8"/><rect x="2268.2" y="3809" width="8" height="20"/><rect x="2821.3" y="1965.1" width="8" height="8"/><rect x="2821.3" y="3809" width="8" height="20"/></g>
</svg>
</body>
</html>
